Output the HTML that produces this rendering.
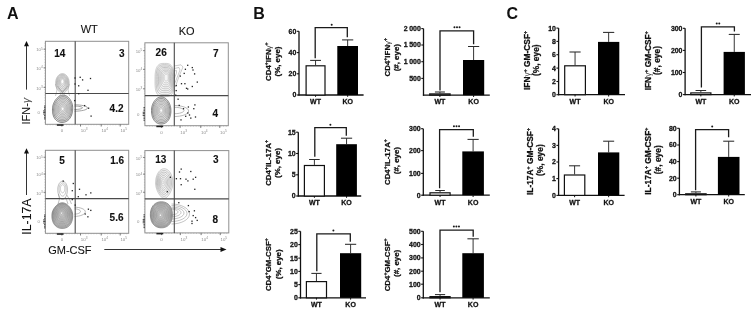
<!DOCTYPE html>
<html><head><meta charset="utf-8"><style>
html,body{margin:0;padding:0;background:#fff;overflow:hidden;width:754px;height:313px;}
svg{display:block;font-family:"Liberation Sans", sans-serif;will-change:transform;}
</style></head><body>
<svg width="754" height="313" viewBox="0 0 754 313">
<defs><filter id="soft" x="-20%" y="-20%" width="140%" height="140%"><feGaussianBlur stdDeviation="0.35"/></filter></defs>
<rect width="754" height="313" fill="#fff"/>
<text x="6.90" y="18.70" font-size="16" font-weight="bold" text-anchor="start" fill="#111" >A</text>
<text x="253.20" y="18.60" font-size="16" font-weight="bold" text-anchor="start" fill="#111" >B</text>
<text x="506.40" y="18.50" font-size="16" font-weight="bold" text-anchor="start" fill="#111" >C</text>
<line x1="299.00" y1="31.30" x2="299.00" y2="95.60" stroke="#111" stroke-width="1.3"/>
<line x1="296.80" y1="95.00" x2="299.00" y2="95.00" stroke="#111" stroke-width="1.1"/>
<text transform="translate(296.20,97.40) scale(0.92,1)" font-size="7.6" font-weight="bold" text-anchor="end" fill="#111" stroke="#111" stroke-width="0.28" letter-spacing="-0.1">0</text>
<line x1="296.80" y1="73.80" x2="299.00" y2="73.80" stroke="#111" stroke-width="1.1"/>
<text transform="translate(296.20,76.20) scale(0.92,1)" font-size="7.6" font-weight="bold" text-anchor="end" fill="#111" stroke="#111" stroke-width="0.28" letter-spacing="-0.1">20</text>
<line x1="296.80" y1="52.60" x2="299.00" y2="52.60" stroke="#111" stroke-width="1.1"/>
<text transform="translate(296.20,55.00) scale(0.92,1)" font-size="7.6" font-weight="bold" text-anchor="end" fill="#111" stroke="#111" stroke-width="0.28" letter-spacing="-0.1">40</text>
<line x1="296.80" y1="31.30" x2="299.00" y2="31.30" stroke="#111" stroke-width="1.1"/>
<text transform="translate(296.20,33.70) scale(0.92,1)" font-size="7.6" font-weight="bold" text-anchor="end" fill="#111" stroke="#111" stroke-width="0.28" letter-spacing="-0.1">60</text>
<line x1="298.40" y1="95.00" x2="363.60" y2="95.00" stroke="#111" stroke-width="1.3"/>
<line x1="315.55" y1="60.40" x2="315.55" y2="65.20" stroke="#2a2a2a" stroke-width="0.95"/>
<line x1="310.15" y1="60.40" x2="320.95" y2="60.40" stroke="#2a2a2a" stroke-width="1.05"/>
<rect x="306.10" y="65.80" width="18.90" height="29.20" fill="#fff" stroke="#111" stroke-width="1.2"/>
<line x1="315.55" y1="95.00" x2="315.55" y2="96.80" stroke="#111" stroke-width="1.0"/>
<line x1="347.65" y1="39.90" x2="347.65" y2="46.00" stroke="#2a2a2a" stroke-width="0.95"/>
<line x1="342.05" y1="39.90" x2="353.25" y2="39.90" stroke="#2a2a2a" stroke-width="1.05"/>
<rect x="337.30" y="46.00" width="20.70" height="49.00" fill="#000"/>
<line x1="347.65" y1="95.00" x2="347.65" y2="96.80" stroke="#111" stroke-width="1.0"/>
<polyline points="315.2,58.3 315.2,27.6 347.3,27.6 347.3,37.2" fill="none" stroke="#1a1a1a" stroke-width="1.3"/>
<circle cx="331.70" cy="24.70" r="1.0" fill="#1a1a1a"/>
<text x="315.55" y="104.00" font-size="7" font-weight="bold" text-anchor="middle" fill="#111" stroke="#111" stroke-width="0.28" >WT</text>
<text x="347.65" y="104.00" font-size="7" font-weight="bold" text-anchor="middle" fill="#111" stroke="#111" stroke-width="0.28" >KO</text>
<text transform="translate(270.80,61.70) scale(0.97,1) rotate(-90)" font-size="7.9" font-weight="bold" text-anchor="middle" fill="#111" stroke="#111" stroke-width="0.28">CD4<tspan baseline-shift="super" font-size="5.2">+</tspan>IFN<tspan font-weight="normal" fill="#444" stroke="none">&#947;</tspan><tspan baseline-shift="super" font-size="5.2">+</tspan></text>
<text transform="translate(279.70,61.50) scale(0.97,1) rotate(-90)" font-size="7.9" font-weight="bold" text-anchor="middle" fill="#111" stroke="#111" stroke-width="0.28">(%, eye)</text>
<line x1="423.50" y1="28.60" x2="423.50" y2="95.80" stroke="#111" stroke-width="1.3"/>
<line x1="421.30" y1="78.40" x2="423.50" y2="78.40" stroke="#111" stroke-width="1.1"/>
<text transform="translate(420.70,80.80) scale(0.92,1)" font-size="7.6" font-weight="bold" text-anchor="end" fill="#111" stroke="#111" stroke-width="0.28" letter-spacing="-0.1">500</text>
<line x1="421.30" y1="61.70" x2="423.50" y2="61.70" stroke="#111" stroke-width="1.1"/>
<text transform="translate(420.70,64.10) scale(0.92,1)" font-size="7.6" font-weight="bold" text-anchor="end" fill="#111" stroke="#111" stroke-width="0.28" letter-spacing="-0.1">1 000</text>
<line x1="421.30" y1="45.00" x2="423.50" y2="45.00" stroke="#111" stroke-width="1.1"/>
<text transform="translate(420.70,47.40) scale(0.92,1)" font-size="7.6" font-weight="bold" text-anchor="end" fill="#111" stroke="#111" stroke-width="0.28" letter-spacing="-0.1">1 500</text>
<line x1="421.30" y1="28.60" x2="423.50" y2="28.60" stroke="#111" stroke-width="1.1"/>
<text transform="translate(420.70,31.00) scale(0.92,1)" font-size="7.6" font-weight="bold" text-anchor="end" fill="#111" stroke="#111" stroke-width="0.28" letter-spacing="-0.1">2 000</text>
<line x1="422.90" y1="95.20" x2="489.80" y2="95.20" stroke="#111" stroke-width="1.3"/>
<line x1="439.90" y1="92.00" x2="439.90" y2="93.30" stroke="#2a2a2a" stroke-width="0.95"/>
<line x1="434.90" y1="92.00" x2="444.90" y2="92.00" stroke="#2a2a2a" stroke-width="1.05"/>
<rect x="429.70" y="93.90" width="20.40" height="1.30" fill="#fff" stroke="#111" stroke-width="1.2"/>
<line x1="439.90" y1="95.20" x2="439.90" y2="97.00" stroke="#111" stroke-width="1.0"/>
<line x1="473.60" y1="46.50" x2="473.60" y2="60.00" stroke="#2a2a2a" stroke-width="0.95"/>
<line x1="468.00" y1="46.50" x2="479.20" y2="46.50" stroke="#2a2a2a" stroke-width="1.05"/>
<rect x="463.00" y="60.00" width="21.20" height="35.20" fill="#000"/>
<line x1="473.60" y1="95.20" x2="473.60" y2="97.00" stroke="#111" stroke-width="1.0"/>
<polyline points="440,90.5 440,30.8 473.6,30.8 473.6,44.3" fill="none" stroke="#1a1a1a" stroke-width="1.3"/>
<circle cx="454.45" cy="27.20" r="1.0" fill="#1a1a1a"/>
<circle cx="457.00" cy="27.20" r="1.0" fill="#1a1a1a"/>
<circle cx="459.55" cy="27.20" r="1.0" fill="#1a1a1a"/>
<text x="439.90" y="104.00" font-size="7" font-weight="bold" text-anchor="middle" fill="#111" stroke="#111" stroke-width="0.28" >WT</text>
<text x="473.60" y="104.00" font-size="7" font-weight="bold" text-anchor="middle" fill="#111" stroke="#111" stroke-width="0.28" >KO</text>
<text transform="translate(389.70,57.20) scale(0.97,1) rotate(-90)" font-size="7.9" font-weight="bold" text-anchor="middle" fill="#111" stroke="#111" stroke-width="0.28">CD4<tspan baseline-shift="super" font-size="5.2">+</tspan>IFN<tspan font-weight="normal" fill="#444" stroke="none">&#947;</tspan><tspan baseline-shift="super" font-size="5.2">+</tspan></text>
<text transform="translate(398.90,57.70) scale(0.97,1) rotate(-90)" font-size="7.9" font-weight="bold" text-anchor="middle" fill="#111" stroke="#111" stroke-width="0.28">(#, eye)</text>
<line x1="298.30" y1="132.20" x2="298.30" y2="196.60" stroke="#111" stroke-width="1.3"/>
<line x1="296.10" y1="196.00" x2="298.30" y2="196.00" stroke="#111" stroke-width="1.1"/>
<text transform="translate(295.50,198.40) scale(0.92,1)" font-size="7.6" font-weight="bold" text-anchor="end" fill="#111" stroke="#111" stroke-width="0.28" letter-spacing="-0.1">0</text>
<line x1="296.10" y1="174.80" x2="298.30" y2="174.80" stroke="#111" stroke-width="1.1"/>
<text transform="translate(295.50,177.20) scale(0.92,1)" font-size="7.6" font-weight="bold" text-anchor="end" fill="#111" stroke="#111" stroke-width="0.28" letter-spacing="-0.1">5</text>
<line x1="296.10" y1="153.50" x2="298.30" y2="153.50" stroke="#111" stroke-width="1.1"/>
<text transform="translate(295.50,155.90) scale(0.92,1)" font-size="7.6" font-weight="bold" text-anchor="end" fill="#111" stroke="#111" stroke-width="0.28" letter-spacing="-0.1">10</text>
<line x1="296.10" y1="132.20" x2="298.30" y2="132.20" stroke="#111" stroke-width="1.1"/>
<text transform="translate(295.50,134.60) scale(0.92,1)" font-size="7.6" font-weight="bold" text-anchor="end" fill="#111" stroke="#111" stroke-width="0.28" letter-spacing="-0.1">15</text>
<line x1="297.70" y1="196.00" x2="361.20" y2="196.00" stroke="#111" stroke-width="1.3"/>
<line x1="314.40" y1="159.50" x2="314.40" y2="164.90" stroke="#2a2a2a" stroke-width="0.95"/>
<line x1="309.10" y1="159.50" x2="319.70" y2="159.50" stroke="#2a2a2a" stroke-width="1.05"/>
<rect x="304.40" y="165.50" width="20.00" height="30.50" fill="#fff" stroke="#111" stroke-width="1.2"/>
<line x1="314.40" y1="196.00" x2="314.40" y2="197.80" stroke="#111" stroke-width="1.0"/>
<line x1="346.55" y1="138.20" x2="346.55" y2="144.20" stroke="#2a2a2a" stroke-width="0.95"/>
<line x1="340.95" y1="138.20" x2="352.15" y2="138.20" stroke="#2a2a2a" stroke-width="1.05"/>
<rect x="336.20" y="144.20" width="20.70" height="51.80" fill="#000"/>
<line x1="346.55" y1="196.00" x2="346.55" y2="197.80" stroke="#111" stroke-width="1.0"/>
<polyline points="314.8,156.7 314.8,127.6 346.3,127.6 346.3,135.7" fill="none" stroke="#1a1a1a" stroke-width="1.3"/>
<circle cx="330.40" cy="124.80" r="1.0" fill="#1a1a1a"/>
<text x="314.40" y="205.00" font-size="7" font-weight="bold" text-anchor="middle" fill="#111" stroke="#111" stroke-width="0.28" >WT</text>
<text x="346.55" y="205.00" font-size="7" font-weight="bold" text-anchor="middle" fill="#111" stroke="#111" stroke-width="0.28" >KO</text>
<text transform="translate(270.80,162.90) scale(0.97,1) rotate(-90)" font-size="7.9" font-weight="bold" text-anchor="middle" fill="#111" stroke="#111" stroke-width="0.28">CD4<tspan baseline-shift="super" font-size="5.2">+</tspan>IL-17A<tspan baseline-shift="super" font-size="5.2">+</tspan></text>
<text transform="translate(280.10,163.00) scale(0.97,1) rotate(-90)" font-size="7.9" font-weight="bold" text-anchor="middle" fill="#111" stroke="#111" stroke-width="0.28">(%, eye)</text>
<line x1="423.30" y1="128.70" x2="423.30" y2="195.80" stroke="#111" stroke-width="1.3"/>
<line x1="421.10" y1="195.20" x2="423.30" y2="195.20" stroke="#111" stroke-width="1.1"/>
<text transform="translate(420.50,197.60) scale(0.92,1)" font-size="7.6" font-weight="bold" text-anchor="end" fill="#111" stroke="#111" stroke-width="0.28" letter-spacing="-0.1">0</text>
<line x1="421.10" y1="173.40" x2="423.30" y2="173.40" stroke="#111" stroke-width="1.1"/>
<text transform="translate(420.50,175.80) scale(0.92,1)" font-size="7.6" font-weight="bold" text-anchor="end" fill="#111" stroke="#111" stroke-width="0.28" letter-spacing="-0.1">100</text>
<line x1="421.10" y1="150.60" x2="423.30" y2="150.60" stroke="#111" stroke-width="1.1"/>
<text transform="translate(420.50,153.00) scale(0.92,1)" font-size="7.6" font-weight="bold" text-anchor="end" fill="#111" stroke="#111" stroke-width="0.28" letter-spacing="-0.1">200</text>
<line x1="421.10" y1="128.70" x2="423.30" y2="128.70" stroke="#111" stroke-width="1.1"/>
<text transform="translate(420.50,131.10) scale(0.92,1)" font-size="7.6" font-weight="bold" text-anchor="end" fill="#111" stroke="#111" stroke-width="0.28" letter-spacing="-0.1">300</text>
<line x1="422.70" y1="195.20" x2="489.80" y2="195.20" stroke="#111" stroke-width="1.3"/>
<line x1="440.05" y1="190.50" x2="440.05" y2="192.20" stroke="#2a2a2a" stroke-width="0.95"/>
<line x1="435.25" y1="190.50" x2="444.85" y2="190.50" stroke="#2a2a2a" stroke-width="1.05"/>
<rect x="430.00" y="192.80" width="20.10" height="2.40" fill="#fff" stroke="#111" stroke-width="1.2"/>
<line x1="440.05" y1="195.20" x2="440.05" y2="197.00" stroke="#111" stroke-width="1.0"/>
<line x1="473.10" y1="139.40" x2="473.10" y2="151.40" stroke="#2a2a2a" stroke-width="0.95"/>
<line x1="467.50" y1="139.40" x2="478.70" y2="139.40" stroke="#2a2a2a" stroke-width="1.05"/>
<rect x="462.30" y="151.40" width="21.60" height="43.80" fill="#000"/>
<line x1="473.10" y1="195.20" x2="473.10" y2="197.00" stroke="#111" stroke-width="1.0"/>
<polyline points="439.6,188.3 439.6,129.6 473.3,129.6 473.3,136.8" fill="none" stroke="#1a1a1a" stroke-width="1.3"/>
<circle cx="453.95" cy="126.30" r="1.0" fill="#1a1a1a"/>
<circle cx="456.50" cy="126.30" r="1.0" fill="#1a1a1a"/>
<circle cx="459.05" cy="126.30" r="1.0" fill="#1a1a1a"/>
<text x="440.05" y="205.00" font-size="7" font-weight="bold" text-anchor="middle" fill="#111" stroke="#111" stroke-width="0.28" >WT</text>
<text x="473.10" y="205.00" font-size="7" font-weight="bold" text-anchor="middle" fill="#111" stroke="#111" stroke-width="0.28" >KO</text>
<text transform="translate(389.70,162.10) scale(0.97,1) rotate(-90)" font-size="7.9" font-weight="bold" text-anchor="middle" fill="#111" stroke="#111" stroke-width="0.28">CD4<tspan baseline-shift="super" font-size="5.2">+</tspan>IL-17A<tspan baseline-shift="super" font-size="5.2">+</tspan></text>
<text transform="translate(399.00,160.60) scale(0.97,1) rotate(-90)" font-size="7.9" font-weight="bold" text-anchor="middle" fill="#111" stroke="#111" stroke-width="0.28">(#, eye)</text>
<line x1="300.50" y1="231.30" x2="300.50" y2="298.40" stroke="#111" stroke-width="1.3"/>
<line x1="298.30" y1="297.80" x2="300.50" y2="297.80" stroke="#111" stroke-width="1.1"/>
<text transform="translate(297.70,300.20) scale(0.92,1)" font-size="7.6" font-weight="bold" text-anchor="end" fill="#111" stroke="#111" stroke-width="0.28" letter-spacing="-0.1">0</text>
<line x1="298.30" y1="284.60" x2="300.50" y2="284.60" stroke="#111" stroke-width="1.1"/>
<text transform="translate(297.70,287.00) scale(0.92,1)" font-size="7.6" font-weight="bold" text-anchor="end" fill="#111" stroke="#111" stroke-width="0.28" letter-spacing="-0.1">5</text>
<line x1="298.30" y1="271.40" x2="300.50" y2="271.40" stroke="#111" stroke-width="1.1"/>
<text transform="translate(297.70,273.80) scale(0.92,1)" font-size="7.6" font-weight="bold" text-anchor="end" fill="#111" stroke="#111" stroke-width="0.28" letter-spacing="-0.1">10</text>
<line x1="298.30" y1="258.10" x2="300.50" y2="258.10" stroke="#111" stroke-width="1.1"/>
<text transform="translate(297.70,260.50) scale(0.92,1)" font-size="7.6" font-weight="bold" text-anchor="end" fill="#111" stroke="#111" stroke-width="0.28" letter-spacing="-0.1">15</text>
<line x1="298.30" y1="244.60" x2="300.50" y2="244.60" stroke="#111" stroke-width="1.1"/>
<text transform="translate(297.70,247.00) scale(0.92,1)" font-size="7.6" font-weight="bold" text-anchor="end" fill="#111" stroke="#111" stroke-width="0.28" letter-spacing="-0.1">20</text>
<line x1="298.30" y1="231.30" x2="300.50" y2="231.30" stroke="#111" stroke-width="1.1"/>
<text transform="translate(297.70,233.70) scale(0.92,1)" font-size="7.6" font-weight="bold" text-anchor="end" fill="#111" stroke="#111" stroke-width="0.28" letter-spacing="-0.1">25</text>
<line x1="299.90" y1="297.80" x2="366.00" y2="297.80" stroke="#111" stroke-width="1.3"/>
<line x1="316.45" y1="273.40" x2="316.45" y2="281.00" stroke="#2a2a2a" stroke-width="0.95"/>
<line x1="311.35" y1="273.40" x2="321.55" y2="273.40" stroke="#2a2a2a" stroke-width="1.05"/>
<rect x="306.40" y="281.60" width="20.10" height="16.20" fill="#fff" stroke="#111" stroke-width="1.2"/>
<line x1="316.45" y1="297.80" x2="316.45" y2="299.60" stroke="#111" stroke-width="1.0"/>
<line x1="350.60" y1="244.30" x2="350.60" y2="253.20" stroke="#2a2a2a" stroke-width="0.95"/>
<line x1="345.00" y1="244.30" x2="356.20" y2="244.30" stroke="#2a2a2a" stroke-width="1.05"/>
<rect x="340.00" y="253.20" width="21.20" height="44.60" fill="#000"/>
<line x1="350.60" y1="297.80" x2="350.60" y2="299.60" stroke="#111" stroke-width="1.0"/>
<polyline points="316.8,271.2 316.8,233.8 350.3,233.8 350.3,241.8" fill="none" stroke="#1a1a1a" stroke-width="1.3"/>
<circle cx="333.40" cy="230.40" r="1.0" fill="#1a1a1a"/>
<text x="316.45" y="307.00" font-size="7" font-weight="bold" text-anchor="middle" fill="#111" stroke="#111" stroke-width="0.28" >WT</text>
<text x="350.60" y="307.00" font-size="7" font-weight="bold" text-anchor="middle" fill="#111" stroke="#111" stroke-width="0.28" >KO</text>
<text transform="translate(271.00,264.60) scale(0.97,1) rotate(-90)" font-size="7.9" font-weight="bold" text-anchor="middle" fill="#111" stroke="#111" stroke-width="0.28">CD4<tspan baseline-shift="super" font-size="5.2">+</tspan>GM-CSF<tspan baseline-shift="super" font-size="5.2">+</tspan></text>
<text transform="translate(280.60,264.30) scale(0.97,1) rotate(-90)" font-size="7.9" font-weight="bold" text-anchor="middle" fill="#111" stroke="#111" stroke-width="0.28">(%, eye)</text>
<line x1="423.30" y1="231.30" x2="423.30" y2="298.40" stroke="#111" stroke-width="1.3"/>
<line x1="421.10" y1="297.80" x2="423.30" y2="297.80" stroke="#111" stroke-width="1.1"/>
<text transform="translate(420.50,300.20) scale(0.92,1)" font-size="7.6" font-weight="bold" text-anchor="end" fill="#111" stroke="#111" stroke-width="0.28" letter-spacing="-0.1">0</text>
<line x1="421.10" y1="284.20" x2="423.30" y2="284.20" stroke="#111" stroke-width="1.1"/>
<text transform="translate(420.50,286.60) scale(0.92,1)" font-size="7.6" font-weight="bold" text-anchor="end" fill="#111" stroke="#111" stroke-width="0.28" letter-spacing="-0.1">100</text>
<line x1="421.10" y1="271.20" x2="423.30" y2="271.20" stroke="#111" stroke-width="1.1"/>
<text transform="translate(420.50,273.60) scale(0.92,1)" font-size="7.6" font-weight="bold" text-anchor="end" fill="#111" stroke="#111" stroke-width="0.28" letter-spacing="-0.1">200</text>
<line x1="421.10" y1="257.90" x2="423.30" y2="257.90" stroke="#111" stroke-width="1.1"/>
<text transform="translate(420.50,260.30) scale(0.92,1)" font-size="7.6" font-weight="bold" text-anchor="end" fill="#111" stroke="#111" stroke-width="0.28" letter-spacing="-0.1">300</text>
<line x1="421.10" y1="244.50" x2="423.30" y2="244.50" stroke="#111" stroke-width="1.1"/>
<text transform="translate(420.50,246.90) scale(0.92,1)" font-size="7.6" font-weight="bold" text-anchor="end" fill="#111" stroke="#111" stroke-width="0.28" letter-spacing="-0.1">400</text>
<line x1="421.10" y1="231.30" x2="423.30" y2="231.30" stroke="#111" stroke-width="1.1"/>
<text transform="translate(420.50,233.70) scale(0.92,1)" font-size="7.6" font-weight="bold" text-anchor="end" fill="#111" stroke="#111" stroke-width="0.28" letter-spacing="-0.1">500</text>
<line x1="422.70" y1="297.80" x2="489.80" y2="297.80" stroke="#111" stroke-width="1.3"/>
<line x1="440.05" y1="294.60" x2="440.05" y2="296.00" stroke="#2a2a2a" stroke-width="0.95"/>
<line x1="434.95" y1="294.60" x2="445.15" y2="294.60" stroke="#2a2a2a" stroke-width="1.05"/>
<rect x="430.00" y="296.60" width="20.10" height="1.20" fill="#fff" stroke="#111" stroke-width="1.2"/>
<line x1="440.05" y1="297.80" x2="440.05" y2="299.60" stroke="#111" stroke-width="1.0"/>
<line x1="473.10" y1="238.80" x2="473.10" y2="253.20" stroke="#2a2a2a" stroke-width="0.95"/>
<line x1="467.40" y1="238.80" x2="478.80" y2="238.80" stroke="#2a2a2a" stroke-width="1.05"/>
<rect x="462.30" y="253.20" width="21.60" height="44.60" fill="#000"/>
<line x1="473.10" y1="297.80" x2="473.10" y2="299.60" stroke="#111" stroke-width="1.0"/>
<polyline points="440,292.2 440,230.2 473.2,230.2 473.2,236.8" fill="none" stroke="#1a1a1a" stroke-width="1.3"/>
<circle cx="453.85" cy="226.60" r="1.0" fill="#1a1a1a"/>
<circle cx="456.40" cy="226.60" r="1.0" fill="#1a1a1a"/>
<circle cx="458.95" cy="226.60" r="1.0" fill="#1a1a1a"/>
<text x="440.05" y="307.00" font-size="7" font-weight="bold" text-anchor="middle" fill="#111" stroke="#111" stroke-width="0.28" >WT</text>
<text x="473.10" y="307.00" font-size="7" font-weight="bold" text-anchor="middle" fill="#111" stroke="#111" stroke-width="0.28" >KO</text>
<text transform="translate(389.70,264.90) scale(0.97,1) rotate(-90)" font-size="7.9" font-weight="bold" text-anchor="middle" fill="#111" stroke="#111" stroke-width="0.28">CD4<tspan baseline-shift="super" font-size="5.2">+</tspan>GM-CSF<tspan baseline-shift="super" font-size="5.2">+</tspan></text>
<text transform="translate(399.00,263.40) scale(0.97,1) rotate(-90)" font-size="7.9" font-weight="bold" text-anchor="middle" fill="#111" stroke="#111" stroke-width="0.28">(#, eye)</text>
<line x1="558.60" y1="28.10" x2="558.60" y2="95.30" stroke="#111" stroke-width="1.3"/>
<line x1="556.40" y1="94.70" x2="558.60" y2="94.70" stroke="#111" stroke-width="1.1"/>
<text transform="translate(555.80,97.10) scale(0.92,1)" font-size="7.6" font-weight="bold" text-anchor="end" fill="#111" stroke="#111" stroke-width="0.28" letter-spacing="-0.1">0</text>
<line x1="556.40" y1="81.50" x2="558.60" y2="81.50" stroke="#111" stroke-width="1.1"/>
<text transform="translate(555.80,83.90) scale(0.92,1)" font-size="7.6" font-weight="bold" text-anchor="end" fill="#111" stroke="#111" stroke-width="0.28" letter-spacing="-0.1">2</text>
<line x1="556.40" y1="68.10" x2="558.60" y2="68.10" stroke="#111" stroke-width="1.1"/>
<text transform="translate(555.80,70.50) scale(0.92,1)" font-size="7.6" font-weight="bold" text-anchor="end" fill="#111" stroke="#111" stroke-width="0.28" letter-spacing="-0.1">4</text>
<line x1="556.40" y1="54.70" x2="558.60" y2="54.70" stroke="#111" stroke-width="1.1"/>
<text transform="translate(555.80,57.10) scale(0.92,1)" font-size="7.6" font-weight="bold" text-anchor="end" fill="#111" stroke="#111" stroke-width="0.28" letter-spacing="-0.1">6</text>
<line x1="556.40" y1="41.40" x2="558.60" y2="41.40" stroke="#111" stroke-width="1.1"/>
<text transform="translate(555.80,43.80) scale(0.92,1)" font-size="7.6" font-weight="bold" text-anchor="end" fill="#111" stroke="#111" stroke-width="0.28" letter-spacing="-0.1">8</text>
<line x1="556.40" y1="28.10" x2="558.60" y2="28.10" stroke="#111" stroke-width="1.1"/>
<text transform="translate(555.80,30.50) scale(0.92,1)" font-size="7.6" font-weight="bold" text-anchor="end" fill="#111" stroke="#111" stroke-width="0.28" letter-spacing="-0.1">10</text>
<line x1="558.00" y1="94.70" x2="625.00" y2="94.70" stroke="#111" stroke-width="1.3"/>
<line x1="575.05" y1="52.00" x2="575.05" y2="65.20" stroke="#2a2a2a" stroke-width="0.95"/>
<line x1="569.45" y1="52.00" x2="580.65" y2="52.00" stroke="#2a2a2a" stroke-width="1.05"/>
<rect x="564.70" y="65.80" width="20.70" height="28.90" fill="#fff" stroke="#111" stroke-width="1.2"/>
<line x1="575.05" y1="94.70" x2="575.05" y2="96.50" stroke="#111" stroke-width="1.0"/>
<line x1="608.65" y1="32.40" x2="608.65" y2="41.90" stroke="#2a2a2a" stroke-width="0.95"/>
<line x1="603.05" y1="32.40" x2="614.25" y2="32.40" stroke="#2a2a2a" stroke-width="1.05"/>
<rect x="598.00" y="41.90" width="21.30" height="52.80" fill="#000"/>
<line x1="608.65" y1="94.70" x2="608.65" y2="96.50" stroke="#111" stroke-width="1.0"/>
<text x="575.05" y="104.00" font-size="7" font-weight="bold" text-anchor="middle" fill="#111" stroke="#111" stroke-width="0.28" >WT</text>
<text x="608.65" y="104.00" font-size="7" font-weight="bold" text-anchor="middle" fill="#111" stroke="#111" stroke-width="0.28" >KO</text>
<text transform="translate(529.60,60.50) scale(1.0,1) rotate(-90)" font-size="8.4" font-weight="bold" text-anchor="middle" fill="#111" stroke="#111" stroke-width="0.28">IFN<tspan font-weight="normal" fill="#444" stroke="none">&#947;</tspan><tspan baseline-shift="super" font-size="5.2">+</tspan> GM-CSF<tspan baseline-shift="super" font-size="5.2">+</tspan></text>
<text transform="translate(538.80,60.20) scale(1.0,1) rotate(-90)" font-size="8.4" font-weight="bold" text-anchor="middle" fill="#111" stroke="#111" stroke-width="0.28">(%, eye)</text>
<line x1="685.10" y1="28.30" x2="685.10" y2="95.20" stroke="#111" stroke-width="1.3"/>
<line x1="682.90" y1="94.60" x2="685.10" y2="94.60" stroke="#111" stroke-width="1.1"/>
<text transform="translate(682.30,97.00) scale(0.92,1)" font-size="7.6" font-weight="bold" text-anchor="end" fill="#111" stroke="#111" stroke-width="0.28" letter-spacing="-0.1">0</text>
<line x1="682.90" y1="72.50" x2="685.10" y2="72.50" stroke="#111" stroke-width="1.1"/>
<text transform="translate(682.30,74.90) scale(0.92,1)" font-size="7.6" font-weight="bold" text-anchor="end" fill="#111" stroke="#111" stroke-width="0.28" letter-spacing="-0.1">100</text>
<line x1="682.90" y1="50.40" x2="685.10" y2="50.40" stroke="#111" stroke-width="1.1"/>
<text transform="translate(682.30,52.80) scale(0.92,1)" font-size="7.6" font-weight="bold" text-anchor="end" fill="#111" stroke="#111" stroke-width="0.28" letter-spacing="-0.1">200</text>
<line x1="682.90" y1="28.30" x2="685.10" y2="28.30" stroke="#111" stroke-width="1.1"/>
<text transform="translate(682.30,30.70) scale(0.92,1)" font-size="7.6" font-weight="bold" text-anchor="end" fill="#111" stroke="#111" stroke-width="0.28" letter-spacing="-0.1">300</text>
<line x1="684.50" y1="94.60" x2="751.00" y2="94.60" stroke="#111" stroke-width="1.3"/>
<line x1="700.85" y1="90.50" x2="700.85" y2="92.30" stroke="#2a2a2a" stroke-width="0.95"/>
<line x1="695.55" y1="90.50" x2="706.15" y2="90.50" stroke="#2a2a2a" stroke-width="1.05"/>
<rect x="690.80" y="92.90" width="20.10" height="1.70" fill="#fff" stroke="#111" stroke-width="1.2"/>
<line x1="700.85" y1="94.60" x2="700.85" y2="96.40" stroke="#111" stroke-width="1.0"/>
<line x1="734.25" y1="34.40" x2="734.25" y2="51.90" stroke="#2a2a2a" stroke-width="0.95"/>
<line x1="728.75" y1="34.40" x2="739.75" y2="34.40" stroke="#2a2a2a" stroke-width="1.05"/>
<rect x="723.60" y="51.90" width="21.30" height="42.70" fill="#000"/>
<line x1="734.25" y1="94.60" x2="734.25" y2="96.40" stroke="#111" stroke-width="1.0"/>
<polyline points="701.4,87.6 701.4,26.8 734.4,26.8 734.4,31.4" fill="none" stroke="#1a1a1a" stroke-width="1.3"/>
<circle cx="716.73" cy="23.60" r="1.0" fill="#1a1a1a"/>
<circle cx="719.27" cy="23.60" r="1.0" fill="#1a1a1a"/>
<text x="700.85" y="104.00" font-size="7" font-weight="bold" text-anchor="middle" fill="#111" stroke="#111" stroke-width="0.28" >WT</text>
<text x="734.25" y="104.00" font-size="7" font-weight="bold" text-anchor="middle" fill="#111" stroke="#111" stroke-width="0.28" >KO</text>
<text transform="translate(650.80,60.80) scale(1.0,1) rotate(-90)" font-size="8.4" font-weight="bold" text-anchor="middle" fill="#111" stroke="#111" stroke-width="0.28">IFN<tspan font-weight="normal" fill="#444" stroke="none">&#947;</tspan><tspan baseline-shift="super" font-size="5.2">+</tspan> GM-CSF<tspan baseline-shift="super" font-size="5.2">+</tspan></text>
<text transform="translate(660.30,60.50) scale(1.0,1) rotate(-90)" font-size="8.4" font-weight="bold" text-anchor="middle" fill="#111" stroke="#111" stroke-width="0.28">(#, eye)</text>
<line x1="558.60" y1="128.80" x2="558.60" y2="196.00" stroke="#111" stroke-width="1.3"/>
<line x1="556.40" y1="195.40" x2="558.60" y2="195.40" stroke="#111" stroke-width="1.1"/>
<text transform="translate(555.80,197.80) scale(0.92,1)" font-size="7.6" font-weight="bold" text-anchor="end" fill="#111" stroke="#111" stroke-width="0.28" letter-spacing="-0.1">0</text>
<line x1="556.40" y1="178.60" x2="558.60" y2="178.60" stroke="#111" stroke-width="1.1"/>
<text transform="translate(555.80,181.00) scale(0.92,1)" font-size="7.6" font-weight="bold" text-anchor="end" fill="#111" stroke="#111" stroke-width="0.28" letter-spacing="-0.1">1</text>
<line x1="556.40" y1="162.00" x2="558.60" y2="162.00" stroke="#111" stroke-width="1.1"/>
<text transform="translate(555.80,164.40) scale(0.92,1)" font-size="7.6" font-weight="bold" text-anchor="end" fill="#111" stroke="#111" stroke-width="0.28" letter-spacing="-0.1">2</text>
<line x1="556.40" y1="145.40" x2="558.60" y2="145.40" stroke="#111" stroke-width="1.1"/>
<text transform="translate(555.80,147.80) scale(0.92,1)" font-size="7.6" font-weight="bold" text-anchor="end" fill="#111" stroke="#111" stroke-width="0.28" letter-spacing="-0.1">3</text>
<line x1="556.40" y1="128.80" x2="558.60" y2="128.80" stroke="#111" stroke-width="1.1"/>
<text transform="translate(555.80,131.20) scale(0.92,1)" font-size="7.6" font-weight="bold" text-anchor="end" fill="#111" stroke="#111" stroke-width="0.28" letter-spacing="-0.1">4</text>
<line x1="558.00" y1="195.40" x2="624.60" y2="195.40" stroke="#111" stroke-width="1.3"/>
<line x1="574.60" y1="165.80" x2="574.60" y2="174.40" stroke="#2a2a2a" stroke-width="0.95"/>
<line x1="569.10" y1="165.80" x2="580.10" y2="165.80" stroke="#2a2a2a" stroke-width="1.05"/>
<rect x="564.40" y="175.00" width="20.40" height="20.40" fill="#fff" stroke="#111" stroke-width="1.2"/>
<line x1="574.60" y1="195.40" x2="574.60" y2="197.20" stroke="#111" stroke-width="1.0"/>
<line x1="608.65" y1="141.20" x2="608.65" y2="152.40" stroke="#2a2a2a" stroke-width="0.95"/>
<line x1="603.15" y1="141.20" x2="614.15" y2="141.20" stroke="#2a2a2a" stroke-width="1.05"/>
<rect x="598.00" y="152.40" width="21.30" height="43.00" fill="#000"/>
<line x1="608.65" y1="195.40" x2="608.65" y2="197.20" stroke="#111" stroke-width="1.0"/>
<text x="574.60" y="204.50" font-size="7" font-weight="bold" text-anchor="middle" fill="#111" stroke="#111" stroke-width="0.28" >WT</text>
<text x="608.65" y="204.50" font-size="7" font-weight="bold" text-anchor="middle" fill="#111" stroke="#111" stroke-width="0.28" >KO</text>
<text transform="translate(533.40,161.50) scale(1.0,1) rotate(-90)" font-size="8.4" font-weight="bold" text-anchor="middle" fill="#111" stroke="#111" stroke-width="0.28">IL-17A<tspan baseline-shift="super" font-size="5.2">+</tspan> GM-CSF<tspan baseline-shift="super" font-size="5.2">+</tspan></text>
<text transform="translate(543.40,160.10) scale(1.0,1) rotate(-90)" font-size="8.4" font-weight="bold" text-anchor="middle" fill="#111" stroke="#111" stroke-width="0.28">(%, eye)</text>
<line x1="679.40" y1="128.30" x2="679.40" y2="195.30" stroke="#111" stroke-width="1.3"/>
<line x1="677.20" y1="194.70" x2="679.40" y2="194.70" stroke="#111" stroke-width="1.1"/>
<text transform="translate(676.60,197.10) scale(0.92,1)" font-size="7.6" font-weight="bold" text-anchor="end" fill="#111" stroke="#111" stroke-width="0.28" letter-spacing="-0.1">0</text>
<line x1="677.20" y1="178.20" x2="679.40" y2="178.20" stroke="#111" stroke-width="1.1"/>
<text transform="translate(676.60,180.60) scale(0.92,1)" font-size="7.6" font-weight="bold" text-anchor="end" fill="#111" stroke="#111" stroke-width="0.28" letter-spacing="-0.1">20</text>
<line x1="677.20" y1="161.60" x2="679.40" y2="161.60" stroke="#111" stroke-width="1.1"/>
<text transform="translate(676.60,164.00) scale(0.92,1)" font-size="7.6" font-weight="bold" text-anchor="end" fill="#111" stroke="#111" stroke-width="0.28" letter-spacing="-0.1">40</text>
<line x1="677.20" y1="145.00" x2="679.40" y2="145.00" stroke="#111" stroke-width="1.1"/>
<text transform="translate(676.60,147.40) scale(0.92,1)" font-size="7.6" font-weight="bold" text-anchor="end" fill="#111" stroke="#111" stroke-width="0.28" letter-spacing="-0.1">60</text>
<line x1="677.20" y1="128.30" x2="679.40" y2="128.30" stroke="#111" stroke-width="1.1"/>
<text transform="translate(676.60,130.70) scale(0.92,1)" font-size="7.6" font-weight="bold" text-anchor="end" fill="#111" stroke="#111" stroke-width="0.28" letter-spacing="-0.1">80</text>
<line x1="678.80" y1="194.70" x2="744.80" y2="194.70" stroke="#111" stroke-width="1.3"/>
<line x1="695.90" y1="191.90" x2="695.90" y2="193.20" stroke="#2a2a2a" stroke-width="0.95"/>
<line x1="690.90" y1="191.90" x2="700.90" y2="191.90" stroke="#2a2a2a" stroke-width="1.05"/>
<rect x="685.70" y="193.80" width="20.40" height="0.90" fill="#fff" stroke="#111" stroke-width="1.2"/>
<line x1="695.90" y1="194.70" x2="695.90" y2="196.50" stroke="#111" stroke-width="1.0"/>
<line x1="728.70" y1="141.20" x2="728.70" y2="156.90" stroke="#2a2a2a" stroke-width="0.95"/>
<line x1="723.20" y1="141.20" x2="734.20" y2="141.20" stroke="#2a2a2a" stroke-width="1.05"/>
<rect x="717.90" y="156.90" width="21.60" height="37.80" fill="#000"/>
<line x1="728.70" y1="194.70" x2="728.70" y2="196.50" stroke="#111" stroke-width="1.0"/>
<polyline points="695.6,190.3 695.6,129.6 728.6,129.6 728.6,137.2" fill="none" stroke="#1a1a1a" stroke-width="1.3"/>
<circle cx="712.20" cy="126.60" r="1.0" fill="#1a1a1a"/>
<text x="695.90" y="204.00" font-size="7" font-weight="bold" text-anchor="middle" fill="#111" stroke="#111" stroke-width="0.28" >WT</text>
<text x="728.70" y="204.00" font-size="7" font-weight="bold" text-anchor="middle" fill="#111" stroke="#111" stroke-width="0.28" >KO</text>
<text transform="translate(651.40,161.20) scale(1.0,1) rotate(-90)" font-size="8.4" font-weight="bold" text-anchor="middle" fill="#111" stroke="#111" stroke-width="0.28">IL-17A<tspan baseline-shift="super" font-size="5.2">+</tspan> GM-CSF<tspan baseline-shift="super" font-size="5.2">+</tspan></text>
<text transform="translate(660.80,159.75) scale(1.0,1) rotate(-90)" font-size="8.4" font-weight="bold" text-anchor="middle" fill="#111" stroke="#111" stroke-width="0.28">(#, eye)</text>
<text x="89.20" y="33.30" font-size="11" font-weight="normal" text-anchor="middle" fill="#111" stroke="#111" stroke-width="0.08">WT</text>
<text x="186.60" y="34.60" font-size="11" font-weight="normal" text-anchor="middle" fill="#111" stroke="#111" stroke-width="0.08">KO</text>
<rect x="45.4" y="41.3" width="83.29999999999998" height="83.0" fill="none" stroke="#8f8f8f" stroke-width="1.0"/>
<text x="42.80" y="51.48" font-size="4.3" text-anchor="end" fill="#8c8c8c">10<tspan dy="-1.7" font-size="3.2">5</tspan></text>
<line x1="43.60" y1="49.18" x2="45.40" y2="49.18" stroke="#555" stroke-width="0.8"/>
<text x="42.80" y="70.16" font-size="4.3" text-anchor="end" fill="#8c8c8c">10<tspan dy="-1.7" font-size="3.2">4</tspan></text>
<line x1="43.60" y1="67.86" x2="45.40" y2="67.86" stroke="#555" stroke-width="0.8"/>
<text x="42.80" y="89.67" font-size="4.3" text-anchor="end" fill="#8c8c8c">10<tspan dy="-1.7" font-size="3.2">3</tspan></text>
<line x1="43.60" y1="87.37" x2="45.40" y2="87.37" stroke="#555" stroke-width="0.8"/>
<text x="39.80" y="114.15" font-size="4.3" text-anchor="end" fill="#8c8c8c">0</text>
<line x1="43.60" y1="111.85" x2="45.40" y2="111.85" stroke="#555" stroke-width="0.8"/>
<line x1="44.40" y1="43.30" x2="45.40" y2="43.30" stroke="#999" stroke-width="0.45"/>
<line x1="44.40" y1="46.02" x2="45.40" y2="46.02" stroke="#999" stroke-width="0.45"/>
<line x1="44.40" y1="48.75" x2="45.40" y2="48.75" stroke="#999" stroke-width="0.45"/>
<line x1="44.40" y1="51.47" x2="45.40" y2="51.47" stroke="#999" stroke-width="0.45"/>
<line x1="44.40" y1="54.20" x2="45.40" y2="54.20" stroke="#999" stroke-width="0.45"/>
<line x1="44.40" y1="56.92" x2="45.40" y2="56.92" stroke="#999" stroke-width="0.45"/>
<line x1="44.40" y1="59.64" x2="45.40" y2="59.64" stroke="#999" stroke-width="0.45"/>
<line x1="44.40" y1="62.37" x2="45.40" y2="62.37" stroke="#999" stroke-width="0.45"/>
<line x1="44.40" y1="65.09" x2="45.40" y2="65.09" stroke="#999" stroke-width="0.45"/>
<line x1="44.40" y1="67.82" x2="45.40" y2="67.82" stroke="#999" stroke-width="0.45"/>
<line x1="44.40" y1="70.54" x2="45.40" y2="70.54" stroke="#999" stroke-width="0.45"/>
<line x1="44.40" y1="73.27" x2="45.40" y2="73.27" stroke="#999" stroke-width="0.45"/>
<line x1="44.40" y1="75.99" x2="45.40" y2="75.99" stroke="#999" stroke-width="0.45"/>
<line x1="44.40" y1="78.71" x2="45.40" y2="78.71" stroke="#999" stroke-width="0.45"/>
<line x1="44.40" y1="81.44" x2="45.40" y2="81.44" stroke="#999" stroke-width="0.45"/>
<line x1="44.40" y1="84.16" x2="45.40" y2="84.16" stroke="#999" stroke-width="0.45"/>
<line x1="44.40" y1="86.89" x2="45.40" y2="86.89" stroke="#999" stroke-width="0.45"/>
<line x1="44.40" y1="89.61" x2="45.40" y2="89.61" stroke="#999" stroke-width="0.45"/>
<line x1="44.40" y1="92.33" x2="45.40" y2="92.33" stroke="#999" stroke-width="0.45"/>
<line x1="44.40" y1="95.06" x2="45.40" y2="95.06" stroke="#999" stroke-width="0.45"/>
<line x1="44.40" y1="97.78" x2="45.40" y2="97.78" stroke="#999" stroke-width="0.45"/>
<line x1="44.40" y1="100.51" x2="45.40" y2="100.51" stroke="#999" stroke-width="0.45"/>
<line x1="44.40" y1="103.23" x2="45.40" y2="103.23" stroke="#999" stroke-width="0.45"/>
<line x1="44.40" y1="105.96" x2="45.40" y2="105.96" stroke="#999" stroke-width="0.45"/>
<line x1="44.40" y1="108.68" x2="45.40" y2="108.68" stroke="#999" stroke-width="0.45"/>
<line x1="44.40" y1="111.40" x2="45.40" y2="111.40" stroke="#999" stroke-width="0.45"/>
<line x1="44.40" y1="114.13" x2="45.40" y2="114.13" stroke="#999" stroke-width="0.45"/>
<line x1="44.40" y1="116.85" x2="45.40" y2="116.85" stroke="#999" stroke-width="0.45"/>
<line x1="44.40" y1="119.58" x2="45.40" y2="119.58" stroke="#999" stroke-width="0.45"/>
<line x1="44.40" y1="122.30" x2="45.40" y2="122.30" stroke="#999" stroke-width="0.45"/>
<text x="61.89" y="132.10" font-size="4.4" text-anchor="middle" fill="#8c8c8c">0</text>
<line x1="61.89" y1="124.30" x2="61.89" y2="126.50" stroke="#555" stroke-width="0.8"/>
<text x="80.75" y="132.10" font-size="4.4" text-anchor="start" fill="#8c8c8c">10<tspan dy="-1.7" font-size="3.2">3</tspan></text>
<line x1="80.55" y1="124.30" x2="80.55" y2="126.50" stroke="#555" stroke-width="0.8"/>
<text x="101.41" y="132.10" font-size="4.4" text-anchor="start" fill="#8c8c8c">10<tspan dy="-1.7" font-size="3.2">4</tspan></text>
<line x1="101.21" y1="124.30" x2="101.21" y2="126.50" stroke="#555" stroke-width="0.8"/>
<text x="120.40" y="132.10" font-size="4.4" text-anchor="start" fill="#8c8c8c">10<tspan dy="-1.7" font-size="3.2">5</tspan></text>
<line x1="120.20" y1="124.30" x2="120.20" y2="126.50" stroke="#555" stroke-width="0.8"/>
<line x1="47.40" y1="124.30" x2="47.40" y2="125.30" stroke="#999" stroke-width="0.45"/>
<line x1="50.13" y1="124.30" x2="50.13" y2="125.30" stroke="#999" stroke-width="0.45"/>
<line x1="52.87" y1="124.30" x2="52.87" y2="125.30" stroke="#999" stroke-width="0.45"/>
<line x1="55.60" y1="124.30" x2="55.60" y2="125.30" stroke="#999" stroke-width="0.45"/>
<line x1="58.34" y1="124.30" x2="58.34" y2="125.30" stroke="#999" stroke-width="0.45"/>
<line x1="61.07" y1="124.30" x2="61.07" y2="125.30" stroke="#999" stroke-width="0.45"/>
<line x1="63.81" y1="124.30" x2="63.81" y2="125.30" stroke="#999" stroke-width="0.45"/>
<line x1="66.54" y1="124.30" x2="66.54" y2="125.30" stroke="#999" stroke-width="0.45"/>
<line x1="69.28" y1="124.30" x2="69.28" y2="125.30" stroke="#999" stroke-width="0.45"/>
<line x1="72.01" y1="124.30" x2="72.01" y2="125.30" stroke="#999" stroke-width="0.45"/>
<line x1="74.74" y1="124.30" x2="74.74" y2="125.30" stroke="#999" stroke-width="0.45"/>
<line x1="77.48" y1="124.30" x2="77.48" y2="125.30" stroke="#999" stroke-width="0.45"/>
<line x1="80.21" y1="124.30" x2="80.21" y2="125.30" stroke="#999" stroke-width="0.45"/>
<line x1="82.95" y1="124.30" x2="82.95" y2="125.30" stroke="#999" stroke-width="0.45"/>
<line x1="85.68" y1="124.30" x2="85.68" y2="125.30" stroke="#999" stroke-width="0.45"/>
<line x1="88.42" y1="124.30" x2="88.42" y2="125.30" stroke="#999" stroke-width="0.45"/>
<line x1="91.15" y1="124.30" x2="91.15" y2="125.30" stroke="#999" stroke-width="0.45"/>
<line x1="93.89" y1="124.30" x2="93.89" y2="125.30" stroke="#999" stroke-width="0.45"/>
<line x1="96.62" y1="124.30" x2="96.62" y2="125.30" stroke="#999" stroke-width="0.45"/>
<line x1="99.36" y1="124.30" x2="99.36" y2="125.30" stroke="#999" stroke-width="0.45"/>
<line x1="102.09" y1="124.30" x2="102.09" y2="125.30" stroke="#999" stroke-width="0.45"/>
<line x1="104.82" y1="124.30" x2="104.82" y2="125.30" stroke="#999" stroke-width="0.45"/>
<line x1="107.56" y1="124.30" x2="107.56" y2="125.30" stroke="#999" stroke-width="0.45"/>
<line x1="110.29" y1="124.30" x2="110.29" y2="125.30" stroke="#999" stroke-width="0.45"/>
<line x1="113.03" y1="124.30" x2="113.03" y2="125.30" stroke="#999" stroke-width="0.45"/>
<line x1="115.76" y1="124.30" x2="115.76" y2="125.30" stroke="#999" stroke-width="0.45"/>
<line x1="118.50" y1="124.30" x2="118.50" y2="125.30" stroke="#999" stroke-width="0.45"/>
<line x1="121.23" y1="124.30" x2="121.23" y2="125.30" stroke="#999" stroke-width="0.45"/>
<line x1="123.97" y1="124.30" x2="123.97" y2="125.30" stroke="#999" stroke-width="0.45"/>
<line x1="126.70" y1="124.30" x2="126.70" y2="125.30" stroke="#999" stroke-width="0.45"/>
<line x1="44.00" y1="106.04" x2="45.40" y2="106.04" stroke="#333" stroke-width="0.9"/>
<line x1="44.00" y1="107.64" x2="45.40" y2="107.64" stroke="#333" stroke-width="0.9"/>
<line x1="44.00" y1="109.24" x2="45.40" y2="109.24" stroke="#333" stroke-width="0.9"/>
<line x1="43.20" y1="110.84" x2="45.40" y2="110.84" stroke="#333" stroke-width="0.9"/>
<line x1="43.20" y1="112.44" x2="45.40" y2="112.44" stroke="#333" stroke-width="0.9"/>
<line x1="43.20" y1="114.04" x2="45.40" y2="114.04" stroke="#333" stroke-width="0.9"/>
<line x1="44.00" y1="115.64" x2="45.40" y2="115.64" stroke="#333" stroke-width="0.9"/>
<line x1="44.00" y1="117.24" x2="45.40" y2="117.24" stroke="#333" stroke-width="0.9"/>
<line x1="44.00" y1="118.84" x2="45.40" y2="118.84" stroke="#333" stroke-width="0.9"/>
<rect x="56.81" y="124.30" width="6.75" height="1.5" fill="#222"/>
<g filter="url(#soft)">
<path d="M69.20,83.20 L69.15,84.14 L69.02,85.07 L68.79,85.98 L68.49,86.88 L68.12,87.74 L67.70,88.58 L67.24,89.37 L66.75,90.11 L66.25,90.80 L65.74,91.44 L65.25,92.01 L64.78,92.51 L64.33,92.94 L63.90,93.30 L63.50,93.59 L63.12,93.79 L62.76,93.91 L62.40,93.95 L62.04,93.91 L61.68,93.79 L61.30,93.59 L60.90,93.30 L60.47,92.94 L60.02,92.51 L59.55,92.01 L59.06,91.44 L58.55,90.80 L58.05,90.11 L57.56,89.37 L57.10,88.58 L56.68,87.74 L56.31,86.88 L56.01,85.98 L55.78,85.07 L55.65,84.14 L55.60,83.20 L55.63,82.36 L55.70,81.53 L55.83,80.72 L56.01,79.92 L56.24,79.14 L56.51,78.40 L56.83,77.69 L57.19,77.03 L57.59,76.41 L58.03,75.85 L58.50,75.34 L59.00,74.89 L59.53,74.50 L60.07,74.18 L60.64,73.93 L61.22,73.75 L61.81,73.64 L62.40,73.60 L62.99,73.64 L63.58,73.75 L64.16,73.93 L64.73,74.18 L65.27,74.50 L65.80,74.89 L66.30,75.34 L66.77,75.85 L67.21,76.41 L67.61,77.03 L67.97,77.69 L68.29,78.40 L68.56,79.14 L68.79,79.92 L68.97,80.72 L69.10,81.53 L69.17,82.36Z" fill="#f2f2f2"/>
<path d="M69.20,83.20 L69.15,84.14 L69.02,85.07 L68.79,85.98 L68.49,86.88 L68.12,87.74 L67.70,88.58 L67.24,89.37 L66.75,90.11 L66.25,90.80 L65.74,91.44 L65.25,92.01 L64.78,92.51 L64.33,92.94 L63.90,93.30 L63.50,93.59 L63.12,93.79 L62.76,93.91 L62.40,93.95 L62.04,93.91 L61.68,93.79 L61.30,93.59 L60.90,93.30 L60.47,92.94 L60.02,92.51 L59.55,92.01 L59.06,91.44 L58.55,90.80 L58.05,90.11 L57.56,89.37 L57.10,88.58 L56.68,87.74 L56.31,86.88 L56.01,85.98 L55.78,85.07 L55.65,84.14 L55.60,83.20 L55.63,82.36 L55.70,81.53 L55.83,80.72 L56.01,79.92 L56.24,79.14 L56.51,78.40 L56.83,77.69 L57.19,77.03 L57.59,76.41 L58.03,75.85 L58.50,75.34 L59.00,74.89 L59.53,74.50 L60.07,74.18 L60.64,73.93 L61.22,73.75 L61.81,73.64 L62.40,73.60 L62.99,73.64 L63.58,73.75 L64.16,73.93 L64.73,74.18 L65.27,74.50 L65.80,74.89 L66.30,75.34 L66.77,75.85 L67.21,76.41 L67.61,77.03 L67.97,77.69 L68.29,78.40 L68.56,79.14 L68.79,79.92 L68.97,80.72 L69.10,81.53 L69.17,82.36Z" fill="none" stroke="#9a9a9a" stroke-width="0.55"/>
<path d="M68.29,82.96 L68.25,83.77 L68.13,84.58 L67.94,85.37 L67.68,86.15 L67.36,86.90 L66.99,87.62 L66.59,88.30 L66.17,88.95 L65.73,89.55 L65.30,90.10 L64.87,90.59 L64.46,91.03 L64.07,91.41 L63.70,91.72 L63.36,91.96 L63.03,92.14 L62.71,92.24 L62.40,92.28 L62.09,92.24 L61.77,92.14 L61.44,91.96 L61.10,91.72 L60.73,91.41 L60.34,91.03 L59.93,90.59 L59.50,90.10 L59.07,89.55 L58.63,88.95 L58.21,88.30 L57.81,87.62 L57.44,86.90 L57.12,86.15 L56.86,85.37 L56.67,84.58 L56.55,83.77 L56.51,82.96 L56.53,82.23 L56.60,81.52 L56.71,80.81 L56.86,80.11 L57.06,79.44 L57.30,78.80 L57.57,78.19 L57.89,77.61 L58.23,77.08 L58.61,76.59 L59.02,76.14 L59.45,75.75 L59.91,75.42 L60.38,75.14 L60.87,74.92 L61.38,74.77 L61.89,74.67 L62.40,74.64 L62.91,74.67 L63.42,74.77 L63.93,74.92 L64.42,75.14 L64.89,75.42 L65.35,75.75 L65.78,76.14 L66.19,76.59 L66.57,77.08 L66.91,77.61 L67.23,78.19 L67.50,78.80 L67.74,79.44 L67.94,80.11 L68.09,80.81 L68.20,81.52 L68.27,82.23Z" fill="none" stroke="#888" stroke-width="0.55"/>
<path d="M67.39,82.72 L67.35,83.41 L67.25,84.09 L67.09,84.76 L66.87,85.42 L66.60,86.05 L66.29,86.66 L65.95,87.24 L65.59,87.79 L65.22,88.30 L64.85,88.76 L64.49,89.18 L64.15,89.55 L63.82,89.87 L63.50,90.13 L63.21,90.34 L62.93,90.49 L62.66,90.57 L62.40,90.60 L62.14,90.57 L61.87,90.49 L61.59,90.34 L61.30,90.13 L60.98,89.87 L60.65,89.55 L60.31,89.18 L59.95,88.76 L59.58,88.30 L59.21,87.79 L58.85,87.24 L58.51,86.66 L58.20,86.05 L57.93,85.42 L57.71,84.76 L57.55,84.09 L57.45,83.41 L57.41,82.72 L57.43,82.11 L57.49,81.50 L57.58,80.90 L57.71,80.31 L57.88,79.74 L58.08,79.20 L58.32,78.68 L58.58,78.19 L58.87,77.74 L59.19,77.33 L59.54,76.95 L59.91,76.62 L60.29,76.34 L60.69,76.10 L61.11,75.92 L61.53,75.79 L61.97,75.71 L62.40,75.68 L62.83,75.71 L63.27,75.79 L63.69,75.92 L64.11,76.10 L64.51,76.34 L64.89,76.62 L65.26,76.95 L65.61,77.33 L65.93,77.74 L66.22,78.19 L66.48,78.68 L66.72,79.20 L66.92,79.74 L67.09,80.31 L67.22,80.90 L67.31,81.50 L67.37,82.11Z" fill="none" stroke="#8e8e8e" stroke-width="0.55"/>
<path d="M66.48,82.48 L66.45,83.04 L66.37,83.60 L66.24,84.15 L66.05,84.69 L65.83,85.21 L65.58,85.71 L65.30,86.18 L65.01,86.63 L64.71,87.04 L64.41,87.42 L64.11,87.76 L63.83,88.07 L63.56,88.33 L63.30,88.54 L63.06,88.71 L62.83,88.83 L62.61,88.91 L62.40,88.93 L62.19,88.91 L61.97,88.83 L61.74,88.71 L61.50,88.54 L61.24,88.33 L60.97,88.07 L60.69,87.76 L60.39,87.42 L60.09,87.04 L59.79,86.63 L59.50,86.18 L59.22,85.71 L58.97,85.21 L58.75,84.69 L58.56,84.15 L58.43,83.60 L58.35,83.04 L58.32,82.48 L58.34,81.98 L58.38,81.48 L58.46,80.99 L58.57,80.51 L58.70,80.05 L58.87,79.60 L59.06,79.18 L59.27,78.78 L59.52,78.41 L59.78,78.07 L60.06,77.76 L60.36,77.49 L60.68,77.26 L61.00,77.07 L61.34,76.92 L61.69,76.81 L62.04,76.74 L62.40,76.72 L62.76,76.74 L63.11,76.81 L63.46,76.92 L63.80,77.07 L64.12,77.26 L64.44,77.49 L64.74,77.76 L65.02,78.07 L65.28,78.41 L65.53,78.78 L65.74,79.18 L65.93,79.60 L66.10,80.05 L66.23,80.51 L66.34,80.99 L66.42,81.48 L66.46,81.98Z" fill="none" stroke="#999" stroke-width="0.55"/>
<path d="M65.57,82.24 L65.55,82.68 L65.49,83.11 L65.38,83.54 L65.24,83.96 L65.07,84.36 L64.87,84.75 L64.66,85.12 L64.43,85.47 L64.20,85.79 L63.96,86.08 L63.73,86.35 L63.51,86.59 L63.30,86.79 L63.10,86.96 L62.91,87.09 L62.74,87.18 L62.57,87.24 L62.40,87.26 L62.23,87.24 L62.06,87.18 L61.89,87.09 L61.70,86.96 L61.50,86.79 L61.29,86.59 L61.07,86.35 L60.84,86.08 L60.60,85.79 L60.37,85.47 L60.14,85.12 L59.93,84.75 L59.73,84.36 L59.56,83.96 L59.42,83.54 L59.31,83.11 L59.25,82.68 L59.23,82.24 L59.24,81.85 L59.27,81.46 L59.33,81.08 L59.42,80.71 L59.52,80.35 L59.65,80.00 L59.80,79.67 L59.97,79.36 L60.16,79.07 L60.36,78.81 L60.58,78.57 L60.81,78.36 L61.06,78.18 L61.31,78.03 L61.58,77.91 L61.85,77.83 L62.12,77.78 L62.40,77.76 L62.68,77.78 L62.95,77.83 L63.22,77.91 L63.49,78.03 L63.74,78.18 L63.99,78.36 L64.22,78.57 L64.44,78.81 L64.64,79.07 L64.83,79.36 L65.00,79.67 L65.15,80.00 L65.28,80.35 L65.38,80.71 L65.47,81.08 L65.53,81.46 L65.56,81.85Z" fill="none" stroke="#909090" stroke-width="0.55"/>
<path d="M64.67,82.00 L64.65,82.31 L64.61,82.62 L64.53,82.93 L64.43,83.23 L64.31,83.51 L64.17,83.79 L64.01,84.06 L63.85,84.30 L63.68,84.53 L63.51,84.75 L63.35,84.94 L63.19,85.10 L63.04,85.25 L62.90,85.37 L62.77,85.46 L62.64,85.53 L62.52,85.57 L62.40,85.58 L62.28,85.57 L62.16,85.53 L62.03,85.46 L61.90,85.37 L61.76,85.25 L61.61,85.10 L61.45,84.94 L61.29,84.75 L61.12,84.53 L60.95,84.30 L60.79,84.06 L60.63,83.79 L60.49,83.51 L60.37,83.23 L60.27,82.93 L60.19,82.62 L60.15,82.31 L60.13,82.00 L60.14,81.72 L60.17,81.44 L60.21,81.17 L60.27,80.91 L60.35,80.65 L60.44,80.40 L60.54,80.16 L60.66,79.94 L60.80,79.74 L60.94,79.55 L61.10,79.38 L61.27,79.23 L61.44,79.10 L61.62,78.99 L61.81,78.91 L62.01,78.85 L62.20,78.81 L62.40,78.80 L62.60,78.81 L62.79,78.85 L62.99,78.91 L63.18,78.99 L63.36,79.10 L63.53,79.23 L63.70,79.38 L63.86,79.55 L64.00,79.74 L64.14,79.94 L64.26,80.16 L64.36,80.40 L64.45,80.65 L64.53,80.91 L64.59,81.17 L64.63,81.44 L64.66,81.72Z" fill="none" stroke="#a0a0a0" stroke-width="0.55"/>
<path d="M63.76,81.76 L63.75,81.95 L63.72,82.13 L63.68,82.32 L63.62,82.50 L63.54,82.67 L63.46,82.84 L63.37,82.99 L63.27,83.14 L63.17,83.28 L63.07,83.41 L62.97,83.52 L62.88,83.62 L62.79,83.71 L62.70,83.78 L62.62,83.84 L62.54,83.88 L62.47,83.90 L62.40,83.91 L62.33,83.90 L62.26,83.88 L62.18,83.84 L62.10,83.78 L62.01,83.71 L61.92,83.62 L61.83,83.52 L61.73,83.41 L61.63,83.28 L61.53,83.14 L61.43,82.99 L61.34,82.84 L61.26,82.67 L61.18,82.50 L61.12,82.32 L61.08,82.13 L61.05,81.95 L61.04,81.76 L61.05,81.59 L61.06,81.43 L61.09,81.26 L61.12,81.10 L61.17,80.95 L61.22,80.80 L61.29,80.66 L61.36,80.53 L61.44,80.40 L61.53,80.29 L61.62,80.19 L61.72,80.10 L61.83,80.02 L61.93,79.96 L62.05,79.91 L62.16,79.87 L62.28,79.85 L62.40,79.84 L62.52,79.85 L62.64,79.87 L62.75,79.91 L62.87,79.96 L62.97,80.02 L63.08,80.10 L63.18,80.19 L63.27,80.29 L63.36,80.40 L63.44,80.53 L63.51,80.66 L63.58,80.80 L63.63,80.95 L63.68,81.10 L63.71,81.26 L63.74,81.43 L63.75,81.59Z" fill="none" stroke="#aaa" stroke-width="0.55"/>
<ellipse cx="62.40" cy="81.40" rx="1.0" ry="2.0" fill="#fff" opacity="0.9"/>
</g>
<g filter="url(#soft)">
<path d="M72.70,108.80 L72.61,110.28 L72.45,111.57 L72.23,112.78 L71.94,113.93 L71.59,115.02 L71.17,116.04 L70.70,117.00 L70.16,117.90 L69.57,118.72 L68.93,119.47 L68.24,120.14 L67.50,120.73 L66.72,121.24 L65.89,121.65 L65.03,121.98 L64.12,122.21 L63.16,122.35 L62.06,122.40 L60.96,122.35 L60.01,122.21 L59.12,121.98 L58.28,121.65 L57.49,121.24 L56.74,120.73 L56.05,120.14 L55.41,119.47 L54.83,118.72 L54.31,117.90 L53.85,117.00 L53.45,116.04 L53.12,115.02 L52.85,113.93 L52.65,112.78 L52.53,111.57 L52.48,110.28 L52.50,108.80 L52.62,107.32 L52.82,106.03 L53.12,104.82 L53.50,103.67 L53.96,102.58 L54.48,101.56 L55.06,100.60 L55.68,99.70 L56.33,98.88 L57.02,98.13 L57.72,97.46 L58.44,96.87 L59.18,96.36 L59.92,95.95 L60.67,95.62 L61.44,95.39 L62.24,95.25 L63.14,95.20 L64.04,95.25 L64.83,95.39 L65.58,95.62 L66.31,95.95 L67.02,96.36 L67.71,96.87 L68.38,97.46 L69.04,98.13 L69.66,98.88 L70.25,99.70 L70.80,100.60 L71.30,101.56 L71.74,102.58 L72.11,103.67 L72.39,104.82 L72.60,106.03 L72.70,107.32Z" fill="#e2e2e2"/>
<path d="M72.70,108.80 L72.61,110.28 L72.45,111.57 L72.23,112.78 L71.94,113.93 L71.59,115.02 L71.17,116.04 L70.70,117.00 L70.16,117.90 L69.57,118.72 L68.93,119.47 L68.24,120.14 L67.50,120.73 L66.72,121.24 L65.89,121.65 L65.03,121.98 L64.12,122.21 L63.16,122.35 L62.06,122.40 L60.96,122.35 L60.01,122.21 L59.12,121.98 L58.28,121.65 L57.49,121.24 L56.74,120.73 L56.05,120.14 L55.41,119.47 L54.83,118.72 L54.31,117.90 L53.85,117.00 L53.45,116.04 L53.12,115.02 L52.85,113.93 L52.65,112.78 L52.53,111.57 L52.48,110.28 L52.50,108.80 L52.62,107.32 L52.82,106.03 L53.12,104.82 L53.50,103.67 L53.96,102.58 L54.48,101.56 L55.06,100.60 L55.68,99.70 L56.33,98.88 L57.02,98.13 L57.72,97.46 L58.44,96.87 L59.18,96.36 L59.92,95.95 L60.67,95.62 L61.44,95.39 L62.24,95.25 L63.14,95.20 L64.04,95.25 L64.83,95.39 L65.58,95.62 L66.31,95.95 L67.02,96.36 L67.71,96.87 L68.38,97.46 L69.04,98.13 L69.66,98.88 L70.25,99.70 L70.80,100.60 L71.30,101.56 L71.74,102.58 L72.11,103.67 L72.39,104.82 L72.60,106.03 L72.70,107.32Z" fill="none" stroke="#4a4a4a" stroke-width="0.65"/>
<path d="M71.59,108.80 L71.51,110.12 L71.37,111.26 L71.17,112.34 L70.91,113.36 L70.60,114.33 L70.23,115.25 L69.81,116.10 L69.33,116.90 L68.81,117.63 L68.23,118.30 L67.62,118.90 L66.96,119.42 L66.27,119.87 L65.53,120.24 L64.76,120.53 L63.95,120.74 L63.10,120.86 L62.12,120.90 L61.14,120.86 L60.29,120.74 L59.50,120.53 L58.75,120.24 L58.05,119.87 L57.39,119.42 L56.77,118.90 L56.21,118.30 L55.69,117.63 L55.22,116.90 L54.81,116.10 L54.46,115.25 L54.16,114.33 L53.92,113.36 L53.75,112.34 L53.64,111.26 L53.59,110.12 L53.61,108.80 L53.71,107.48 L53.90,106.34 L54.17,105.26 L54.51,104.24 L54.91,103.27 L55.37,102.35 L55.89,101.50 L56.44,100.70 L57.02,99.97 L57.63,99.30 L58.26,98.70 L58.90,98.18 L59.55,97.73 L60.21,97.36 L60.88,97.07 L61.57,96.86 L62.28,96.74 L63.08,96.70 L63.89,96.74 L64.59,96.86 L65.26,97.07 L65.90,97.36 L66.53,97.73 L67.15,98.18 L67.75,98.70 L68.33,99.30 L68.88,99.97 L69.41,100.70 L69.90,101.50 L70.34,102.35 L70.73,103.27 L71.06,104.24 L71.32,105.26 L71.50,106.34 L71.59,107.48Z" fill="none" stroke="#606060" stroke-width="0.65"/>
<path d="M70.48,108.80 L70.40,109.95 L70.28,110.96 L70.11,111.90 L69.88,112.80 L69.61,113.65 L69.29,114.45 L68.92,115.20 L68.50,115.90 L68.04,116.54 L67.54,117.13 L67.00,117.65 L66.42,118.11 L65.81,118.50 L65.17,118.82 L64.49,119.08 L63.79,119.26 L63.03,119.37 L62.18,119.41 L61.32,119.37 L60.58,119.26 L59.88,119.08 L59.23,118.82 L58.61,118.50 L58.03,118.11 L57.49,117.65 L57.00,117.13 L56.54,116.54 L56.13,115.90 L55.77,115.20 L55.46,114.45 L55.20,113.65 L55.00,112.80 L54.84,111.90 L54.74,110.96 L54.70,109.95 L54.72,108.80 L54.81,107.65 L54.98,106.64 L55.21,105.70 L55.51,104.80 L55.86,103.95 L56.27,103.15 L56.72,102.40 L57.20,101.70 L57.71,101.06 L58.25,100.47 L58.80,99.95 L59.36,99.49 L59.93,99.10 L60.51,98.78 L61.10,98.52 L61.70,98.34 L62.32,98.23 L63.02,98.19 L63.73,98.23 L64.34,98.34 L64.93,98.52 L65.49,98.78 L66.05,99.10 L66.59,99.49 L67.11,99.95 L67.62,100.47 L68.11,101.06 L68.57,101.70 L69.00,102.40 L69.39,103.15 L69.73,103.95 L70.01,104.80 L70.24,105.70 L70.40,106.64 L70.48,107.65Z" fill="none" stroke="#808080" stroke-width="0.65"/>
<path d="M69.37,108.80 L69.30,109.79 L69.20,110.66 L69.05,111.47 L68.86,112.24 L68.62,112.96 L68.34,113.65 L68.02,114.30 L67.67,114.90 L67.27,115.45 L66.84,115.95 L66.38,116.40 L65.88,116.80 L65.36,117.13 L64.81,117.41 L64.23,117.63 L63.62,117.79 L62.97,117.88 L62.24,117.91 L61.50,117.88 L60.86,117.79 L60.27,117.63 L59.70,117.41 L59.17,117.13 L58.68,116.80 L58.21,116.40 L57.79,115.95 L57.40,115.45 L57.05,114.90 L56.74,114.30 L56.47,113.65 L56.25,112.96 L56.07,112.24 L55.94,111.47 L55.85,110.66 L55.82,109.79 L55.83,108.80 L55.91,107.81 L56.05,106.94 L56.25,106.13 L56.51,105.36 L56.81,104.64 L57.16,103.95 L57.55,103.30 L57.96,102.70 L58.40,102.15 L58.86,101.65 L59.33,101.20 L59.82,100.80 L60.31,100.47 L60.80,100.19 L61.31,99.97 L61.82,99.81 L62.36,99.72 L62.96,99.69 L63.57,99.72 L64.10,99.81 L64.60,99.97 L65.09,100.19 L65.56,100.47 L66.02,100.80 L66.48,101.20 L66.91,101.65 L67.33,102.15 L67.73,102.70 L68.09,103.30 L68.43,103.95 L68.72,104.64 L68.97,105.36 L69.16,106.13 L69.30,106.94 L69.37,107.81Z" fill="none" stroke="#8e8e8e" stroke-width="0.65"/>
<path d="M68.26,108.80 L68.20,109.63 L68.12,110.35 L67.99,111.03 L67.83,111.67 L67.63,112.28 L67.40,112.86 L67.13,113.39 L66.84,113.90 L66.51,114.36 L66.15,114.78 L65.76,115.15 L65.34,115.48 L64.91,115.76 L64.44,116.00 L63.96,116.18 L63.45,116.31 L62.91,116.39 L62.30,116.42 L61.68,116.39 L61.15,116.31 L60.65,116.18 L60.18,116.00 L59.74,115.76 L59.32,115.48 L58.93,115.15 L58.58,114.78 L58.25,114.36 L57.96,113.90 L57.70,113.39 L57.48,112.86 L57.29,112.28 L57.14,111.67 L57.03,111.03 L56.96,110.35 L56.93,109.63 L56.94,108.80 L57.01,107.97 L57.13,107.25 L57.29,106.57 L57.51,105.93 L57.76,105.32 L58.05,104.74 L58.37,104.21 L58.72,103.70 L59.09,103.24 L59.47,102.82 L59.87,102.45 L60.27,102.12 L60.68,101.84 L61.10,101.60 L61.52,101.42 L61.95,101.29 L62.40,101.21 L62.90,101.18 L63.41,101.21 L63.85,101.29 L64.27,101.42 L64.68,101.60 L65.07,101.84 L65.46,102.12 L65.84,102.45 L66.20,102.82 L66.55,103.24 L66.89,103.70 L67.19,104.21 L67.47,104.74 L67.72,105.32 L67.92,105.93 L68.09,106.57 L68.20,107.25 L68.26,107.97Z" fill="none" stroke="#999" stroke-width="0.65"/>
<path d="M67.14,108.80 L67.10,109.47 L67.03,110.05 L66.93,110.59 L66.80,111.11 L66.64,111.60 L66.46,112.06 L66.24,112.49 L66.00,112.90 L65.74,113.27 L65.45,113.60 L65.14,113.90 L64.81,114.17 L64.45,114.40 L64.08,114.58 L63.69,114.73 L63.28,114.84 L62.85,114.90 L62.36,114.92 L61.86,114.90 L61.43,114.84 L61.03,114.73 L60.65,114.58 L60.30,114.40 L59.96,114.17 L59.65,113.90 L59.37,113.60 L59.10,113.27 L58.87,112.90 L58.66,112.49 L58.48,112.06 L58.33,111.60 L58.21,111.11 L58.12,110.59 L58.07,110.05 L58.04,109.47 L58.05,108.80 L58.11,108.13 L58.20,107.55 L58.34,107.01 L58.51,106.49 L58.71,106.00 L58.95,105.54 L59.20,105.11 L59.48,104.70 L59.78,104.33 L60.09,104.00 L60.41,103.70 L60.73,103.43 L61.06,103.20 L61.39,103.02 L61.73,102.87 L62.08,102.76 L62.44,102.70 L62.84,102.68 L63.25,102.70 L63.60,102.76 L63.94,102.87 L64.27,103.02 L64.59,103.20 L64.90,103.43 L65.20,103.70 L65.50,104.00 L65.78,104.33 L66.04,104.70 L66.29,105.11 L66.51,105.54 L66.71,106.00 L66.88,106.49 L67.01,107.01 L67.10,107.55 L67.15,108.13Z" fill="none" stroke="#909090" stroke-width="0.65"/>
<path d="M66.03,108.80 L66.00,109.30 L65.95,109.74 L65.87,110.15 L65.78,110.54 L65.66,110.91 L65.51,111.26 L65.35,111.59 L65.17,111.89 L64.97,112.17 L64.75,112.43 L64.52,112.66 L64.27,112.86 L64.00,113.03 L63.72,113.17 L63.43,113.28 L63.12,113.36 L62.79,113.41 L62.42,113.42 L62.04,113.41 L61.72,113.36 L61.42,113.28 L61.13,113.17 L60.86,113.03 L60.61,112.86 L60.37,112.66 L60.16,112.43 L59.96,112.17 L59.78,111.89 L59.62,111.59 L59.49,111.26 L59.38,110.91 L59.29,110.54 L59.22,110.15 L59.18,109.74 L59.16,109.30 L59.17,108.80 L59.21,108.30 L59.28,107.86 L59.38,107.45 L59.51,107.06 L59.66,106.69 L59.84,106.34 L60.03,106.01 L60.25,105.71 L60.47,105.43 L60.70,105.17 L60.94,104.94 L61.19,104.74 L61.44,104.57 L61.69,104.43 L61.94,104.32 L62.21,104.24 L62.48,104.19 L62.78,104.18 L63.09,104.19 L63.36,104.24 L63.61,104.32 L63.86,104.43 L64.10,104.57 L64.34,104.74 L64.57,104.94 L64.79,105.17 L65.00,105.43 L65.20,105.71 L65.39,106.01 L65.56,106.34 L65.71,106.69 L65.83,107.06 L65.93,107.45 L66.00,107.86 L66.03,108.30Z" fill="none" stroke="#a0a0a0" stroke-width="0.65"/>
<path d="M64.92,108.80 L64.90,109.14 L64.87,109.44 L64.81,109.72 L64.75,109.98 L64.67,110.23 L64.57,110.47 L64.46,110.69 L64.34,110.89 L64.20,111.08 L64.06,111.25 L63.90,111.41 L63.73,111.54 L63.55,111.66 L63.36,111.76 L63.16,111.83 L62.95,111.88 L62.73,111.92 L62.47,111.93 L62.22,111.92 L62.00,111.88 L61.80,111.83 L61.61,111.76 L61.42,111.66 L61.25,111.54 L61.09,111.41 L60.95,111.25 L60.81,111.08 L60.69,110.89 L60.59,110.69 L60.50,110.47 L60.42,110.23 L60.36,109.98 L60.31,109.72 L60.28,109.44 L60.27,109.14 L60.28,108.80 L60.30,108.46 L60.35,108.16 L60.42,107.88 L60.51,107.62 L60.61,107.37 L60.73,107.13 L60.86,106.91 L61.01,106.71 L61.16,106.52 L61.32,106.35 L61.48,106.19 L61.64,106.06 L61.81,105.94 L61.98,105.84 L62.16,105.77 L62.33,105.72 L62.52,105.68 L62.73,105.67 L62.93,105.68 L63.11,105.72 L63.29,105.77 L63.45,105.84 L63.62,105.94 L63.78,106.06 L63.93,106.19 L64.08,106.35 L64.22,106.52 L64.36,106.71 L64.49,106.91 L64.60,107.13 L64.70,107.37 L64.79,107.62 L64.85,107.88 L64.90,108.16 L64.92,108.46Z" fill="none" stroke="#aaa" stroke-width="0.65"/>
<path d="M63.81,108.80 L63.80,108.98 L63.78,109.13 L63.76,109.28 L63.72,109.42 L63.68,109.55 L63.63,109.67 L63.57,109.78 L63.51,109.89 L63.44,109.99 L63.36,110.08 L63.28,110.16 L63.19,110.23 L63.09,110.29 L63.00,110.34 L62.89,110.38 L62.78,110.41 L62.67,110.43 L62.53,110.43 L62.40,110.43 L62.29,110.41 L62.18,110.38 L62.08,110.34 L61.99,110.29 L61.90,110.23 L61.81,110.16 L61.74,110.08 L61.67,109.99 L61.61,109.89 L61.55,109.78 L61.50,109.67 L61.46,109.55 L61.43,109.42 L61.41,109.28 L61.39,109.13 L61.39,108.98 L61.39,108.80 L61.40,108.62 L61.43,108.47 L61.46,108.32 L61.51,108.18 L61.56,108.05 L61.63,107.93 L61.69,107.82 L61.77,107.71 L61.85,107.61 L61.93,107.52 L62.01,107.44 L62.10,107.37 L62.19,107.31 L62.28,107.26 L62.37,107.22 L62.46,107.19 L62.56,107.17 L62.67,107.17 L62.77,107.17 L62.87,107.19 L62.96,107.22 L63.05,107.26 L63.13,107.31 L63.21,107.37 L63.29,107.44 L63.37,107.52 L63.45,107.61 L63.52,107.71 L63.58,107.82 L63.64,107.93 L63.70,108.05 L63.74,108.18 L63.78,108.32 L63.80,108.47 L63.81,108.62Z" fill="none" stroke="#b5b5b5" stroke-width="0.65"/>
<ellipse cx="62.60" cy="108.80" rx="1.0" ry="1.3" fill="#fff" opacity="0.9"/>
</g>
<path d="M74.5,104.8 C81.0,104.8 87.5,106.08 87.5,108 C87.5,109.92 81.0,111.2 74.5,111.2" fill="none" stroke="#666" stroke-width="0.6"/>
<path d="M74.5,106.1 C78.5,106.1 82.5,106.78 82.5,107.8 C82.5,108.82 78.5,109.5 74.5,109.5" fill="none" stroke="#666" stroke-width="0.6"/>
<path d="M57.5,86 61,91 66,96.5" fill="none" stroke="#999" stroke-width="0.5"/>
<path d="M67.5,86 64,91 58.5,96.5" fill="none" stroke="#999" stroke-width="0.5"/>
<path d="M59,88 62.4,92 65.8,88" fill="none" stroke="#999" stroke-width="0.5"/>
<path d="M55.5,84 57,90 55.5,96" fill="none" stroke="#999" stroke-width="0.5"/>
<path d="M69.3,84 68,90 69.6,96" fill="none" stroke="#999" stroke-width="0.5"/>
<line x1="75.20" y1="41.30" x2="75.20" y2="124.30" stroke="#4a4a4a" stroke-width="1.1"/>
<line x1="45.40" y1="93.50" x2="128.70" y2="93.50" stroke="#4a4a4a" stroke-width="1.1"/>
<text x="54.30" y="56.50" font-size="10" font-weight="bold" text-anchor="start" fill="#111" stroke="#111" stroke-width="0.12" >14</text>
<text x="119.00" y="57.00" font-size="10" font-weight="bold" text-anchor="start" fill="#111" stroke="#111" stroke-width="0.12" >3</text>
<text x="109.60" y="111.50" font-size="10" font-weight="bold" text-anchor="start" fill="#111" stroke="#111" stroke-width="0.12" >4.2</text>
<rect x="79.55" y="76.65" width="1.3" height="1.3" fill="#222"/>
<rect x="81.95" y="79.25" width="1.3" height="1.3" fill="#222"/>
<rect x="89.85" y="77.85" width="1.3" height="1.3" fill="#222"/>
<rect x="78.05" y="85.15" width="1.3" height="1.3" fill="#222"/>
<rect x="87.35" y="89.65" width="1.3" height="1.3" fill="#222"/>
<rect x="74.35" y="77.35" width="1.3" height="1.3" fill="#222"/>
<rect x="74.35" y="83.35" width="1.3" height="1.3" fill="#222"/>
<rect x="78.05" y="93.05" width="1.3" height="1.3" fill="#222"/>
<rect x="74.05" y="99.95" width="1.3" height="1.3" fill="#222"/>
<rect x="83.95" y="104.95" width="1.3" height="1.3" fill="#222"/>
<rect x="87.95" y="107.55" width="1.3" height="1.3" fill="#222"/>
<rect x="90.45" y="115.45" width="1.3" height="1.3" fill="#222"/>
<rect x="144.9" y="42.8" width="83.4" height="82.9" fill="none" stroke="#8f8f8f" stroke-width="1.0"/>
<text x="142.30" y="52.98" font-size="4.3" text-anchor="end" fill="#8c8c8c">10<tspan dy="-1.7" font-size="3.2">5</tspan></text>
<line x1="143.10" y1="50.68" x2="144.90" y2="50.68" stroke="#555" stroke-width="0.8"/>
<text x="142.30" y="71.63" font-size="4.3" text-anchor="end" fill="#8c8c8c">10<tspan dy="-1.7" font-size="3.2">4</tspan></text>
<line x1="143.10" y1="69.33" x2="144.90" y2="69.33" stroke="#555" stroke-width="0.8"/>
<text x="142.30" y="91.11" font-size="4.3" text-anchor="end" fill="#8c8c8c">10<tspan dy="-1.7" font-size="3.2">3</tspan></text>
<line x1="143.10" y1="88.81" x2="144.90" y2="88.81" stroke="#555" stroke-width="0.8"/>
<text x="139.30" y="115.56" font-size="4.3" text-anchor="end" fill="#8c8c8c">0</text>
<line x1="143.10" y1="113.27" x2="144.90" y2="113.27" stroke="#555" stroke-width="0.8"/>
<line x1="143.90" y1="44.80" x2="144.90" y2="44.80" stroke="#999" stroke-width="0.45"/>
<line x1="143.90" y1="47.52" x2="144.90" y2="47.52" stroke="#999" stroke-width="0.45"/>
<line x1="143.90" y1="50.24" x2="144.90" y2="50.24" stroke="#999" stroke-width="0.45"/>
<line x1="143.90" y1="52.96" x2="144.90" y2="52.96" stroke="#999" stroke-width="0.45"/>
<line x1="143.90" y1="55.68" x2="144.90" y2="55.68" stroke="#999" stroke-width="0.45"/>
<line x1="143.90" y1="58.40" x2="144.90" y2="58.40" stroke="#999" stroke-width="0.45"/>
<line x1="143.90" y1="61.12" x2="144.90" y2="61.12" stroke="#999" stroke-width="0.45"/>
<line x1="143.90" y1="63.84" x2="144.90" y2="63.84" stroke="#999" stroke-width="0.45"/>
<line x1="143.90" y1="66.57" x2="144.90" y2="66.57" stroke="#999" stroke-width="0.45"/>
<line x1="143.90" y1="69.29" x2="144.90" y2="69.29" stroke="#999" stroke-width="0.45"/>
<line x1="143.90" y1="72.01" x2="144.90" y2="72.01" stroke="#999" stroke-width="0.45"/>
<line x1="143.90" y1="74.73" x2="144.90" y2="74.73" stroke="#999" stroke-width="0.45"/>
<line x1="143.90" y1="77.45" x2="144.90" y2="77.45" stroke="#999" stroke-width="0.45"/>
<line x1="143.90" y1="80.17" x2="144.90" y2="80.17" stroke="#999" stroke-width="0.45"/>
<line x1="143.90" y1="82.89" x2="144.90" y2="82.89" stroke="#999" stroke-width="0.45"/>
<line x1="143.90" y1="85.61" x2="144.90" y2="85.61" stroke="#999" stroke-width="0.45"/>
<line x1="143.90" y1="88.33" x2="144.90" y2="88.33" stroke="#999" stroke-width="0.45"/>
<line x1="143.90" y1="91.05" x2="144.90" y2="91.05" stroke="#999" stroke-width="0.45"/>
<line x1="143.90" y1="93.77" x2="144.90" y2="93.77" stroke="#999" stroke-width="0.45"/>
<line x1="143.90" y1="96.49" x2="144.90" y2="96.49" stroke="#999" stroke-width="0.45"/>
<line x1="143.90" y1="99.21" x2="144.90" y2="99.21" stroke="#999" stroke-width="0.45"/>
<line x1="143.90" y1="101.93" x2="144.90" y2="101.93" stroke="#999" stroke-width="0.45"/>
<line x1="143.90" y1="104.66" x2="144.90" y2="104.66" stroke="#999" stroke-width="0.45"/>
<line x1="143.90" y1="107.38" x2="144.90" y2="107.38" stroke="#999" stroke-width="0.45"/>
<line x1="143.90" y1="110.10" x2="144.90" y2="110.10" stroke="#999" stroke-width="0.45"/>
<line x1="143.90" y1="112.82" x2="144.90" y2="112.82" stroke="#999" stroke-width="0.45"/>
<line x1="143.90" y1="115.54" x2="144.90" y2="115.54" stroke="#999" stroke-width="0.45"/>
<line x1="143.90" y1="118.26" x2="144.90" y2="118.26" stroke="#999" stroke-width="0.45"/>
<line x1="143.90" y1="120.98" x2="144.90" y2="120.98" stroke="#999" stroke-width="0.45"/>
<line x1="143.90" y1="123.70" x2="144.90" y2="123.70" stroke="#999" stroke-width="0.45"/>
<text x="161.41" y="133.50" font-size="4.4" text-anchor="middle" fill="#8c8c8c">0</text>
<line x1="161.41" y1="125.70" x2="161.41" y2="127.90" stroke="#555" stroke-width="0.8"/>
<text x="180.29" y="133.50" font-size="4.4" text-anchor="start" fill="#8c8c8c">10<tspan dy="-1.7" font-size="3.2">3</tspan></text>
<line x1="180.09" y1="125.70" x2="180.09" y2="127.90" stroke="#555" stroke-width="0.8"/>
<text x="200.98" y="133.50" font-size="4.4" text-anchor="start" fill="#8c8c8c">10<tspan dy="-1.7" font-size="3.2">4</tspan></text>
<line x1="200.78" y1="125.70" x2="200.78" y2="127.90" stroke="#555" stroke-width="0.8"/>
<text x="219.99" y="133.50" font-size="4.4" text-anchor="start" fill="#8c8c8c">10<tspan dy="-1.7" font-size="3.2">5</tspan></text>
<line x1="219.79" y1="125.70" x2="219.79" y2="127.90" stroke="#555" stroke-width="0.8"/>
<line x1="146.90" y1="125.70" x2="146.90" y2="126.70" stroke="#999" stroke-width="0.45"/>
<line x1="149.64" y1="125.70" x2="149.64" y2="126.70" stroke="#999" stroke-width="0.45"/>
<line x1="152.38" y1="125.70" x2="152.38" y2="126.70" stroke="#999" stroke-width="0.45"/>
<line x1="155.11" y1="125.70" x2="155.11" y2="126.70" stroke="#999" stroke-width="0.45"/>
<line x1="157.85" y1="125.70" x2="157.85" y2="126.70" stroke="#999" stroke-width="0.45"/>
<line x1="160.59" y1="125.70" x2="160.59" y2="126.70" stroke="#999" stroke-width="0.45"/>
<line x1="163.33" y1="125.70" x2="163.33" y2="126.70" stroke="#999" stroke-width="0.45"/>
<line x1="166.07" y1="125.70" x2="166.07" y2="126.70" stroke="#999" stroke-width="0.45"/>
<line x1="168.80" y1="125.70" x2="168.80" y2="126.70" stroke="#999" stroke-width="0.45"/>
<line x1="171.54" y1="125.70" x2="171.54" y2="126.70" stroke="#999" stroke-width="0.45"/>
<line x1="174.28" y1="125.70" x2="174.28" y2="126.70" stroke="#999" stroke-width="0.45"/>
<line x1="177.02" y1="125.70" x2="177.02" y2="126.70" stroke="#999" stroke-width="0.45"/>
<line x1="179.76" y1="125.70" x2="179.76" y2="126.70" stroke="#999" stroke-width="0.45"/>
<line x1="182.49" y1="125.70" x2="182.49" y2="126.70" stroke="#999" stroke-width="0.45"/>
<line x1="185.23" y1="125.70" x2="185.23" y2="126.70" stroke="#999" stroke-width="0.45"/>
<line x1="187.97" y1="125.70" x2="187.97" y2="126.70" stroke="#999" stroke-width="0.45"/>
<line x1="190.71" y1="125.70" x2="190.71" y2="126.70" stroke="#999" stroke-width="0.45"/>
<line x1="193.44" y1="125.70" x2="193.44" y2="126.70" stroke="#999" stroke-width="0.45"/>
<line x1="196.18" y1="125.70" x2="196.18" y2="126.70" stroke="#999" stroke-width="0.45"/>
<line x1="198.92" y1="125.70" x2="198.92" y2="126.70" stroke="#999" stroke-width="0.45"/>
<line x1="201.66" y1="125.70" x2="201.66" y2="126.70" stroke="#999" stroke-width="0.45"/>
<line x1="204.40" y1="125.70" x2="204.40" y2="126.70" stroke="#999" stroke-width="0.45"/>
<line x1="207.13" y1="125.70" x2="207.13" y2="126.70" stroke="#999" stroke-width="0.45"/>
<line x1="209.87" y1="125.70" x2="209.87" y2="126.70" stroke="#999" stroke-width="0.45"/>
<line x1="212.61" y1="125.70" x2="212.61" y2="126.70" stroke="#999" stroke-width="0.45"/>
<line x1="215.35" y1="125.70" x2="215.35" y2="126.70" stroke="#999" stroke-width="0.45"/>
<line x1="218.09" y1="125.70" x2="218.09" y2="126.70" stroke="#999" stroke-width="0.45"/>
<line x1="220.82" y1="125.70" x2="220.82" y2="126.70" stroke="#999" stroke-width="0.45"/>
<line x1="223.56" y1="125.70" x2="223.56" y2="126.70" stroke="#999" stroke-width="0.45"/>
<line x1="226.30" y1="125.70" x2="226.30" y2="126.70" stroke="#999" stroke-width="0.45"/>
<line x1="143.50" y1="107.46" x2="144.90" y2="107.46" stroke="#333" stroke-width="0.9"/>
<line x1="143.50" y1="109.06" x2="144.90" y2="109.06" stroke="#333" stroke-width="0.9"/>
<line x1="143.50" y1="110.66" x2="144.90" y2="110.66" stroke="#333" stroke-width="0.9"/>
<line x1="142.70" y1="112.26" x2="144.90" y2="112.26" stroke="#333" stroke-width="0.9"/>
<line x1="142.70" y1="113.86" x2="144.90" y2="113.86" stroke="#333" stroke-width="0.9"/>
<line x1="142.70" y1="115.46" x2="144.90" y2="115.46" stroke="#333" stroke-width="0.9"/>
<line x1="143.50" y1="117.06" x2="144.90" y2="117.06" stroke="#333" stroke-width="0.9"/>
<line x1="143.50" y1="118.66" x2="144.90" y2="118.66" stroke="#333" stroke-width="0.9"/>
<line x1="143.50" y1="120.26" x2="144.90" y2="120.26" stroke="#333" stroke-width="0.9"/>
<rect x="156.33" y="125.70" width="6.76" height="1.5" fill="#222"/>
<g filter="url(#soft)">
<path d="M174.20,80.00 L174.18,83.61 L174.11,85.56 L173.99,87.13 L173.83,88.49 L173.63,89.69 L173.37,90.76 L173.07,91.73 L172.73,92.59 L172.33,93.37 L171.88,94.05 L171.38,94.65 L170.82,95.17 L170.20,95.61 L169.51,95.97 L168.72,96.24 L167.81,96.44 L166.69,96.56 L164.60,96.60 L162.51,96.56 L161.39,96.44 L160.48,96.24 L159.69,95.97 L159.00,95.61 L158.38,95.17 L157.82,94.65 L157.32,94.05 L156.87,93.37 L156.47,92.59 L156.13,91.73 L155.83,90.76 L155.57,89.69 L155.37,88.49 L155.21,87.13 L155.09,85.56 L155.02,83.61 L155.00,80.00 L155.05,76.39 L155.14,74.44 L155.29,72.87 L155.49,71.51 L155.73,70.31 L156.01,69.24 L156.34,68.27 L156.71,67.41 L157.12,66.63 L157.58,65.95 L158.08,65.35 L158.64,64.83 L159.24,64.39 L159.92,64.03 L160.67,63.76 L161.54,63.56 L162.61,63.44 L164.60,63.40 L166.59,63.44 L167.66,63.56 L168.53,63.76 L169.28,64.03 L169.96,64.39 L170.56,64.83 L171.12,65.35 L171.62,65.95 L172.08,66.63 L172.49,67.41 L172.86,68.27 L173.19,69.24 L173.47,70.31 L173.71,71.51 L173.91,72.87 L174.06,74.44 L174.15,76.39Z" fill="#f4f4f4"/>
<path d="M174.20,80.00 L174.18,83.61 L174.11,85.56 L173.99,87.13 L173.83,88.49 L173.63,89.69 L173.37,90.76 L173.07,91.73 L172.73,92.59 L172.33,93.37 L171.88,94.05 L171.38,94.65 L170.82,95.17 L170.20,95.61 L169.51,95.97 L168.72,96.24 L167.81,96.44 L166.69,96.56 L164.60,96.60 L162.51,96.56 L161.39,96.44 L160.48,96.24 L159.69,95.97 L159.00,95.61 L158.38,95.17 L157.82,94.65 L157.32,94.05 L156.87,93.37 L156.47,92.59 L156.13,91.73 L155.83,90.76 L155.57,89.69 L155.37,88.49 L155.21,87.13 L155.09,85.56 L155.02,83.61 L155.00,80.00 L155.05,76.39 L155.14,74.44 L155.29,72.87 L155.49,71.51 L155.73,70.31 L156.01,69.24 L156.34,68.27 L156.71,67.41 L157.12,66.63 L157.58,65.95 L158.08,65.35 L158.64,64.83 L159.24,64.39 L159.92,64.03 L160.67,63.76 L161.54,63.56 L162.61,63.44 L164.60,63.40 L166.59,63.44 L167.66,63.56 L168.53,63.76 L169.28,64.03 L169.96,64.39 L170.56,64.83 L171.12,65.35 L171.62,65.95 L172.08,66.63 L172.49,67.41 L172.86,68.27 L173.19,69.24 L173.47,70.31 L173.71,71.51 L173.91,72.87 L174.06,74.44 L174.15,76.39Z" fill="none" stroke="#aaa" stroke-width="0.55"/>
<path d="M173.44,79.70 L173.42,82.95 L173.36,84.70 L173.25,86.12 L173.11,87.34 L172.92,88.42 L172.70,89.39 L172.43,90.26 L172.11,91.03 L171.76,91.73 L171.35,92.35 L170.90,92.89 L170.40,93.36 L169.84,93.75 L169.22,94.07 L168.51,94.32 L167.69,94.50 L166.68,94.60 L164.80,94.64 L162.92,94.60 L161.91,94.50 L161.09,94.32 L160.38,94.07 L159.76,93.75 L159.20,93.36 L158.70,92.89 L158.25,92.35 L157.84,91.73 L157.49,91.03 L157.17,90.26 L156.90,89.39 L156.68,88.42 L156.49,87.34 L156.35,86.12 L156.24,84.70 L156.18,82.95 L156.16,79.70 L156.20,76.45 L156.29,74.70 L156.42,73.28 L156.60,72.06 L156.81,70.98 L157.07,70.01 L157.36,69.14 L157.70,68.37 L158.07,67.67 L158.48,67.05 L158.93,66.51 L159.43,66.04 L159.98,65.65 L160.59,65.33 L161.27,65.08 L162.05,64.90 L163.01,64.80 L164.80,64.76 L166.59,64.80 L167.55,64.90 L168.33,65.08 L169.01,65.33 L169.62,65.65 L170.17,66.04 L170.67,66.51 L171.12,67.05 L171.53,67.67 L171.90,68.37 L172.24,69.14 L172.53,70.01 L172.79,70.98 L173.00,72.06 L173.18,73.28 L173.31,74.70 L173.40,76.45Z" fill="none" stroke="#999" stroke-width="0.55"/>
<path d="M172.68,79.40 L172.66,82.29 L172.61,83.85 L172.52,85.11 L172.39,86.19 L172.22,87.15 L172.02,88.01 L171.78,88.78 L171.50,89.47 L171.18,90.09 L170.83,90.64 L170.43,91.12 L169.98,91.54 L169.48,91.89 L168.93,92.17 L168.30,92.40 L167.57,92.55 L166.67,92.65 L165.00,92.68 L163.33,92.65 L162.43,92.55 L161.70,92.40 L161.07,92.17 L160.52,91.89 L160.02,91.54 L159.57,91.12 L159.17,90.64 L158.82,90.09 L158.50,89.47 L158.22,88.78 L157.98,88.01 L157.78,87.15 L157.61,86.19 L157.48,85.11 L157.39,83.85 L157.34,82.29 L157.32,79.40 L157.36,76.51 L157.44,74.95 L157.55,73.69 L157.71,72.61 L157.90,71.65 L158.13,70.79 L158.39,70.02 L158.69,69.33 L159.02,68.71 L159.38,68.16 L159.79,67.68 L160.23,67.26 L160.72,66.91 L161.25,66.63 L161.86,66.40 L162.55,66.25 L163.41,66.15 L165.00,66.12 L166.59,66.15 L167.45,66.25 L168.14,66.40 L168.75,66.63 L169.28,66.91 L169.77,67.26 L170.21,67.68 L170.62,68.16 L170.98,68.71 L171.31,69.33 L171.61,70.02 L171.87,70.79 L172.10,71.65 L172.29,72.61 L172.45,73.69 L172.56,74.95 L172.64,76.51Z" fill="none" stroke="#a0a0a0" stroke-width="0.55"/>
<path d="M171.92,79.10 L171.90,81.63 L171.86,82.99 L171.78,84.09 L171.66,85.04 L171.52,85.88 L171.34,86.63 L171.13,87.31 L170.89,87.92 L170.61,88.46 L170.30,88.94 L169.95,89.36 L169.56,89.72 L169.12,90.03 L168.64,90.28 L168.09,90.47 L167.45,90.61 L166.66,90.69 L165.20,90.72 L163.74,90.69 L162.95,90.61 L162.31,90.47 L161.76,90.28 L161.28,90.03 L160.84,89.72 L160.45,89.36 L160.10,88.94 L159.79,88.46 L159.51,87.92 L159.27,87.31 L159.06,86.63 L158.88,85.88 L158.74,85.04 L158.62,84.09 L158.54,82.99 L158.50,81.63 L158.48,79.10 L158.51,76.57 L158.58,75.21 L158.68,74.11 L158.82,73.16 L158.99,72.32 L159.19,71.57 L159.42,70.89 L159.67,70.28 L159.96,69.74 L160.28,69.26 L160.64,68.84 L161.02,68.48 L161.45,68.17 L161.92,67.92 L162.45,67.73 L163.06,67.59 L163.81,67.51 L165.20,67.48 L166.59,67.51 L167.34,67.59 L167.95,67.73 L168.48,67.92 L168.95,68.17 L169.38,68.48 L169.76,68.84 L170.12,69.26 L170.44,69.74 L170.73,70.28 L170.98,70.89 L171.21,71.57 L171.41,72.32 L171.58,73.16 L171.72,74.11 L171.82,75.21 L171.89,76.57Z" fill="none" stroke="#999" stroke-width="0.55"/>
<path d="M171.16,78.80 L171.15,80.97 L171.11,82.13 L171.04,83.08 L170.94,83.89 L170.82,84.61 L170.66,85.26 L170.48,85.84 L170.28,86.36 L170.04,86.82 L169.77,87.23 L169.47,87.59 L169.13,87.90 L168.76,88.17 L168.35,88.38 L167.87,88.55 L167.33,88.67 L166.65,88.74 L165.40,88.76 L164.15,88.74 L163.47,88.67 L162.93,88.55 L162.45,88.38 L162.04,88.17 L161.67,87.90 L161.33,87.59 L161.03,87.23 L160.76,86.82 L160.52,86.36 L160.32,85.84 L160.14,85.26 L159.98,84.61 L159.86,83.89 L159.76,83.08 L159.69,82.13 L159.65,80.97 L159.64,78.80 L159.67,76.63 L159.73,75.47 L159.82,74.52 L159.93,73.71 L160.08,72.99 L160.25,72.34 L160.44,71.76 L160.66,71.24 L160.91,70.78 L161.19,70.37 L161.49,70.01 L161.82,69.70 L162.19,69.43 L162.59,69.22 L163.04,69.05 L163.57,68.93 L164.21,68.86 L165.40,68.84 L166.59,68.86 L167.23,68.93 L167.76,69.05 L168.21,69.22 L168.61,69.43 L168.98,69.70 L169.31,70.01 L169.61,70.37 L169.89,70.78 L170.14,71.24 L170.36,71.76 L170.55,72.34 L170.72,72.99 L170.87,73.71 L170.98,74.52 L171.07,75.47 L171.13,76.63Z" fill="none" stroke="#a5a5a5" stroke-width="0.55"/>
<path d="M170.40,78.50 L170.39,80.31 L170.35,81.28 L170.30,82.07 L170.22,82.74 L170.11,83.35 L169.99,83.88 L169.84,84.36 L169.66,84.80 L169.47,85.18 L169.24,85.53 L168.99,85.83 L168.71,86.09 L168.40,86.31 L168.05,86.48 L167.66,86.62 L167.21,86.72 L166.64,86.78 L165.60,86.80 L164.56,86.78 L163.99,86.72 L163.54,86.62 L163.15,86.48 L162.80,86.31 L162.49,86.09 L162.21,85.83 L161.96,85.53 L161.73,85.18 L161.54,84.80 L161.36,84.36 L161.21,83.88 L161.09,83.35 L160.98,82.74 L160.90,82.07 L160.85,81.28 L160.81,80.31 L160.80,78.50 L160.82,76.69 L160.87,75.72 L160.95,74.93 L161.04,74.26 L161.16,73.65 L161.30,73.12 L161.47,72.64 L161.65,72.20 L161.86,71.82 L162.09,71.47 L162.34,71.17 L162.62,70.91 L162.92,70.69 L163.26,70.52 L163.64,70.38 L164.07,70.28 L164.61,70.22 L165.60,70.20 L166.59,70.22 L167.13,70.28 L167.56,70.38 L167.94,70.52 L168.28,70.69 L168.58,70.91 L168.86,71.17 L169.11,71.47 L169.34,71.82 L169.55,72.20 L169.73,72.64 L169.90,73.12 L170.04,73.65 L170.16,74.26 L170.25,74.93 L170.33,75.72 L170.38,76.69Z" fill="none" stroke="#9a9a9a" stroke-width="0.55"/>
<path d="M169.64,78.20 L169.63,79.64 L169.60,80.42 L169.56,81.05 L169.49,81.60 L169.41,82.08 L169.31,82.51 L169.19,82.89 L169.05,83.24 L168.89,83.55 L168.71,83.82 L168.51,84.06 L168.29,84.27 L168.04,84.44 L167.76,84.59 L167.45,84.70 L167.09,84.78 L166.64,84.82 L165.80,84.84 L164.96,84.82 L164.51,84.78 L164.15,84.70 L163.84,84.59 L163.56,84.44 L163.31,84.27 L163.09,84.06 L162.89,83.82 L162.71,83.55 L162.55,83.24 L162.41,82.89 L162.29,82.51 L162.19,82.08 L162.11,81.60 L162.04,81.05 L162.00,80.42 L161.97,79.64 L161.96,78.20 L161.98,76.76 L162.02,75.98 L162.08,75.35 L162.15,74.80 L162.25,74.32 L162.36,73.89 L162.49,73.51 L162.64,73.16 L162.81,72.85 L162.99,72.58 L163.19,72.34 L163.41,72.13 L163.66,71.96 L163.93,71.81 L164.23,71.70 L164.58,71.62 L165.01,71.58 L165.80,71.56 L166.59,71.58 L167.02,71.62 L167.37,71.70 L167.67,71.81 L167.94,71.96 L168.19,72.13 L168.41,72.34 L168.61,72.58 L168.79,72.85 L168.96,73.16 L169.11,73.51 L169.24,73.89 L169.35,74.32 L169.45,74.80 L169.52,75.35 L169.58,75.98 L169.62,76.76Z" fill="none" stroke="#aaa" stroke-width="0.55"/>
<path d="M168.88,77.90 L168.87,78.98 L168.85,79.57 L168.82,80.04 L168.77,80.45 L168.71,80.81 L168.63,81.13 L168.54,81.42 L168.44,81.68 L168.32,81.91 L168.18,82.12 L168.03,82.30 L167.87,82.45 L167.68,82.58 L167.47,82.69 L167.24,82.77 L166.96,82.83 L166.63,82.87 L166.00,82.88 L165.37,82.87 L165.04,82.83 L164.76,82.77 L164.53,82.69 L164.32,82.58 L164.13,82.45 L163.97,82.30 L163.82,82.12 L163.68,81.91 L163.56,81.68 L163.46,81.42 L163.37,81.13 L163.29,80.81 L163.23,80.45 L163.18,80.04 L163.15,79.57 L163.13,78.98 L163.12,77.90 L163.13,76.82 L163.16,76.23 L163.21,75.76 L163.27,75.35 L163.34,74.99 L163.42,74.67 L163.52,74.38 L163.63,74.12 L163.76,73.89 L163.89,73.68 L164.04,73.50 L164.21,73.35 L164.39,73.22 L164.60,73.11 L164.82,73.03 L165.08,72.97 L165.40,72.93 L166.00,72.92 L166.60,72.93 L166.92,72.97 L167.18,73.03 L167.40,73.11 L167.61,73.22 L167.79,73.35 L167.96,73.50 L168.11,73.68 L168.24,73.89 L168.37,74.12 L168.48,74.38 L168.58,74.67 L168.66,74.99 L168.73,75.35 L168.79,75.76 L168.84,76.23 L168.87,76.82Z" fill="none" stroke="#b0b0b0" stroke-width="0.55"/>
<path d="M168.12,77.60 L168.12,78.32 L168.10,78.71 L168.08,79.03 L168.05,79.30 L168.01,79.54 L167.95,79.75 L167.89,79.95 L167.83,80.12 L167.75,80.27 L167.66,80.41 L167.56,80.53 L167.44,80.63 L167.32,80.72 L167.18,80.79 L167.02,80.85 L166.84,80.89 L166.62,80.91 L166.20,80.92 L165.78,80.91 L165.56,80.89 L165.38,80.85 L165.22,80.79 L165.08,80.72 L164.96,80.63 L164.84,80.53 L164.74,80.41 L164.65,80.27 L164.57,80.12 L164.51,79.95 L164.45,79.75 L164.39,79.54 L164.35,79.30 L164.32,79.03 L164.30,78.71 L164.28,78.32 L164.28,77.60 L164.29,76.88 L164.31,76.49 L164.34,76.17 L164.38,75.90 L164.43,75.66 L164.48,75.45 L164.55,75.25 L164.62,75.08 L164.70,74.93 L164.80,74.79 L164.90,74.67 L165.01,74.57 L165.13,74.48 L165.26,74.41 L165.41,74.35 L165.59,74.31 L165.80,74.29 L166.20,74.28 L166.60,74.29 L166.81,74.31 L166.99,74.35 L167.14,74.41 L167.27,74.48 L167.39,74.57 L167.50,74.67 L167.60,74.79 L167.70,74.93 L167.78,75.08 L167.85,75.25 L167.92,75.45 L167.97,75.66 L168.02,75.90 L168.06,76.17 L168.09,76.49 L168.11,76.88Z" fill="none" stroke="#bbb" stroke-width="0.55"/>
</g>
<path d="M174,66 181,64.8 183,67 180,74 177,82 175.5,87" fill="none" stroke="#999" stroke-width="0.5"/>
<path d="M174,68.5 179,67.5 180,70 176.5,79 174.5,84" fill="none" stroke="#999" stroke-width="0.5"/>
<path d="M174,71 176.5,70.5 176.5,73 174.5,78" fill="none" stroke="#999" stroke-width="0.5"/>
<g filter="url(#soft)">
<path d="M170.90,110.50 L170.87,111.97 L170.77,113.25 L170.60,114.45 L170.37,115.59 L170.07,116.67 L169.71,117.69 L169.29,118.64 L168.81,119.53 L168.28,120.35 L167.69,121.10 L167.05,121.76 L166.37,122.35 L165.63,122.85 L164.86,123.26 L164.04,123.58 L163.17,123.81 L162.26,123.95 L161.20,124.00 L160.14,123.95 L159.23,123.81 L158.36,123.58 L157.54,123.26 L156.77,122.85 L156.03,122.35 L155.35,121.76 L154.71,121.10 L154.12,120.35 L153.59,119.53 L153.11,118.64 L152.69,117.69 L152.33,116.67 L152.03,115.59 L151.80,114.45 L151.63,113.25 L151.53,111.97 L151.50,110.50 L151.55,109.03 L151.69,107.75 L151.92,106.55 L152.23,105.41 L152.61,104.33 L153.05,103.31 L153.55,102.36 L154.10,101.47 L154.69,100.65 L155.31,99.90 L155.96,99.24 L156.63,98.65 L157.32,98.15 L158.03,97.74 L158.76,97.42 L159.51,97.19 L160.30,97.05 L161.20,97.00 L162.10,97.05 L162.89,97.19 L163.64,97.42 L164.37,97.74 L165.08,98.15 L165.77,98.65 L166.44,99.24 L167.09,99.90 L167.71,100.65 L168.30,101.47 L168.85,102.36 L169.35,103.31 L169.79,104.33 L170.17,105.41 L170.48,106.55 L170.71,107.75 L170.85,109.03Z" fill="#e2e2e2"/>
<path d="M170.90,110.50 L170.87,111.97 L170.77,113.25 L170.60,114.45 L170.37,115.59 L170.07,116.67 L169.71,117.69 L169.29,118.64 L168.81,119.53 L168.28,120.35 L167.69,121.10 L167.05,121.76 L166.37,122.35 L165.63,122.85 L164.86,123.26 L164.04,123.58 L163.17,123.81 L162.26,123.95 L161.20,124.00 L160.14,123.95 L159.23,123.81 L158.36,123.58 L157.54,123.26 L156.77,122.85 L156.03,122.35 L155.35,121.76 L154.71,121.10 L154.12,120.35 L153.59,119.53 L153.11,118.64 L152.69,117.69 L152.33,116.67 L152.03,115.59 L151.80,114.45 L151.63,113.25 L151.53,111.97 L151.50,110.50 L151.55,109.03 L151.69,107.75 L151.92,106.55 L152.23,105.41 L152.61,104.33 L153.05,103.31 L153.55,102.36 L154.10,101.47 L154.69,100.65 L155.31,99.90 L155.96,99.24 L156.63,98.65 L157.32,98.15 L158.03,97.74 L158.76,97.42 L159.51,97.19 L160.30,97.05 L161.20,97.00 L162.10,97.05 L162.89,97.19 L163.64,97.42 L164.37,97.74 L165.08,98.15 L165.77,98.65 L166.44,99.24 L167.09,99.90 L167.71,100.65 L168.30,101.47 L168.85,102.36 L169.35,103.31 L169.79,104.33 L170.17,105.41 L170.48,106.55 L170.71,107.75 L170.85,109.03Z" fill="none" stroke="#4a4a4a" stroke-width="0.65"/>
<path d="M169.83,110.50 L169.80,111.81 L169.71,112.95 L169.57,114.02 L169.36,115.03 L169.09,115.99 L168.77,116.90 L168.40,117.75 L167.98,118.54 L167.50,119.27 L166.98,119.93 L166.41,120.52 L165.80,121.04 L165.15,121.49 L164.46,121.85 L163.73,122.14 L162.96,122.35 L162.14,122.47 L161.20,122.52 L160.26,122.47 L159.44,122.35 L158.67,122.14 L157.94,121.85 L157.25,121.49 L156.60,121.04 L155.99,120.52 L155.42,119.93 L154.90,119.27 L154.42,118.54 L154.00,117.75 L153.63,116.90 L153.31,115.99 L153.04,115.03 L152.83,114.02 L152.69,112.95 L152.60,111.81 L152.57,110.50 L152.61,109.19 L152.74,108.05 L152.94,106.98 L153.22,105.97 L153.55,105.01 L153.95,104.10 L154.39,103.25 L154.88,102.46 L155.40,101.73 L155.96,101.07 L156.54,100.48 L157.13,99.96 L157.75,99.51 L158.38,99.15 L159.03,98.86 L159.70,98.65 L160.40,98.53 L161.20,98.48 L162.00,98.53 L162.70,98.65 L163.37,98.86 L164.02,99.15 L164.65,99.51 L165.27,99.96 L165.86,100.48 L166.44,101.07 L167.00,101.73 L167.52,102.46 L168.01,103.25 L168.45,104.10 L168.85,105.01 L169.18,105.97 L169.46,106.98 L169.66,108.05 L169.79,109.19Z" fill="none" stroke="#606060" stroke-width="0.65"/>
<path d="M168.77,110.50 L168.74,111.65 L168.66,112.64 L168.53,113.58 L168.35,114.47 L168.12,115.31 L167.84,116.11 L167.51,116.85 L167.14,117.55 L166.72,118.18 L166.26,118.76 L165.76,119.28 L165.23,119.74 L164.66,120.13 L164.05,120.45 L163.41,120.70 L162.74,120.88 L162.02,120.99 L161.20,121.03 L160.38,120.99 L159.66,120.88 L158.99,120.70 L158.35,120.45 L157.74,120.13 L157.17,119.74 L156.64,119.28 L156.14,118.76 L155.68,118.18 L155.26,117.55 L154.89,116.85 L154.56,116.11 L154.28,115.31 L154.05,114.47 L153.87,113.58 L153.74,112.64 L153.66,111.65 L153.63,110.50 L153.67,109.35 L153.78,108.36 L153.96,107.42 L154.20,106.53 L154.50,105.69 L154.84,104.89 L155.23,104.15 L155.66,103.45 L156.12,102.82 L156.61,102.24 L157.11,101.72 L157.64,101.26 L158.18,100.87 L158.73,100.55 L159.30,100.30 L159.88,100.12 L160.50,100.01 L161.20,99.97 L161.90,100.01 L162.52,100.12 L163.10,100.30 L163.67,100.55 L164.22,100.87 L164.76,101.26 L165.29,101.72 L165.79,102.24 L166.28,102.82 L166.74,103.45 L167.17,104.15 L167.56,104.89 L167.90,105.69 L168.20,106.53 L168.44,107.42 L168.62,108.36 L168.73,109.35Z" fill="none" stroke="#808080" stroke-width="0.65"/>
<path d="M167.70,110.50 L167.68,111.48 L167.61,112.34 L167.50,113.15 L167.34,113.91 L167.14,114.63 L166.90,115.32 L166.62,115.96 L166.30,116.55 L165.94,117.10 L165.55,117.60 L165.12,118.04 L164.66,118.44 L164.17,118.77 L163.65,119.05 L163.10,119.26 L162.52,119.42 L161.91,119.51 L161.20,119.55 L160.49,119.51 L159.88,119.42 L159.30,119.26 L158.75,119.05 L158.23,118.77 L157.74,118.44 L157.28,118.04 L156.85,117.60 L156.46,117.10 L156.10,116.55 L155.78,115.96 L155.50,115.32 L155.26,114.63 L155.06,113.91 L154.90,113.15 L154.79,112.34 L154.72,111.48 L154.70,110.50 L154.73,109.52 L154.83,108.66 L154.98,107.85 L155.19,107.09 L155.44,106.37 L155.74,105.68 L156.07,105.04 L156.44,104.45 L156.84,103.90 L157.25,103.40 L157.69,102.96 L158.14,102.56 L158.60,102.23 L159.08,101.95 L159.57,101.74 L160.07,101.58 L160.60,101.49 L161.20,101.45 L161.80,101.49 L162.33,101.58 L162.83,101.74 L163.32,101.95 L163.80,102.23 L164.26,102.56 L164.71,102.96 L165.15,103.40 L165.56,103.90 L165.96,104.45 L166.33,105.04 L166.66,105.68 L166.96,106.37 L167.21,107.09 L167.42,107.85 L167.57,108.66 L167.67,109.52Z" fill="none" stroke="#8e8e8e" stroke-width="0.65"/>
<path d="M166.63,110.50 L166.61,111.32 L166.56,112.04 L166.46,112.71 L166.33,113.35 L166.17,113.96 L165.97,114.53 L165.73,115.06 L165.46,115.56 L165.16,116.02 L164.83,116.43 L164.48,116.81 L164.09,117.13 L163.68,117.41 L163.25,117.64 L162.79,117.83 L162.31,117.96 L161.79,118.03 L161.20,118.06 L160.61,118.03 L160.09,117.96 L159.61,117.83 L159.15,117.64 L158.72,117.41 L158.31,117.13 L157.92,116.81 L157.57,116.43 L157.24,116.02 L156.94,115.56 L156.67,115.06 L156.43,114.53 L156.23,113.96 L156.07,113.35 L155.94,112.71 L155.84,112.04 L155.79,111.32 L155.77,110.50 L155.80,109.68 L155.88,108.96 L156.00,108.29 L156.18,107.65 L156.39,107.04 L156.64,106.47 L156.92,105.94 L157.22,105.44 L157.55,104.98 L157.90,104.57 L158.26,104.19 L158.64,103.87 L159.03,103.59 L159.43,103.36 L159.83,103.17 L160.26,103.04 L160.70,102.97 L161.20,102.94 L161.70,102.97 L162.14,103.04 L162.57,103.17 L162.97,103.36 L163.37,103.59 L163.76,103.87 L164.14,104.19 L164.50,104.57 L164.85,104.98 L165.18,105.44 L165.48,105.94 L165.76,106.47 L166.01,107.04 L166.22,107.65 L166.40,108.29 L166.52,108.96 L166.60,109.68Z" fill="none" stroke="#999" stroke-width="0.65"/>
<path d="M165.56,110.50 L165.55,111.16 L165.50,111.74 L165.43,112.28 L165.33,112.79 L165.19,113.28 L165.03,113.74 L164.84,114.17 L164.63,114.57 L164.39,114.93 L164.12,115.27 L163.83,115.57 L163.52,115.83 L163.19,116.06 L162.85,116.24 L162.48,116.39 L162.09,116.49 L161.67,116.55 L161.20,116.58 L160.73,116.55 L160.31,116.49 L159.92,116.39 L159.55,116.24 L159.21,116.06 L158.88,115.83 L158.57,115.57 L158.28,115.27 L158.01,114.93 L157.77,114.57 L157.56,114.17 L157.37,113.74 L157.21,113.28 L157.07,112.79 L156.97,112.28 L156.90,111.74 L156.85,111.16 L156.83,110.50 L156.86,109.84 L156.92,109.26 L157.02,108.72 L157.16,108.21 L157.33,107.72 L157.53,107.26 L157.76,106.83 L158.00,106.43 L158.27,106.07 L158.55,105.73 L158.84,105.43 L159.14,105.17 L159.46,104.94 L159.77,104.76 L160.10,104.61 L160.44,104.51 L160.80,104.45 L161.20,104.42 L161.60,104.45 L161.96,104.51 L162.30,104.61 L162.63,104.76 L162.94,104.94 L163.26,105.17 L163.56,105.43 L163.85,105.73 L164.13,106.07 L164.40,106.43 L164.64,106.83 L164.87,107.26 L165.07,107.72 L165.24,108.21 L165.38,108.72 L165.48,109.26 L165.54,109.84Z" fill="none" stroke="#909090" stroke-width="0.65"/>
<path d="M164.50,110.50 L164.49,111.00 L164.45,111.43 L164.40,111.84 L164.32,112.23 L164.22,112.60 L164.09,112.94 L163.95,113.27 L163.79,113.57 L163.61,113.85 L163.41,114.10 L163.19,114.33 L162.96,114.53 L162.71,114.70 L162.44,114.84 L162.17,114.95 L161.87,115.03 L161.56,115.07 L161.20,115.09 L160.84,115.07 L160.53,115.03 L160.23,114.95 L159.96,114.84 L159.69,114.70 L159.44,114.53 L159.21,114.33 L158.99,114.10 L158.79,113.85 L158.61,113.57 L158.45,113.27 L158.31,112.94 L158.18,112.60 L158.08,112.23 L158.00,111.84 L157.95,111.43 L157.91,111.00 L157.90,110.50 L157.92,110.00 L157.97,109.57 L158.05,109.16 L158.15,108.77 L158.28,108.40 L158.43,108.06 L158.60,107.73 L158.79,107.43 L158.99,107.15 L159.20,106.90 L159.42,106.67 L159.65,106.47 L159.88,106.30 L160.12,106.16 L160.37,106.05 L160.63,105.97 L160.89,105.93 L161.20,105.91 L161.51,105.93 L161.77,105.97 L162.03,106.05 L162.28,106.16 L162.52,106.30 L162.75,106.47 L162.98,106.67 L163.20,106.90 L163.41,107.15 L163.61,107.43 L163.80,107.73 L163.97,108.06 L164.12,108.40 L164.25,108.77 L164.35,109.16 L164.43,109.57 L164.48,110.00Z" fill="none" stroke="#a0a0a0" stroke-width="0.65"/>
<path d="M163.43,110.50 L163.42,110.84 L163.40,111.13 L163.36,111.41 L163.31,111.67 L163.24,111.92 L163.16,112.15 L163.06,112.37 L162.95,112.58 L162.83,112.77 L162.69,112.94 L162.55,113.09 L162.39,113.22 L162.22,113.34 L162.04,113.43 L161.85,113.51 L161.65,113.56 L161.44,113.59 L161.20,113.61 L160.96,113.59 L160.75,113.56 L160.55,113.51 L160.36,113.43 L160.18,113.34 L160.01,113.22 L159.85,113.09 L159.71,112.94 L159.57,112.77 L159.45,112.58 L159.34,112.37 L159.24,112.15 L159.16,111.92 L159.09,111.67 L159.04,111.41 L159.00,111.13 L158.98,110.84 L158.97,110.50 L158.98,110.16 L159.01,109.87 L159.07,109.59 L159.14,109.33 L159.22,109.08 L159.33,108.85 L159.44,108.63 L159.57,108.42 L159.70,108.23 L159.85,108.06 L159.99,107.91 L160.15,107.78 L160.31,107.66 L160.47,107.57 L160.64,107.49 L160.81,107.44 L160.99,107.41 L161.20,107.39 L161.41,107.41 L161.59,107.44 L161.76,107.49 L161.93,107.57 L162.09,107.66 L162.25,107.78 L162.41,107.91 L162.55,108.06 L162.70,108.23 L162.83,108.42 L162.96,108.63 L163.07,108.85 L163.18,109.08 L163.26,109.33 L163.33,109.59 L163.39,109.87 L163.42,110.16Z" fill="none" stroke="#aaa" stroke-width="0.65"/>
<path d="M162.36,110.50 L162.36,110.68 L162.35,110.83 L162.33,110.97 L162.30,111.11 L162.26,111.24 L162.22,111.36 L162.17,111.48 L162.11,111.58 L162.05,111.68 L161.98,111.77 L161.90,111.85 L161.82,111.92 L161.73,111.98 L161.64,112.03 L161.54,112.07 L161.44,112.10 L161.33,112.11 L161.20,112.12 L161.07,112.11 L160.96,112.10 L160.86,112.07 L160.76,112.03 L160.67,111.98 L160.58,111.92 L160.50,111.85 L160.42,111.77 L160.35,111.68 L160.29,111.58 L160.23,111.48 L160.18,111.36 L160.14,111.24 L160.10,111.11 L160.07,110.97 L160.05,110.83 L160.04,110.68 L160.04,110.50 L160.04,110.32 L160.06,110.17 L160.09,110.03 L160.12,109.89 L160.17,109.76 L160.22,109.64 L160.28,109.52 L160.35,109.42 L160.42,109.32 L160.49,109.23 L160.57,109.15 L160.65,109.08 L160.73,109.02 L160.82,108.97 L160.91,108.93 L161.00,108.90 L161.09,108.89 L161.20,108.88 L161.31,108.89 L161.40,108.90 L161.49,108.93 L161.58,108.97 L161.67,109.02 L161.75,109.08 L161.83,109.15 L161.91,109.23 L161.98,109.32 L162.05,109.42 L162.12,109.52 L162.18,109.64 L162.23,109.76 L162.28,109.89 L162.31,110.03 L162.34,110.17 L162.36,110.32Z" fill="none" stroke="#b5b5b5" stroke-width="0.65"/>
<ellipse cx="161.20" cy="110.50" rx="1.0" ry="1.3" fill="#fff" opacity="0.9"/>
</g>
<path d="M174.5,105.5 C181.55,105.5 188.6,107.7 188.6,111 C188.6,114.3 181.55,116.5 174.5,116.5" fill="none" stroke="#777" stroke-width="0.5"/>
<path d="M174.5,107.3 C179.25,107.3 184,108.58 184,110.5 C184,112.42 179.25,113.7 174.5,113.7" fill="none" stroke="#777" stroke-width="0.5"/>
<line x1="174.30" y1="42.80" x2="174.30" y2="125.70" stroke="#4a4a4a" stroke-width="1.1"/>
<line x1="144.90" y1="95.60" x2="228.30" y2="95.60" stroke="#4a4a4a" stroke-width="1.1"/>
<text x="155.60" y="56.00" font-size="10" font-weight="bold" text-anchor="start" fill="#111" stroke="#111" stroke-width="0.12" >26</text>
<text x="213.00" y="56.50" font-size="10" font-weight="bold" text-anchor="start" fill="#111" stroke="#111" stroke-width="0.12" >7</text>
<text x="212.60" y="116.60" font-size="10" font-weight="bold" text-anchor="start" fill="#111" stroke="#111" stroke-width="0.12" >4</text>
<rect x="187.05" y="64.65" width="1.3" height="1.3" fill="#222"/>
<rect x="191.65" y="66.95" width="1.3" height="1.3" fill="#222"/>
<rect x="192.35" y="69.35" width="1.3" height="1.3" fill="#222"/>
<rect x="184.75" y="68.65" width="1.3" height="1.3" fill="#222"/>
<rect x="183.55" y="72.75" width="1.3" height="1.3" fill="#222"/>
<rect x="193.95" y="73.25" width="1.3" height="1.3" fill="#222"/>
<rect x="179.65" y="75.45" width="1.3" height="1.3" fill="#222"/>
<rect x="196.65" y="81.45" width="1.3" height="1.3" fill="#222"/>
<rect x="180.85" y="83.05" width="1.3" height="1.3" fill="#222"/>
<rect x="184.25" y="83.05" width="1.3" height="1.3" fill="#222"/>
<rect x="191.65" y="85.85" width="1.3" height="1.3" fill="#222"/>
<rect x="185.85" y="87.65" width="1.3" height="1.3" fill="#222"/>
<rect x="187.05" y="88.35" width="1.3" height="1.3" fill="#222"/>
<rect x="175.55" y="84.95" width="1.3" height="1.3" fill="#222"/>
<rect x="175.55" y="89.95" width="1.3" height="1.3" fill="#222"/>
<rect x="175.05" y="94.55" width="1.3" height="1.3" fill="#222"/>
<rect x="177.45" y="98.55" width="1.3" height="1.3" fill="#222"/>
<rect x="178.55" y="104.75" width="1.3" height="1.3" fill="#222"/>
<rect x="182.85" y="108.05" width="1.3" height="1.3" fill="#222"/>
<rect x="187.75" y="106.35" width="1.3" height="1.3" fill="#222"/>
<rect x="194.25" y="104.25" width="1.3" height="1.3" fill="#222"/>
<rect x="193.15" y="108.05" width="1.3" height="1.3" fill="#222"/>
<rect x="187.15" y="112.35" width="1.3" height="1.3" fill="#222"/>
<rect x="188.85" y="114.35" width="1.3" height="1.3" fill="#222"/>
<rect x="185.05" y="115.65" width="1.3" height="1.3" fill="#222"/>
<rect x="190.15" y="117.45" width="1.3" height="1.3" fill="#222"/>
<rect x="194.85" y="116.35" width="1.3" height="1.3" fill="#222"/>
<rect x="180.35" y="119.25" width="1.3" height="1.3" fill="#222"/>
<rect x="45.4" y="150.3" width="83.29999999999998" height="83.0" fill="none" stroke="#8f8f8f" stroke-width="1.0"/>
<text x="42.80" y="159.49" font-size="4.3" text-anchor="end" fill="#8c8c8c">10<tspan dy="-1.7" font-size="3.2">5</tspan></text>
<line x1="43.60" y1="157.19" x2="45.40" y2="157.19" stroke="#555" stroke-width="0.8"/>
<text x="42.80" y="176.34" font-size="4.3" text-anchor="end" fill="#8c8c8c">10<tspan dy="-1.7" font-size="3.2">4</tspan></text>
<line x1="43.60" y1="174.04" x2="45.40" y2="174.04" stroke="#555" stroke-width="0.8"/>
<text x="42.80" y="194.60" font-size="4.3" text-anchor="end" fill="#8c8c8c">10<tspan dy="-1.7" font-size="3.2">3</tspan></text>
<line x1="43.60" y1="192.30" x2="45.40" y2="192.30" stroke="#555" stroke-width="0.8"/>
<text x="39.80" y="223.48" font-size="4.3" text-anchor="end" fill="#8c8c8c">0</text>
<line x1="43.60" y1="221.18" x2="45.40" y2="221.18" stroke="#555" stroke-width="0.8"/>
<line x1="44.40" y1="152.30" x2="45.40" y2="152.30" stroke="#999" stroke-width="0.45"/>
<line x1="44.40" y1="155.02" x2="45.40" y2="155.02" stroke="#999" stroke-width="0.45"/>
<line x1="44.40" y1="157.75" x2="45.40" y2="157.75" stroke="#999" stroke-width="0.45"/>
<line x1="44.40" y1="160.47" x2="45.40" y2="160.47" stroke="#999" stroke-width="0.45"/>
<line x1="44.40" y1="163.20" x2="45.40" y2="163.20" stroke="#999" stroke-width="0.45"/>
<line x1="44.40" y1="165.92" x2="45.40" y2="165.92" stroke="#999" stroke-width="0.45"/>
<line x1="44.40" y1="168.64" x2="45.40" y2="168.64" stroke="#999" stroke-width="0.45"/>
<line x1="44.40" y1="171.37" x2="45.40" y2="171.37" stroke="#999" stroke-width="0.45"/>
<line x1="44.40" y1="174.09" x2="45.40" y2="174.09" stroke="#999" stroke-width="0.45"/>
<line x1="44.40" y1="176.82" x2="45.40" y2="176.82" stroke="#999" stroke-width="0.45"/>
<line x1="44.40" y1="179.54" x2="45.40" y2="179.54" stroke="#999" stroke-width="0.45"/>
<line x1="44.40" y1="182.27" x2="45.40" y2="182.27" stroke="#999" stroke-width="0.45"/>
<line x1="44.40" y1="184.99" x2="45.40" y2="184.99" stroke="#999" stroke-width="0.45"/>
<line x1="44.40" y1="187.71" x2="45.40" y2="187.71" stroke="#999" stroke-width="0.45"/>
<line x1="44.40" y1="190.44" x2="45.40" y2="190.44" stroke="#999" stroke-width="0.45"/>
<line x1="44.40" y1="193.16" x2="45.40" y2="193.16" stroke="#999" stroke-width="0.45"/>
<line x1="44.40" y1="195.89" x2="45.40" y2="195.89" stroke="#999" stroke-width="0.45"/>
<line x1="44.40" y1="198.61" x2="45.40" y2="198.61" stroke="#999" stroke-width="0.45"/>
<line x1="44.40" y1="201.33" x2="45.40" y2="201.33" stroke="#999" stroke-width="0.45"/>
<line x1="44.40" y1="204.06" x2="45.40" y2="204.06" stroke="#999" stroke-width="0.45"/>
<line x1="44.40" y1="206.78" x2="45.40" y2="206.78" stroke="#999" stroke-width="0.45"/>
<line x1="44.40" y1="209.51" x2="45.40" y2="209.51" stroke="#999" stroke-width="0.45"/>
<line x1="44.40" y1="212.23" x2="45.40" y2="212.23" stroke="#999" stroke-width="0.45"/>
<line x1="44.40" y1="214.96" x2="45.40" y2="214.96" stroke="#999" stroke-width="0.45"/>
<line x1="44.40" y1="217.68" x2="45.40" y2="217.68" stroke="#999" stroke-width="0.45"/>
<line x1="44.40" y1="220.40" x2="45.40" y2="220.40" stroke="#999" stroke-width="0.45"/>
<line x1="44.40" y1="223.13" x2="45.40" y2="223.13" stroke="#999" stroke-width="0.45"/>
<line x1="44.40" y1="225.85" x2="45.40" y2="225.85" stroke="#999" stroke-width="0.45"/>
<line x1="44.40" y1="228.58" x2="45.40" y2="228.58" stroke="#999" stroke-width="0.45"/>
<line x1="44.40" y1="231.30" x2="45.40" y2="231.30" stroke="#999" stroke-width="0.45"/>
<text x="61.89" y="241.10" font-size="4.4" text-anchor="middle" fill="#8c8c8c">0</text>
<line x1="61.89" y1="233.30" x2="61.89" y2="235.50" stroke="#555" stroke-width="0.8"/>
<text x="80.75" y="241.10" font-size="4.4" text-anchor="start" fill="#8c8c8c">10<tspan dy="-1.7" font-size="3.2">3</tspan></text>
<line x1="80.55" y1="233.30" x2="80.55" y2="235.50" stroke="#555" stroke-width="0.8"/>
<text x="101.41" y="241.10" font-size="4.4" text-anchor="start" fill="#8c8c8c">10<tspan dy="-1.7" font-size="3.2">4</tspan></text>
<line x1="101.21" y1="233.30" x2="101.21" y2="235.50" stroke="#555" stroke-width="0.8"/>
<text x="120.40" y="241.10" font-size="4.4" text-anchor="start" fill="#8c8c8c">10<tspan dy="-1.7" font-size="3.2">5</tspan></text>
<line x1="120.20" y1="233.30" x2="120.20" y2="235.50" stroke="#555" stroke-width="0.8"/>
<line x1="47.40" y1="233.30" x2="47.40" y2="234.30" stroke="#999" stroke-width="0.45"/>
<line x1="50.13" y1="233.30" x2="50.13" y2="234.30" stroke="#999" stroke-width="0.45"/>
<line x1="52.87" y1="233.30" x2="52.87" y2="234.30" stroke="#999" stroke-width="0.45"/>
<line x1="55.60" y1="233.30" x2="55.60" y2="234.30" stroke="#999" stroke-width="0.45"/>
<line x1="58.34" y1="233.30" x2="58.34" y2="234.30" stroke="#999" stroke-width="0.45"/>
<line x1="61.07" y1="233.30" x2="61.07" y2="234.30" stroke="#999" stroke-width="0.45"/>
<line x1="63.81" y1="233.30" x2="63.81" y2="234.30" stroke="#999" stroke-width="0.45"/>
<line x1="66.54" y1="233.30" x2="66.54" y2="234.30" stroke="#999" stroke-width="0.45"/>
<line x1="69.28" y1="233.30" x2="69.28" y2="234.30" stroke="#999" stroke-width="0.45"/>
<line x1="72.01" y1="233.30" x2="72.01" y2="234.30" stroke="#999" stroke-width="0.45"/>
<line x1="74.74" y1="233.30" x2="74.74" y2="234.30" stroke="#999" stroke-width="0.45"/>
<line x1="77.48" y1="233.30" x2="77.48" y2="234.30" stroke="#999" stroke-width="0.45"/>
<line x1="80.21" y1="233.30" x2="80.21" y2="234.30" stroke="#999" stroke-width="0.45"/>
<line x1="82.95" y1="233.30" x2="82.95" y2="234.30" stroke="#999" stroke-width="0.45"/>
<line x1="85.68" y1="233.30" x2="85.68" y2="234.30" stroke="#999" stroke-width="0.45"/>
<line x1="88.42" y1="233.30" x2="88.42" y2="234.30" stroke="#999" stroke-width="0.45"/>
<line x1="91.15" y1="233.30" x2="91.15" y2="234.30" stroke="#999" stroke-width="0.45"/>
<line x1="93.89" y1="233.30" x2="93.89" y2="234.30" stroke="#999" stroke-width="0.45"/>
<line x1="96.62" y1="233.30" x2="96.62" y2="234.30" stroke="#999" stroke-width="0.45"/>
<line x1="99.36" y1="233.30" x2="99.36" y2="234.30" stroke="#999" stroke-width="0.45"/>
<line x1="102.09" y1="233.30" x2="102.09" y2="234.30" stroke="#999" stroke-width="0.45"/>
<line x1="104.82" y1="233.30" x2="104.82" y2="234.30" stroke="#999" stroke-width="0.45"/>
<line x1="107.56" y1="233.30" x2="107.56" y2="234.30" stroke="#999" stroke-width="0.45"/>
<line x1="110.29" y1="233.30" x2="110.29" y2="234.30" stroke="#999" stroke-width="0.45"/>
<line x1="113.03" y1="233.30" x2="113.03" y2="234.30" stroke="#999" stroke-width="0.45"/>
<line x1="115.76" y1="233.30" x2="115.76" y2="234.30" stroke="#999" stroke-width="0.45"/>
<line x1="118.50" y1="233.30" x2="118.50" y2="234.30" stroke="#999" stroke-width="0.45"/>
<line x1="121.23" y1="233.30" x2="121.23" y2="234.30" stroke="#999" stroke-width="0.45"/>
<line x1="123.97" y1="233.30" x2="123.97" y2="234.30" stroke="#999" stroke-width="0.45"/>
<line x1="126.70" y1="233.30" x2="126.70" y2="234.30" stroke="#999" stroke-width="0.45"/>
<line x1="44.00" y1="215.04" x2="45.40" y2="215.04" stroke="#333" stroke-width="0.9"/>
<line x1="44.00" y1="216.64" x2="45.40" y2="216.64" stroke="#333" stroke-width="0.9"/>
<line x1="44.00" y1="218.24" x2="45.40" y2="218.24" stroke="#333" stroke-width="0.9"/>
<line x1="43.20" y1="219.84" x2="45.40" y2="219.84" stroke="#333" stroke-width="0.9"/>
<line x1="43.20" y1="221.44" x2="45.40" y2="221.44" stroke="#333" stroke-width="0.9"/>
<line x1="43.20" y1="223.04" x2="45.40" y2="223.04" stroke="#333" stroke-width="0.9"/>
<line x1="44.00" y1="224.64" x2="45.40" y2="224.64" stroke="#333" stroke-width="0.9"/>
<line x1="44.00" y1="226.24" x2="45.40" y2="226.24" stroke="#333" stroke-width="0.9"/>
<line x1="44.00" y1="227.84" x2="45.40" y2="227.84" stroke="#333" stroke-width="0.9"/>
<rect x="56.81" y="233.30" width="6.75" height="1.5" fill="#222"/>
<g filter="url(#soft)">
<path d="M67.40,189.50 L67.38,190.37 L67.33,191.23 L67.24,192.08 L67.11,192.91 L66.95,193.71 L66.76,194.48 L66.53,195.21 L66.28,195.90 L65.99,196.54 L65.69,197.13 L65.35,197.66 L65.00,198.13 L64.63,198.53 L64.24,198.86 L63.84,199.12 L63.43,199.31 L63.02,199.42 L62.60,199.46 L62.18,199.42 L61.77,199.31 L61.36,199.12 L60.96,198.86 L60.57,198.53 L60.20,198.13 L59.85,197.66 L59.51,197.13 L59.21,196.54 L58.92,195.90 L58.67,195.21 L58.44,194.48 L58.25,193.71 L58.09,192.91 L57.96,192.08 L57.87,191.23 L57.82,190.37 L57.80,189.50 L57.82,188.78 L57.87,188.06 L57.96,187.35 L58.09,186.66 L58.25,185.99 L58.44,185.35 L58.67,184.74 L58.92,184.16 L59.21,183.63 L59.51,183.14 L59.85,182.70 L60.20,182.31 L60.57,181.98 L60.96,181.70 L61.36,181.48 L61.77,181.33 L62.18,181.23 L62.60,181.20 L63.02,181.23 L63.43,181.33 L63.84,181.48 L64.24,181.70 L64.63,181.98 L65.00,182.31 L65.35,182.70 L65.69,183.14 L65.99,183.63 L66.28,184.16 L66.53,184.74 L66.76,185.35 L66.95,185.99 L67.11,186.66 L67.24,187.35 L67.33,188.06 L67.38,188.78Z" fill="none" stroke="#8a8a8a" stroke-width="0.6"/>
<path d="M66.08,188.95 L66.07,189.58 L66.03,190.20 L65.96,190.82 L65.87,191.42 L65.75,192.00 L65.61,192.56 L65.45,193.09 L65.27,193.59 L65.06,194.06 L64.84,194.48 L64.60,194.87 L64.34,195.20 L64.07,195.49 L63.79,195.74 L63.50,195.92 L63.20,196.06 L62.90,196.14 L62.60,196.17 L62.30,196.14 L62.00,196.06 L61.70,195.92 L61.41,195.74 L61.13,195.49 L60.86,195.20 L60.60,194.87 L60.36,194.48 L60.14,194.06 L59.93,193.59 L59.75,193.09 L59.59,192.56 L59.45,192.00 L59.33,191.42 L59.24,190.82 L59.17,190.20 L59.13,189.58 L59.12,188.95 L59.13,188.43 L59.17,187.91 L59.24,187.39 L59.33,186.89 L59.45,186.41 L59.59,185.94 L59.75,185.50 L59.93,185.08 L60.14,184.69 L60.36,184.34 L60.60,184.02 L60.86,183.74 L61.13,183.50 L61.41,183.30 L61.70,183.14 L62.00,183.02 L62.30,182.96 L62.60,182.93 L62.90,182.96 L63.20,183.02 L63.50,183.14 L63.79,183.30 L64.07,183.50 L64.34,183.74 L64.60,184.02 L64.84,184.34 L65.06,184.69 L65.27,185.08 L65.45,185.50 L65.61,185.94 L65.75,186.41 L65.87,186.89 L65.96,187.39 L66.03,187.91 L66.07,188.43Z" fill="none" stroke="#999" stroke-width="0.6"/>
<path d="M64.76,188.40 L64.75,188.79 L64.73,189.18 L64.69,189.56 L64.63,189.93 L64.56,190.29 L64.47,190.64 L64.37,190.97 L64.25,191.28 L64.13,191.57 L63.99,191.83 L63.84,192.07 L63.68,192.28 L63.51,192.46 L63.34,192.61 L63.16,192.73 L62.98,192.81 L62.79,192.86 L62.60,192.88 L62.41,192.86 L62.22,192.81 L62.04,192.73 L61.86,192.61 L61.69,192.46 L61.52,192.28 L61.36,192.07 L61.21,191.83 L61.07,191.57 L60.95,191.28 L60.83,190.97 L60.73,190.64 L60.64,190.29 L60.57,189.93 L60.51,189.56 L60.47,189.18 L60.45,188.79 L60.44,188.40 L60.45,188.07 L60.47,187.75 L60.51,187.43 L60.57,187.12 L60.64,186.82 L60.73,186.53 L60.83,186.26 L60.95,186.00 L61.07,185.76 L61.21,185.54 L61.36,185.34 L61.52,185.17 L61.69,185.01 L61.86,184.89 L62.04,184.79 L62.22,184.72 L62.41,184.68 L62.60,184.66 L62.79,184.68 L62.98,184.72 L63.16,184.79 L63.34,184.89 L63.51,185.01 L63.68,185.17 L63.84,185.34 L63.99,185.54 L64.13,185.76 L64.25,186.00 L64.37,186.26 L64.47,186.53 L64.56,186.82 L64.63,187.12 L64.69,187.43 L64.73,187.75 L64.75,188.07Z" fill="none" stroke="#a5a5a5" stroke-width="0.6"/>
</g>
<path d="M66.8,195 69.5,199.5 71.5,204" fill="none" stroke="#8a8a8a" stroke-width="0.55"/>
<path d="M65,197 66.8,200.5 68,204" fill="none" stroke="#8a8a8a" stroke-width="0.55"/>
<path d="M58.5,194 59.5,199 58,204" fill="none" stroke="#8a8a8a" stroke-width="0.55"/>
<g filter="url(#soft)">
<path d="M72.70,215.60 L72.66,216.99 L72.56,218.21 L72.38,219.35 L72.13,220.43 L71.81,221.45 L71.43,222.42 L70.98,223.32 L70.46,224.16 L69.89,224.94 L69.26,225.65 L68.57,226.28 L67.84,226.83 L67.05,227.30 L66.22,227.70 L65.34,228.00 L64.42,228.22 L63.43,228.36 L62.30,228.40 L61.17,228.36 L60.18,228.22 L59.26,228.00 L58.38,227.70 L57.55,227.30 L56.76,226.83 L56.03,226.28 L55.34,225.65 L54.71,224.94 L54.14,224.16 L53.62,223.32 L53.17,222.42 L52.79,221.45 L52.47,220.43 L52.22,219.35 L52.04,218.21 L51.94,216.99 L51.90,215.60 L51.97,214.21 L52.15,212.99 L52.44,211.85 L52.82,210.77 L53.29,209.75 L53.82,208.78 L54.41,207.88 L55.05,207.04 L55.72,206.26 L56.41,205.55 L57.12,204.92 L57.83,204.37 L58.54,203.90 L59.25,203.50 L59.97,203.20 L60.70,202.98 L61.45,202.84 L62.30,202.80 L63.15,202.84 L63.90,202.98 L64.63,203.20 L65.35,203.50 L66.06,203.90 L66.77,204.37 L67.48,204.92 L68.19,205.55 L68.88,206.26 L69.55,207.04 L70.19,207.88 L70.78,208.78 L71.31,209.75 L71.78,210.77 L72.16,211.85 L72.45,212.99 L72.63,214.21Z" fill="#cccccc"/>
<path d="M72.70,215.60 L72.66,216.99 L72.56,218.21 L72.38,219.35 L72.13,220.43 L71.81,221.45 L71.43,222.42 L70.98,223.32 L70.46,224.16 L69.89,224.94 L69.26,225.65 L68.57,226.28 L67.84,226.83 L67.05,227.30 L66.22,227.70 L65.34,228.00 L64.42,228.22 L63.43,228.36 L62.30,228.40 L61.17,228.36 L60.18,228.22 L59.26,228.00 L58.38,227.70 L57.55,227.30 L56.76,226.83 L56.03,226.28 L55.34,225.65 L54.71,224.94 L54.14,224.16 L53.62,223.32 L53.17,222.42 L52.79,221.45 L52.47,220.43 L52.22,219.35 L52.04,218.21 L51.94,216.99 L51.90,215.60 L51.97,214.21 L52.15,212.99 L52.44,211.85 L52.82,210.77 L53.29,209.75 L53.82,208.78 L54.41,207.88 L55.05,207.04 L55.72,206.26 L56.41,205.55 L57.12,204.92 L57.83,204.37 L58.54,203.90 L59.25,203.50 L59.97,203.20 L60.70,202.98 L61.45,202.84 L62.30,202.80 L63.15,202.84 L63.90,202.98 L64.63,203.20 L65.35,203.50 L66.06,203.90 L66.77,204.37 L67.48,204.92 L68.19,205.55 L68.88,206.26 L69.55,207.04 L70.19,207.88 L70.78,208.78 L71.31,209.75 L71.78,210.77 L72.16,211.85 L72.45,212.99 L72.63,214.21Z" fill="none" stroke="#555" stroke-width="0.6"/>
<path d="M71.86,215.41 L71.83,216.70 L71.73,217.82 L71.56,218.88 L71.33,219.88 L71.04,220.82 L70.68,221.72 L70.26,222.56 L69.79,223.34 L69.26,224.05 L68.68,224.70 L68.04,225.29 L67.36,225.80 L66.64,226.24 L65.87,226.60 L65.06,226.89 L64.20,227.09 L63.29,227.21 L62.24,227.25 L61.19,227.21 L60.28,227.09 L59.42,226.89 L58.61,226.60 L57.84,226.24 L57.12,225.80 L56.44,225.29 L55.80,224.70 L55.22,224.05 L54.69,223.34 L54.22,222.56 L53.80,221.72 L53.44,220.82 L53.15,219.88 L52.92,218.88 L52.75,217.82 L52.65,216.70 L52.62,215.41 L52.68,214.12 L52.85,213.00 L53.12,211.95 L53.47,210.95 L53.90,210.00 L54.40,209.11 L54.95,208.27 L55.54,207.49 L56.15,206.77 L56.79,206.12 L57.45,205.54 L58.10,205.02 L58.76,204.59 L59.42,204.22 L60.09,203.94 L60.76,203.74 L61.45,203.61 L62.24,203.57 L63.03,203.61 L63.72,203.74 L64.39,203.94 L65.06,204.22 L65.72,204.59 L66.38,205.02 L67.03,205.54 L67.69,206.12 L68.33,206.77 L68.94,207.49 L69.53,208.27 L70.08,209.11 L70.58,210.00 L71.01,210.95 L71.36,211.95 L71.63,213.00 L71.80,214.12Z" fill="none" stroke="#707070" stroke-width="0.6"/>
<path d="M71.02,215.22 L70.99,216.41 L70.90,217.44 L70.75,218.41 L70.53,219.33 L70.26,220.20 L69.94,221.02 L69.55,221.79 L69.12,222.51 L68.63,223.16 L68.10,223.76 L67.51,224.30 L66.89,224.77 L66.22,225.17 L65.51,225.51 L64.77,225.77 L63.98,225.95 L63.14,226.07 L62.18,226.10 L61.22,226.07 L60.38,225.95 L59.59,225.77 L58.85,225.51 L58.14,225.17 L57.47,224.77 L56.85,224.30 L56.26,223.76 L55.73,223.16 L55.24,222.51 L54.81,221.79 L54.42,221.02 L54.10,220.20 L53.83,219.33 L53.61,218.41 L53.46,217.44 L53.37,216.41 L53.34,215.23 L53.40,214.04 L53.55,213.01 L53.80,212.04 L54.12,211.12 L54.52,210.25 L54.97,209.43 L55.48,208.66 L56.02,207.94 L56.59,207.29 L57.18,206.69 L57.77,206.15 L58.38,205.68 L58.98,205.28 L59.59,204.94 L60.20,204.68 L60.82,204.50 L61.46,204.38 L62.18,204.34 L62.90,204.38 L63.54,204.50 L64.16,204.68 L64.77,204.94 L65.38,205.28 L65.98,205.68 L66.59,206.15 L67.18,206.69 L67.77,207.29 L68.34,207.94 L68.88,208.66 L69.39,209.43 L69.84,210.25 L70.24,211.12 L70.56,212.04 L70.81,213.01 L70.96,214.04Z" fill="none" stroke="#777" stroke-width="0.6"/>
<path d="M70.18,215.04 L70.15,216.12 L70.07,217.06 L69.93,217.94 L69.74,218.78 L69.49,219.57 L69.19,220.32 L68.84,221.02 L68.45,221.68 L68.00,222.28 L67.51,222.82 L66.98,223.31 L66.41,223.74 L65.80,224.11 L65.16,224.41 L64.48,224.65 L63.76,224.82 L63.00,224.92 L62.12,224.96 L61.24,224.92 L60.48,224.82 L59.76,224.65 L59.08,224.41 L58.44,224.11 L57.83,223.74 L57.26,223.31 L56.73,222.82 L56.24,222.28 L55.79,221.68 L55.40,221.02 L55.05,220.32 L54.75,219.57 L54.50,218.78 L54.31,217.94 L54.17,217.06 L54.09,216.12 L54.06,215.04 L54.11,213.96 L54.25,213.02 L54.48,212.13 L54.77,211.30 L55.13,210.50 L55.55,209.75 L56.01,209.05 L56.50,208.40 L57.02,207.80 L57.56,207.25 L58.10,206.76 L58.65,206.33 L59.21,205.97 L59.76,205.66 L60.31,205.43 L60.88,205.25 L61.46,205.15 L62.12,205.12 L62.78,205.15 L63.36,205.25 L63.93,205.43 L64.48,205.66 L65.03,205.97 L65.59,206.33 L66.14,206.76 L66.68,207.25 L67.22,207.80 L67.74,208.40 L68.23,209.05 L68.69,209.75 L69.11,210.50 L69.47,211.30 L69.76,212.13 L69.99,213.02 L70.13,213.96Z" fill="none" stroke="#8a8a8a" stroke-width="0.6"/>
<path d="M69.34,214.85 L69.31,215.82 L69.24,216.67 L69.11,217.47 L68.94,218.23 L68.72,218.95 L68.45,219.62 L68.13,220.26 L67.77,220.85 L67.37,221.39 L66.93,221.88 L66.45,222.32 L65.94,222.71 L65.39,223.04 L64.80,223.32 L64.19,223.53 L63.54,223.69 L62.85,223.78 L62.06,223.81 L61.27,223.78 L60.58,223.69 L59.93,223.53 L59.32,223.32 L58.73,223.04 L58.18,222.71 L57.67,222.32 L57.19,221.88 L56.75,221.39 L56.35,220.85 L55.99,220.26 L55.67,219.62 L55.40,218.95 L55.18,218.23 L55.01,217.47 L54.88,216.67 L54.81,215.82 L54.78,214.85 L54.83,213.88 L54.96,213.03 L55.16,212.23 L55.42,211.47 L55.75,210.75 L56.13,210.08 L56.54,209.44 L56.99,208.85 L57.45,208.31 L57.94,207.82 L58.43,207.38 L58.93,206.99 L59.43,206.66 L59.93,206.38 L60.43,206.17 L60.94,206.01 L61.46,205.92 L62.06,205.89 L62.66,205.92 L63.18,206.01 L63.69,206.17 L64.19,206.38 L64.69,206.66 L65.19,206.99 L65.69,207.38 L66.18,207.82 L66.67,208.31 L67.13,208.85 L67.58,209.44 L67.99,210.08 L68.37,210.75 L68.70,211.47 L68.96,212.23 L69.16,213.03 L69.29,213.88Z" fill="none" stroke="#7a7a7a" stroke-width="0.6"/>
<path d="M68.50,214.66 L68.48,215.53 L68.41,216.29 L68.30,217.00 L68.14,217.68 L67.94,218.32 L67.70,218.92 L67.42,219.49 L67.10,220.02 L66.74,220.50 L66.35,220.94 L65.92,221.34 L65.46,221.68 L64.97,221.98 L64.45,222.22 L63.90,222.41 L63.32,222.55 L62.71,222.63 L62.00,222.66 L61.29,222.63 L60.68,222.55 L60.10,222.41 L59.55,222.22 L59.03,221.98 L58.54,221.68 L58.08,221.34 L57.65,220.94 L57.26,220.50 L56.90,220.02 L56.58,219.49 L56.30,218.92 L56.06,218.32 L55.86,217.68 L55.70,217.00 L55.59,216.29 L55.52,215.53 L55.50,214.66 L55.54,213.79 L55.66,213.03 L55.84,212.32 L56.08,211.65 L56.37,211.01 L56.70,210.40 L57.07,209.84 L57.47,209.31 L57.89,208.82 L58.32,208.38 L58.76,207.99 L59.20,207.64 L59.65,207.35 L60.10,207.10 L60.54,206.91 L61.00,206.77 L61.47,206.69 L62.00,206.66 L62.53,206.69 L63.00,206.77 L63.46,206.91 L63.90,207.10 L64.35,207.35 L64.80,207.64 L65.24,207.99 L65.68,208.38 L66.11,208.82 L66.53,209.31 L66.93,209.84 L67.30,210.40 L67.63,211.01 L67.92,211.65 L68.16,212.32 L68.34,213.03 L68.46,213.79Z" fill="none" stroke="#909090" stroke-width="0.6"/>
<path d="M67.66,214.47 L67.64,215.24 L67.58,215.91 L67.48,216.54 L67.35,217.13 L67.17,217.69 L66.96,218.22 L66.71,218.72 L66.43,219.19 L66.11,219.61 L65.77,220.00 L65.39,220.35 L64.99,220.65 L64.55,220.91 L64.10,221.13 L63.61,221.30 L63.10,221.42 L62.56,221.49 L61.94,221.51 L61.32,221.49 L60.78,221.42 L60.27,221.30 L59.78,221.13 L59.33,220.91 L58.89,220.65 L58.49,220.35 L58.11,220.00 L57.77,219.61 L57.45,219.19 L57.17,218.72 L56.92,218.22 L56.71,217.69 L56.53,217.13 L56.40,216.54 L56.30,215.91 L56.24,215.24 L56.22,214.48 L56.26,213.71 L56.36,213.04 L56.52,212.41 L56.73,211.82 L56.98,211.26 L57.28,210.73 L57.60,210.23 L57.95,209.76 L58.32,209.34 L58.70,208.95 L59.09,208.60 L59.48,208.30 L59.87,208.04 L60.26,207.82 L60.66,207.65 L61.06,207.53 L61.47,207.46 L61.94,207.44 L62.41,207.46 L62.82,207.53 L63.22,207.65 L63.62,207.82 L64.01,208.04 L64.40,208.30 L64.79,208.60 L65.18,208.95 L65.56,209.34 L65.93,209.76 L66.28,210.23 L66.60,210.73 L66.90,211.26 L67.15,211.82 L67.36,212.41 L67.52,213.04 L67.62,213.71Z" fill="none" stroke="#808080" stroke-width="0.6"/>
<path d="M66.82,214.29 L66.80,214.95 L66.75,215.53 L66.67,216.07 L66.55,216.58 L66.40,217.07 L66.21,217.53 L66.00,217.96 L65.76,218.36 L65.48,218.72 L65.19,219.06 L64.86,219.36 L64.51,219.62 L64.14,219.85 L63.74,220.03 L63.33,220.18 L62.89,220.28 L62.42,220.35 L61.88,220.37 L61.34,220.35 L60.87,220.28 L60.43,220.18 L60.02,220.03 L59.62,219.85 L59.25,219.62 L58.90,219.36 L58.57,219.06 L58.28,218.72 L58.00,218.36 L57.76,217.96 L57.55,217.53 L57.36,217.07 L57.21,216.58 L57.09,216.07 L57.01,215.53 L56.96,214.95 L56.94,214.29 L56.97,213.63 L57.06,213.05 L57.20,212.51 L57.38,211.99 L57.60,211.51 L57.85,211.05 L58.13,210.62 L58.44,210.22 L58.76,209.85 L59.08,209.52 L59.42,209.22 L59.76,208.95 L60.09,208.73 L60.43,208.54 L60.77,208.40 L61.12,208.29 L61.48,208.23 L61.88,208.21 L62.28,208.23 L62.64,208.29 L62.99,208.40 L63.33,208.54 L63.67,208.73 L64.00,208.95 L64.34,209.22 L64.68,209.52 L65.00,209.85 L65.32,210.22 L65.63,210.62 L65.91,211.05 L66.16,211.51 L66.38,211.99 L66.56,212.51 L66.70,213.05 L66.79,213.63Z" fill="none" stroke="#999" stroke-width="0.6"/>
<path d="M65.98,214.10 L65.97,214.66 L65.92,215.14 L65.85,215.60 L65.75,216.03 L65.62,216.44 L65.47,216.83 L65.29,217.19 L65.08,217.53 L64.86,217.84 L64.60,218.12 L64.33,218.37 L64.04,218.59 L63.72,218.78 L63.39,218.94 L63.04,219.06 L62.67,219.15 L62.27,219.20 L61.82,219.22 L61.37,219.20 L60.97,219.15 L60.60,219.06 L60.25,218.94 L59.92,218.78 L59.60,218.59 L59.31,218.37 L59.04,218.12 L58.78,217.84 L58.56,217.53 L58.35,217.19 L58.17,216.83 L58.02,216.44 L57.89,216.03 L57.79,215.60 L57.72,215.14 L57.67,214.66 L57.66,214.10 L57.69,213.54 L57.76,213.06 L57.88,212.60 L58.03,212.17 L58.21,211.76 L58.43,211.37 L58.67,211.01 L58.92,210.67 L59.19,210.36 L59.47,210.08 L59.75,209.83 L60.03,209.61 L60.32,209.42 L60.60,209.26 L60.89,209.14 L61.18,209.05 L61.48,209.00 L61.82,208.98 L62.16,209.00 L62.46,209.05 L62.75,209.14 L63.04,209.26 L63.32,209.42 L63.61,209.61 L63.89,209.83 L64.17,210.08 L64.45,210.36 L64.72,210.67 L64.97,211.01 L65.21,211.37 L65.43,211.76 L65.61,212.17 L65.76,212.60 L65.88,213.06 L65.95,213.54Z" fill="none" stroke="#888" stroke-width="0.6"/>
<path d="M65.14,213.91 L65.13,214.37 L65.09,214.76 L65.04,215.13 L64.95,215.48 L64.85,215.81 L64.73,216.13 L64.58,216.42 L64.41,216.70 L64.23,216.95 L64.02,217.18 L63.80,217.38 L63.56,217.56 L63.30,217.72 L63.03,217.84 L62.75,217.94 L62.45,218.02 L62.13,218.06 L61.76,218.07 L61.39,218.06 L61.07,218.02 L60.77,217.94 L60.49,217.84 L60.22,217.72 L59.96,217.56 L59.72,217.38 L59.50,217.18 L59.29,216.95 L59.11,216.70 L58.94,216.42 L58.79,216.13 L58.67,215.81 L58.57,215.48 L58.48,215.13 L58.43,214.76 L58.39,214.37 L58.38,213.91 L58.40,213.46 L58.46,213.07 L58.55,212.70 L58.68,212.34 L58.83,212.01 L59.00,211.70 L59.20,211.40 L59.40,211.13 L59.62,210.88 L59.85,210.65 L60.08,210.44 L60.31,210.26 L60.54,210.11 L60.77,209.98 L61.00,209.88 L61.24,209.81 L61.48,209.77 L61.76,209.75 L62.04,209.77 L62.28,209.81 L62.52,209.88 L62.75,209.98 L62.98,210.11 L63.21,210.26 L63.44,210.44 L63.67,210.65 L63.90,210.88 L64.12,211.13 L64.32,211.40 L64.52,211.70 L64.69,212.01 L64.84,212.34 L64.97,212.70 L65.06,213.07 L65.12,213.46Z" fill="none" stroke="#a0a0a0" stroke-width="0.6"/>
<path d="M64.30,213.72 L64.29,214.07 L64.26,214.38 L64.22,214.66 L64.16,214.93 L64.08,215.19 L63.98,215.43 L63.87,215.66 L63.74,215.87 L63.60,216.06 L63.44,216.24 L63.27,216.39 L63.08,216.53 L62.89,216.65 L62.68,216.75 L62.46,216.83 L62.23,216.88 L61.98,216.91 L61.70,216.92 L61.42,216.91 L61.17,216.88 L60.94,216.83 L60.72,216.75 L60.51,216.65 L60.32,216.53 L60.13,216.39 L59.96,216.24 L59.80,216.06 L59.66,215.87 L59.53,215.66 L59.42,215.43 L59.32,215.19 L59.24,214.93 L59.18,214.66 L59.14,214.38 L59.11,214.07 L59.10,213.72 L59.12,213.38 L59.16,213.07 L59.23,212.79 L59.33,212.52 L59.45,212.26 L59.58,212.02 L59.73,211.79 L59.89,211.58 L60.06,211.39 L60.23,211.21 L60.40,211.06 L60.58,210.92 L60.76,210.80 L60.94,210.70 L61.12,210.62 L61.30,210.57 L61.49,210.54 L61.70,210.53 L61.91,210.54 L62.10,210.57 L62.28,210.62 L62.46,210.70 L62.64,210.80 L62.82,210.92 L63.00,211.06 L63.17,211.21 L63.34,211.39 L63.51,211.58 L63.67,211.79 L63.82,212.02 L63.95,212.26 L64.07,212.52 L64.17,212.79 L64.24,213.07 L64.28,213.38Z" fill="none" stroke="#999" stroke-width="0.6"/>
<path d="M63.46,213.54 L63.45,213.78 L63.43,213.99 L63.40,214.19 L63.36,214.38 L63.30,214.56 L63.24,214.73 L63.16,214.89 L63.07,215.04 L62.97,215.17 L62.86,215.30 L62.74,215.41 L62.61,215.50 L62.47,215.59 L62.33,215.65 L62.17,215.71 L62.01,215.75 L61.84,215.77 L61.64,215.78 L61.44,215.77 L61.27,215.75 L61.11,215.71 L60.95,215.65 L60.81,215.59 L60.67,215.50 L60.54,215.41 L60.42,215.30 L60.31,215.17 L60.21,215.04 L60.12,214.89 L60.04,214.73 L59.98,214.56 L59.92,214.38 L59.88,214.19 L59.85,213.99 L59.83,213.78 L59.82,213.54 L59.83,213.29 L59.86,213.08 L59.91,212.88 L59.98,212.69 L60.06,212.51 L60.16,212.34 L60.26,212.19 L60.37,212.04 L60.49,211.90 L60.61,211.78 L60.73,211.67 L60.86,211.57 L60.98,211.49 L61.11,211.42 L61.23,211.37 L61.36,211.33 L61.49,211.31 L61.64,211.30 L61.79,211.31 L61.92,211.33 L62.05,211.37 L62.17,211.42 L62.30,211.49 L62.42,211.57 L62.55,211.67 L62.67,211.78 L62.79,211.90 L62.91,212.04 L63.02,212.19 L63.12,212.34 L63.22,212.51 L63.30,212.69 L63.37,212.88 L63.42,213.08 L63.45,213.29Z" fill="none" stroke="#b0b0b0" stroke-width="0.6"/>
<path d="M62.62,213.35 L62.62,213.49 L62.61,213.61 L62.59,213.72 L62.56,213.83 L62.53,213.94 L62.49,214.03 L62.45,214.12 L62.40,214.21 L62.34,214.28 L62.28,214.35 L62.21,214.42 L62.13,214.47 L62.06,214.52 L61.97,214.56 L61.88,214.59 L61.79,214.61 L61.69,214.63 L61.58,214.63 L61.47,214.63 L61.37,214.61 L61.28,214.59 L61.19,214.56 L61.10,214.52 L61.03,214.47 L60.95,214.42 L60.88,214.35 L60.82,214.28 L60.76,214.21 L60.71,214.12 L60.67,214.03 L60.63,213.94 L60.60,213.83 L60.57,213.72 L60.55,213.61 L60.54,213.49 L60.54,213.35 L60.55,213.21 L60.57,213.09 L60.59,212.98 L60.63,212.87 L60.68,212.76 L60.73,212.67 L60.79,212.58 L60.86,212.49 L60.92,212.42 L60.99,212.35 L61.06,212.28 L61.13,212.23 L61.20,212.18 L61.28,212.14 L61.35,212.11 L61.42,212.09 L61.49,212.07 L61.58,212.07 L61.67,212.07 L61.74,212.09 L61.81,212.11 L61.88,212.14 L61.96,212.18 L62.03,212.23 L62.10,212.28 L62.17,212.35 L62.24,212.42 L62.30,212.49 L62.37,212.58 L62.43,212.67 L62.48,212.76 L62.53,212.87 L62.57,212.98 L62.59,213.09 L62.61,213.21Z" fill="none" stroke="#aaa" stroke-width="0.6"/>
<ellipse cx="61.50" cy="213.10" rx="0.7" ry="0.7" fill="#fff" opacity="0.9"/>
</g>
<path d="M74.5,207.20000000000002 C79.9,207.20000000000002 85.3,209.04000000000002 85.3,211.8 C85.3,214.56 79.9,216.4 74.5,216.4" fill="none" stroke="#777" stroke-width="0.5"/>
<path d="M74.5,208.9 C77.5,208.9 80.5,209.94 80.5,211.5 C80.5,213.06 77.5,214.1 74.5,214.1" fill="none" stroke="#777" stroke-width="0.5"/>
<line x1="75.20" y1="150.30" x2="75.20" y2="233.30" stroke="#4a4a4a" stroke-width="1.1"/>
<line x1="45.40" y1="198.60" x2="128.70" y2="198.60" stroke="#4a4a4a" stroke-width="1.1"/>
<text x="59.20" y="163.60" font-size="10" font-weight="bold" text-anchor="start" fill="#111" stroke="#111" stroke-width="0.12" >5</text>
<text x="110.20" y="164.00" font-size="10" font-weight="bold" text-anchor="start" fill="#111" stroke="#111" stroke-width="0.12" >1.6</text>
<text x="109.60" y="220.70" font-size="10" font-weight="bold" text-anchor="start" fill="#111" stroke="#111" stroke-width="0.12" >5.6</text>
<rect x="62.55" y="180.45" width="1.3" height="1.3" fill="#222"/>
<rect x="72.65" y="182.85" width="1.3" height="1.3" fill="#222"/>
<rect x="78.85" y="188.65" width="1.3" height="1.3" fill="#222"/>
<rect x="71.65" y="190.05" width="1.3" height="1.3" fill="#222"/>
<rect x="90.15" y="192.25" width="1.3" height="1.3" fill="#222"/>
<rect x="85.35" y="194.15" width="1.3" height="1.3" fill="#222"/>
<rect x="77.65" y="196.05" width="1.3" height="1.3" fill="#222"/>
<rect x="71.65" y="198.95" width="1.3" height="1.3" fill="#222"/>
<rect x="74.55" y="204.45" width="1.3" height="1.3" fill="#222"/>
<rect x="87.75" y="208.55" width="1.3" height="1.3" fill="#222"/>
<rect x="90.15" y="209.75" width="1.3" height="1.3" fill="#222"/>
<rect x="84.55" y="213.35" width="1.3" height="1.3" fill="#222"/>
<rect x="87.25" y="216.15" width="1.3" height="1.3" fill="#222"/>
<rect x="144.9" y="150.6" width="83.9" height="82.30000000000001" fill="none" stroke="#8f8f8f" stroke-width="1.0"/>
<text x="142.30" y="159.73" font-size="4.3" text-anchor="end" fill="#8c8c8c">10<tspan dy="-1.7" font-size="3.2">5</tspan></text>
<line x1="143.10" y1="157.43" x2="144.90" y2="157.43" stroke="#555" stroke-width="0.8"/>
<text x="142.30" y="176.44" font-size="4.3" text-anchor="end" fill="#8c8c8c">10<tspan dy="-1.7" font-size="3.2">4</tspan></text>
<line x1="143.10" y1="174.14" x2="144.90" y2="174.14" stroke="#555" stroke-width="0.8"/>
<text x="142.30" y="194.54" font-size="4.3" text-anchor="end" fill="#8c8c8c">10<tspan dy="-1.7" font-size="3.2">3</tspan></text>
<line x1="143.10" y1="192.24" x2="144.90" y2="192.24" stroke="#555" stroke-width="0.8"/>
<text x="139.30" y="223.18" font-size="4.3" text-anchor="end" fill="#8c8c8c">0</text>
<line x1="143.10" y1="220.88" x2="144.90" y2="220.88" stroke="#555" stroke-width="0.8"/>
<line x1="143.90" y1="152.60" x2="144.90" y2="152.60" stroke="#999" stroke-width="0.45"/>
<line x1="143.90" y1="155.30" x2="144.90" y2="155.30" stroke="#999" stroke-width="0.45"/>
<line x1="143.90" y1="158.00" x2="144.90" y2="158.00" stroke="#999" stroke-width="0.45"/>
<line x1="143.90" y1="160.70" x2="144.90" y2="160.70" stroke="#999" stroke-width="0.45"/>
<line x1="143.90" y1="163.40" x2="144.90" y2="163.40" stroke="#999" stroke-width="0.45"/>
<line x1="143.90" y1="166.10" x2="144.90" y2="166.10" stroke="#999" stroke-width="0.45"/>
<line x1="143.90" y1="168.80" x2="144.90" y2="168.80" stroke="#999" stroke-width="0.45"/>
<line x1="143.90" y1="171.50" x2="144.90" y2="171.50" stroke="#999" stroke-width="0.45"/>
<line x1="143.90" y1="174.20" x2="144.90" y2="174.20" stroke="#999" stroke-width="0.45"/>
<line x1="143.90" y1="176.90" x2="144.90" y2="176.90" stroke="#999" stroke-width="0.45"/>
<line x1="143.90" y1="179.60" x2="144.90" y2="179.60" stroke="#999" stroke-width="0.45"/>
<line x1="143.90" y1="182.30" x2="144.90" y2="182.30" stroke="#999" stroke-width="0.45"/>
<line x1="143.90" y1="185.00" x2="144.90" y2="185.00" stroke="#999" stroke-width="0.45"/>
<line x1="143.90" y1="187.70" x2="144.90" y2="187.70" stroke="#999" stroke-width="0.45"/>
<line x1="143.90" y1="190.40" x2="144.90" y2="190.40" stroke="#999" stroke-width="0.45"/>
<line x1="143.90" y1="193.10" x2="144.90" y2="193.10" stroke="#999" stroke-width="0.45"/>
<line x1="143.90" y1="195.80" x2="144.90" y2="195.80" stroke="#999" stroke-width="0.45"/>
<line x1="143.90" y1="198.50" x2="144.90" y2="198.50" stroke="#999" stroke-width="0.45"/>
<line x1="143.90" y1="201.20" x2="144.90" y2="201.20" stroke="#999" stroke-width="0.45"/>
<line x1="143.90" y1="203.90" x2="144.90" y2="203.90" stroke="#999" stroke-width="0.45"/>
<line x1="143.90" y1="206.60" x2="144.90" y2="206.60" stroke="#999" stroke-width="0.45"/>
<line x1="143.90" y1="209.30" x2="144.90" y2="209.30" stroke="#999" stroke-width="0.45"/>
<line x1="143.90" y1="212.00" x2="144.90" y2="212.00" stroke="#999" stroke-width="0.45"/>
<line x1="143.90" y1="214.70" x2="144.90" y2="214.70" stroke="#999" stroke-width="0.45"/>
<line x1="143.90" y1="217.40" x2="144.90" y2="217.40" stroke="#999" stroke-width="0.45"/>
<line x1="143.90" y1="220.10" x2="144.90" y2="220.10" stroke="#999" stroke-width="0.45"/>
<line x1="143.90" y1="222.80" x2="144.90" y2="222.80" stroke="#999" stroke-width="0.45"/>
<line x1="143.90" y1="225.50" x2="144.90" y2="225.50" stroke="#999" stroke-width="0.45"/>
<line x1="143.90" y1="228.20" x2="144.90" y2="228.20" stroke="#999" stroke-width="0.45"/>
<line x1="143.90" y1="230.90" x2="144.90" y2="230.90" stroke="#999" stroke-width="0.45"/>
<text x="161.51" y="240.70" font-size="4.4" text-anchor="middle" fill="#8c8c8c">0</text>
<line x1="161.51" y1="232.90" x2="161.51" y2="235.10" stroke="#555" stroke-width="0.8"/>
<text x="180.51" y="240.70" font-size="4.4" text-anchor="start" fill="#8c8c8c">10<tspan dy="-1.7" font-size="3.2">3</tspan></text>
<line x1="180.31" y1="232.90" x2="180.31" y2="235.10" stroke="#555" stroke-width="0.8"/>
<text x="201.31" y="240.70" font-size="4.4" text-anchor="start" fill="#8c8c8c">10<tspan dy="-1.7" font-size="3.2">4</tspan></text>
<line x1="201.11" y1="232.90" x2="201.11" y2="235.10" stroke="#555" stroke-width="0.8"/>
<text x="220.44" y="240.70" font-size="4.4" text-anchor="start" fill="#8c8c8c">10<tspan dy="-1.7" font-size="3.2">5</tspan></text>
<line x1="220.24" y1="232.90" x2="220.24" y2="235.10" stroke="#555" stroke-width="0.8"/>
<line x1="146.90" y1="232.90" x2="146.90" y2="233.90" stroke="#999" stroke-width="0.45"/>
<line x1="149.66" y1="232.90" x2="149.66" y2="233.90" stroke="#999" stroke-width="0.45"/>
<line x1="152.41" y1="232.90" x2="152.41" y2="233.90" stroke="#999" stroke-width="0.45"/>
<line x1="155.17" y1="232.90" x2="155.17" y2="233.90" stroke="#999" stroke-width="0.45"/>
<line x1="157.92" y1="232.90" x2="157.92" y2="233.90" stroke="#999" stroke-width="0.45"/>
<line x1="160.68" y1="232.90" x2="160.68" y2="233.90" stroke="#999" stroke-width="0.45"/>
<line x1="163.43" y1="232.90" x2="163.43" y2="233.90" stroke="#999" stroke-width="0.45"/>
<line x1="166.19" y1="232.90" x2="166.19" y2="233.90" stroke="#999" stroke-width="0.45"/>
<line x1="168.94" y1="232.90" x2="168.94" y2="233.90" stroke="#999" stroke-width="0.45"/>
<line x1="171.70" y1="232.90" x2="171.70" y2="233.90" stroke="#999" stroke-width="0.45"/>
<line x1="174.45" y1="232.90" x2="174.45" y2="233.90" stroke="#999" stroke-width="0.45"/>
<line x1="177.21" y1="232.90" x2="177.21" y2="233.90" stroke="#999" stroke-width="0.45"/>
<line x1="179.96" y1="232.90" x2="179.96" y2="233.90" stroke="#999" stroke-width="0.45"/>
<line x1="182.72" y1="232.90" x2="182.72" y2="233.90" stroke="#999" stroke-width="0.45"/>
<line x1="185.47" y1="232.90" x2="185.47" y2="233.90" stroke="#999" stroke-width="0.45"/>
<line x1="188.23" y1="232.90" x2="188.23" y2="233.90" stroke="#999" stroke-width="0.45"/>
<line x1="190.98" y1="232.90" x2="190.98" y2="233.90" stroke="#999" stroke-width="0.45"/>
<line x1="193.74" y1="232.90" x2="193.74" y2="233.90" stroke="#999" stroke-width="0.45"/>
<line x1="196.49" y1="232.90" x2="196.49" y2="233.90" stroke="#999" stroke-width="0.45"/>
<line x1="199.25" y1="232.90" x2="199.25" y2="233.90" stroke="#999" stroke-width="0.45"/>
<line x1="202.00" y1="232.90" x2="202.00" y2="233.90" stroke="#999" stroke-width="0.45"/>
<line x1="204.76" y1="232.90" x2="204.76" y2="233.90" stroke="#999" stroke-width="0.45"/>
<line x1="207.51" y1="232.90" x2="207.51" y2="233.90" stroke="#999" stroke-width="0.45"/>
<line x1="210.27" y1="232.90" x2="210.27" y2="233.90" stroke="#999" stroke-width="0.45"/>
<line x1="213.02" y1="232.90" x2="213.02" y2="233.90" stroke="#999" stroke-width="0.45"/>
<line x1="215.78" y1="232.90" x2="215.78" y2="233.90" stroke="#999" stroke-width="0.45"/>
<line x1="218.53" y1="232.90" x2="218.53" y2="233.90" stroke="#999" stroke-width="0.45"/>
<line x1="221.29" y1="232.90" x2="221.29" y2="233.90" stroke="#999" stroke-width="0.45"/>
<line x1="224.04" y1="232.90" x2="224.04" y2="233.90" stroke="#999" stroke-width="0.45"/>
<line x1="226.80" y1="232.90" x2="226.80" y2="233.90" stroke="#999" stroke-width="0.45"/>
<line x1="143.50" y1="214.79" x2="144.90" y2="214.79" stroke="#333" stroke-width="0.9"/>
<line x1="143.50" y1="216.39" x2="144.90" y2="216.39" stroke="#333" stroke-width="0.9"/>
<line x1="143.50" y1="217.99" x2="144.90" y2="217.99" stroke="#333" stroke-width="0.9"/>
<line x1="142.70" y1="219.59" x2="144.90" y2="219.59" stroke="#333" stroke-width="0.9"/>
<line x1="142.70" y1="221.19" x2="144.90" y2="221.19" stroke="#333" stroke-width="0.9"/>
<line x1="142.70" y1="222.79" x2="144.90" y2="222.79" stroke="#333" stroke-width="0.9"/>
<line x1="143.50" y1="224.39" x2="144.90" y2="224.39" stroke="#333" stroke-width="0.9"/>
<line x1="143.50" y1="225.99" x2="144.90" y2="225.99" stroke="#333" stroke-width="0.9"/>
<line x1="143.50" y1="227.59" x2="144.90" y2="227.59" stroke="#333" stroke-width="0.9"/>
<rect x="156.39" y="232.90" width="6.80" height="1.5" fill="#222"/>
<g filter="url(#soft)">
<path d="M172.80,182.80 L172.75,184.15 L172.61,185.50 L172.37,186.82 L172.05,188.11 L171.65,189.37 L171.18,190.57 L170.67,191.71 L170.11,192.79 L169.52,193.79 L168.92,194.70 L168.31,195.53 L167.69,196.26 L167.09,196.88 L166.49,197.40 L165.91,197.81 L165.33,198.10 L164.76,198.28 L164.20,198.34 L163.64,198.28 L163.07,198.10 L162.49,197.81 L161.91,197.40 L161.31,196.88 L160.71,196.26 L160.09,195.53 L159.48,194.70 L158.88,193.79 L158.29,192.79 L157.73,191.71 L157.22,190.57 L156.75,189.37 L156.35,188.11 L156.03,186.82 L155.79,185.50 L155.65,184.15 L155.60,182.80 L155.63,181.57 L155.73,180.36 L155.89,179.16 L156.12,177.99 L156.41,176.86 L156.75,175.77 L157.16,174.74 L157.61,173.76 L158.12,172.86 L158.67,172.03 L159.27,171.28 L159.90,170.62 L160.57,170.06 L161.26,169.59 L161.97,169.22 L162.71,168.95 L163.45,168.79 L164.20,168.74 L164.95,168.79 L165.69,168.95 L166.43,169.22 L167.14,169.59 L167.83,170.06 L168.50,170.62 L169.13,171.28 L169.73,172.03 L170.28,172.86 L170.79,173.76 L171.24,174.74 L171.65,175.77 L171.99,176.86 L172.28,177.99 L172.51,179.16 L172.67,180.36 L172.77,181.57Z" fill="#f8f8f8"/>
<path d="M172.80,182.80 L172.75,184.15 L172.61,185.50 L172.37,186.82 L172.05,188.11 L171.65,189.37 L171.18,190.57 L170.67,191.71 L170.11,192.79 L169.52,193.79 L168.92,194.70 L168.31,195.53 L167.69,196.26 L167.09,196.88 L166.49,197.40 L165.91,197.81 L165.33,198.10 L164.76,198.28 L164.20,198.34 L163.64,198.28 L163.07,198.10 L162.49,197.81 L161.91,197.40 L161.31,196.88 L160.71,196.26 L160.09,195.53 L159.48,194.70 L158.88,193.79 L158.29,192.79 L157.73,191.71 L157.22,190.57 L156.75,189.37 L156.35,188.11 L156.03,186.82 L155.79,185.50 L155.65,184.15 L155.60,182.80 L155.63,181.57 L155.73,180.36 L155.89,179.16 L156.12,177.99 L156.41,176.86 L156.75,175.77 L157.16,174.74 L157.61,173.76 L158.12,172.86 L158.67,172.03 L159.27,171.28 L159.90,170.62 L160.57,170.06 L161.26,169.59 L161.97,169.22 L162.71,168.95 L163.45,168.79 L164.20,168.74 L164.95,168.79 L165.69,168.95 L166.43,169.22 L167.14,169.59 L167.83,170.06 L168.50,170.62 L169.13,171.28 L169.73,172.03 L170.28,172.86 L170.79,173.76 L171.24,174.74 L171.65,175.77 L171.99,176.86 L172.28,177.99 L172.51,179.16 L172.67,180.36 L172.77,181.57Z" fill="none" stroke="#a0a0a0" stroke-width="0.55"/>
<path d="M171.53,182.74 L171.49,183.92 L171.36,185.10 L171.15,186.25 L170.87,187.38 L170.52,188.48 L170.12,189.53 L169.66,190.53 L169.18,191.47 L168.66,192.34 L168.14,193.14 L167.60,193.87 L167.07,194.50 L166.54,195.05 L166.02,195.50 L165.50,195.86 L165.00,196.12 L164.50,196.27 L164.01,196.32 L163.52,196.27 L163.02,196.12 L162.52,195.86 L162.01,195.50 L161.49,195.05 L160.96,194.50 L160.42,193.87 L159.89,193.14 L159.36,192.34 L158.85,191.47 L158.36,190.53 L157.91,189.53 L157.50,188.48 L157.15,187.38 L156.87,186.25 L156.66,185.10 L156.54,183.92 L156.49,182.74 L156.52,181.67 L156.61,180.60 L156.75,179.56 L156.95,178.53 L157.20,177.54 L157.50,176.59 L157.85,175.69 L158.25,174.84 L158.69,174.05 L159.18,173.32 L159.70,172.67 L160.25,172.09 L160.83,171.60 L161.44,171.19 L162.07,170.86 L162.71,170.63 L163.36,170.49 L164.01,170.44 L164.67,170.49 L165.32,170.63 L165.96,170.86 L166.58,171.19 L167.19,171.60 L167.77,172.09 L168.32,172.67 L168.84,173.32 L169.33,174.05 L169.77,174.84 L170.17,175.69 L170.52,176.59 L170.83,177.54 L171.08,178.53 L171.27,179.56 L171.42,180.60 L171.50,181.67Z" fill="none" stroke="#999" stroke-width="0.55"/>
<path d="M170.26,182.67 L170.22,183.69 L170.11,184.69 L169.94,185.69 L169.70,186.65 L169.40,187.59 L169.05,188.49 L168.66,189.35 L168.25,190.15 L167.81,190.90 L167.35,191.59 L166.90,192.20 L166.44,192.75 L165.98,193.22 L165.54,193.61 L165.10,193.91 L164.67,194.13 L164.24,194.26 L163.82,194.31 L163.40,194.26 L162.98,194.13 L162.55,193.91 L162.11,193.61 L161.66,193.22 L161.21,192.75 L160.75,192.20 L160.29,191.59 L159.84,190.90 L159.40,190.15 L158.98,189.35 L158.60,188.49 L158.25,187.59 L157.95,186.65 L157.71,185.69 L157.53,184.69 L157.42,183.69 L157.39,182.67 L157.41,181.76 L157.48,180.85 L157.60,179.95 L157.77,179.07 L157.99,178.23 L158.25,177.41 L158.55,176.64 L158.89,175.91 L159.27,175.23 L159.68,174.61 L160.13,174.05 L160.60,173.56 L161.10,173.14 L161.62,172.78 L162.16,172.51 L162.70,172.31 L163.26,172.19 L163.82,172.15 L164.38,172.19 L164.94,172.31 L165.49,172.51 L166.02,172.78 L166.54,173.14 L167.04,173.56 L167.52,174.05 L167.96,174.61 L168.38,175.23 L168.75,175.91 L169.10,176.64 L169.40,177.41 L169.66,178.23 L169.87,179.07 L170.04,179.95 L170.16,180.85 L170.24,181.76Z" fill="none" stroke="#8e8e8e" stroke-width="0.55"/>
<path d="M168.99,182.61 L168.96,183.46 L168.87,184.29 L168.72,185.12 L168.52,185.92 L168.27,186.70 L167.98,187.45 L167.66,188.16 L167.31,188.83 L166.95,189.46 L166.57,190.03 L166.19,190.54 L165.81,190.99 L165.43,191.38 L165.06,191.71 L164.70,191.96 L164.34,192.14 L163.99,192.25 L163.63,192.29 L163.28,192.25 L162.93,192.14 L162.57,191.96 L162.21,191.71 L161.84,191.38 L161.46,190.99 L161.08,190.54 L160.70,190.03 L160.32,189.46 L159.95,188.83 L159.61,188.16 L159.29,187.45 L159.00,186.70 L158.75,185.92 L158.55,185.12 L158.40,184.29 L158.31,183.46 L158.28,182.61 L158.30,181.85 L158.36,181.09 L158.46,180.34 L158.60,179.62 L158.78,178.91 L159.00,178.23 L159.25,177.59 L159.53,176.98 L159.85,176.42 L160.19,175.90 L160.56,175.44 L160.96,175.03 L161.37,174.67 L161.80,174.38 L162.25,174.15 L162.70,173.99 L163.17,173.89 L163.63,173.85 L164.10,173.89 L164.56,173.99 L165.02,174.15 L165.47,174.38 L165.90,174.67 L166.31,175.03 L166.71,175.44 L167.08,175.90 L167.42,176.42 L167.74,176.98 L168.02,177.59 L168.27,178.23 L168.49,178.91 L168.67,179.62 L168.81,180.34 L168.91,181.09 L168.97,181.85Z" fill="none" stroke="#999" stroke-width="0.55"/>
<path d="M167.72,182.55 L167.70,183.22 L167.62,183.89 L167.51,184.55 L167.35,185.19 L167.15,185.81 L166.92,186.41 L166.66,186.98 L166.38,187.51 L166.09,188.01 L165.79,188.47 L165.49,188.88 L165.18,189.24 L164.88,189.55 L164.59,189.81 L164.29,190.01 L164.01,190.16 L163.73,190.24 L163.45,190.27 L163.17,190.24 L162.88,190.16 L162.60,190.01 L162.31,189.81 L162.01,189.55 L161.71,189.24 L161.40,188.88 L161.10,188.47 L160.80,188.01 L160.51,187.51 L160.23,186.98 L159.97,186.41 L159.74,185.81 L159.55,185.19 L159.39,184.55 L159.27,183.89 L159.19,183.22 L159.17,182.55 L159.19,181.94 L159.24,181.33 L159.32,180.74 L159.43,180.16 L159.57,179.59 L159.74,179.05 L159.94,178.54 L160.17,178.06 L160.42,177.61 L160.70,177.19 L160.99,176.82 L161.31,176.50 L161.64,176.21 L161.98,175.98 L162.34,175.80 L162.70,175.66 L163.07,175.59 L163.45,175.56 L163.82,175.59 L164.19,175.66 L164.55,175.80 L164.91,175.98 L165.25,176.21 L165.58,176.50 L165.90,176.82 L166.19,177.19 L166.47,177.61 L166.72,178.06 L166.95,178.54 L167.15,179.05 L167.32,179.59 L167.46,180.16 L167.58,180.74 L167.66,181.33 L167.70,181.94Z" fill="none" stroke="#909090" stroke-width="0.55"/>
<path d="M166.45,182.49 L166.43,182.99 L166.38,183.49 L166.29,183.98 L166.17,184.46 L166.02,184.93 L165.85,185.37 L165.66,185.80 L165.45,186.20 L165.23,186.57 L165.01,186.91 L164.78,187.21 L164.55,187.48 L164.33,187.72 L164.11,187.91 L163.89,188.06 L163.68,188.17 L163.47,188.24 L163.26,188.26 L163.05,188.24 L162.84,188.17 L162.62,188.06 L162.41,187.91 L162.18,187.72 L161.96,187.48 L161.73,187.21 L161.51,186.91 L161.28,186.57 L161.06,186.20 L160.86,185.80 L160.66,185.37 L160.49,184.93 L160.34,184.46 L160.22,183.98 L160.14,183.49 L160.08,182.99 L160.06,182.49 L160.08,182.03 L160.11,181.58 L160.17,181.13 L160.26,180.70 L160.36,180.28 L160.49,179.87 L160.64,179.49 L160.81,179.13 L161.00,178.79 L161.20,178.49 L161.42,178.21 L161.66,177.96 L161.91,177.75 L162.16,177.58 L162.43,177.44 L162.70,177.34 L162.98,177.28 L163.26,177.26 L163.54,177.28 L163.81,177.34 L164.08,177.44 L164.35,177.58 L164.61,177.75 L164.85,177.96 L165.09,178.21 L165.31,178.49 L165.52,178.79 L165.70,179.13 L165.87,179.49 L166.02,179.87 L166.15,180.28 L166.26,180.70 L166.34,181.13 L166.40,181.58 L166.44,182.03Z" fill="none" stroke="#999" stroke-width="0.55"/>
<path d="M165.18,182.42 L165.17,182.76 L165.13,183.09 L165.08,183.41 L165.00,183.73 L164.90,184.04 L164.78,184.33 L164.66,184.61 L164.52,184.88 L164.38,185.12 L164.23,185.35 L164.08,185.55 L163.93,185.73 L163.78,185.88 L163.63,186.01 L163.49,186.11 L163.35,186.18 L163.21,186.23 L163.07,186.24 L162.93,186.23 L162.79,186.18 L162.65,186.11 L162.51,186.01 L162.36,185.88 L162.21,185.73 L162.06,185.55 L161.91,185.35 L161.76,185.12 L161.62,184.88 L161.48,184.61 L161.35,184.33 L161.24,184.04 L161.14,183.73 L161.06,183.41 L161.00,183.09 L160.97,182.76 L160.96,182.42 L160.96,182.12 L160.99,181.82 L161.03,181.53 L161.08,181.24 L161.15,180.96 L161.24,180.70 L161.34,180.44 L161.45,180.20 L161.57,179.98 L161.71,179.78 L161.86,179.59 L162.01,179.43 L162.18,179.29 L162.35,179.18 L162.52,179.09 L162.70,179.02 L162.88,178.98 L163.07,178.97 L163.25,178.98 L163.44,179.02 L163.62,179.09 L163.79,179.18 L163.96,179.29 L164.13,179.43 L164.28,179.59 L164.43,179.78 L164.56,179.98 L164.69,180.20 L164.80,180.44 L164.90,180.70 L164.98,180.96 L165.05,181.24 L165.11,181.53 L165.15,181.82 L165.17,182.12Z" fill="none" stroke="#a0a0a0" stroke-width="0.55"/>
<path d="M163.91,182.36 L163.91,182.52 L163.89,182.68 L163.86,182.84 L163.82,183.00 L163.77,183.15 L163.72,183.29 L163.66,183.43 L163.59,183.56 L163.52,183.68 L163.45,183.79 L163.37,183.89 L163.30,183.97 L163.23,184.05 L163.16,184.11 L163.08,184.16 L163.02,184.20 L162.95,184.22 L162.88,184.22 L162.81,184.22 L162.74,184.20 L162.68,184.16 L162.60,184.11 L162.53,184.05 L162.46,183.97 L162.39,183.89 L162.31,183.79 L162.24,183.68 L162.17,183.56 L162.10,183.43 L162.04,183.29 L161.99,183.15 L161.94,183.00 L161.90,182.84 L161.87,182.68 L161.85,182.52 L161.85,182.36 L161.85,182.21 L161.86,182.07 L161.88,181.92 L161.91,181.78 L161.94,181.65 L161.99,181.52 L162.03,181.39 L162.09,181.28 L162.15,181.17 L162.22,181.07 L162.29,180.98 L162.36,180.90 L162.44,180.83 L162.53,180.77 L162.61,180.73 L162.70,180.70 L162.79,180.68 L162.88,180.67 L162.97,180.68 L163.06,180.70 L163.15,180.73 L163.23,180.77 L163.32,180.83 L163.40,180.90 L163.47,180.98 L163.54,181.07 L163.61,181.17 L163.67,181.28 L163.73,181.39 L163.77,181.52 L163.82,181.65 L163.85,181.78 L163.88,181.92 L163.90,182.07 L163.91,182.21Z" fill="none" stroke="#aaa" stroke-width="0.55"/>
</g>
<g filter="url(#soft)">
<path d="M172.40,214.80 L172.36,216.21 L172.25,217.45 L172.06,218.60 L171.80,219.70 L171.46,220.74 L171.05,221.72 L170.58,222.64 L170.03,223.50 L169.43,224.29 L168.76,225.00 L168.04,225.64 L167.26,226.21 L166.43,226.69 L165.55,227.09 L164.62,227.40 L163.64,227.62 L162.60,227.76 L161.40,227.80 L160.20,227.76 L159.16,227.62 L158.18,227.40 L157.25,227.09 L156.37,226.69 L155.54,226.21 L154.76,225.64 L154.04,225.00 L153.37,224.29 L152.77,223.50 L152.22,222.64 L151.75,221.72 L151.34,220.74 L151.00,219.70 L150.74,218.60 L150.55,217.45 L150.44,216.21 L150.40,214.80 L150.44,213.39 L150.55,212.15 L150.74,211.00 L151.00,209.90 L151.34,208.86 L151.75,207.88 L152.22,206.96 L152.77,206.10 L153.37,205.31 L154.04,204.60 L154.76,203.96 L155.54,203.39 L156.37,202.91 L157.25,202.51 L158.18,202.20 L159.16,201.98 L160.20,201.84 L161.40,201.80 L162.60,201.84 L163.64,201.98 L164.62,202.20 L165.55,202.51 L166.43,202.91 L167.26,203.39 L168.04,203.96 L168.76,204.60 L169.43,205.31 L170.03,206.10 L170.58,206.96 L171.05,207.88 L171.46,208.86 L171.80,209.90 L172.06,211.00 L172.25,212.15 L172.36,213.39Z" fill="#cccccc"/>
<path d="M172.40,214.80 L172.36,216.21 L172.25,217.45 L172.06,218.60 L171.80,219.70 L171.46,220.74 L171.05,221.72 L170.58,222.64 L170.03,223.50 L169.43,224.29 L168.76,225.00 L168.04,225.64 L167.26,226.21 L166.43,226.69 L165.55,227.09 L164.62,227.40 L163.64,227.62 L162.60,227.76 L161.40,227.80 L160.20,227.76 L159.16,227.62 L158.18,227.40 L157.25,227.09 L156.37,226.69 L155.54,226.21 L154.76,225.64 L154.04,225.00 L153.37,224.29 L152.77,223.50 L152.22,222.64 L151.75,221.72 L151.34,220.74 L151.00,219.70 L150.74,218.60 L150.55,217.45 L150.44,216.21 L150.40,214.80 L150.44,213.39 L150.55,212.15 L150.74,211.00 L151.00,209.90 L151.34,208.86 L151.75,207.88 L152.22,206.96 L152.77,206.10 L153.37,205.31 L154.04,204.60 L154.76,203.96 L155.54,203.39 L156.37,202.91 L157.25,202.51 L158.18,202.20 L159.16,201.98 L160.20,201.84 L161.40,201.80 L162.60,201.84 L163.64,201.98 L164.62,202.20 L165.55,202.51 L166.43,202.91 L167.26,203.39 L168.04,203.96 L168.76,204.60 L169.43,205.31 L170.03,206.10 L170.58,206.96 L171.05,207.88 L171.46,208.86 L171.80,209.90 L172.06,211.00 L172.25,212.15 L172.36,213.39Z" fill="none" stroke="#555" stroke-width="0.6"/>
<path d="M171.50,214.84 L171.46,216.15 L171.36,217.29 L171.18,218.36 L170.94,219.37 L170.63,220.33 L170.25,221.24 L169.81,222.09 L169.31,222.88 L168.75,223.61 L168.13,224.28 L167.46,224.87 L166.74,225.39 L165.98,225.83 L165.16,226.20 L164.30,226.49 L163.40,226.70 L162.43,226.82 L161.33,226.86 L160.22,226.82 L159.25,226.70 L158.35,226.49 L157.49,226.20 L156.67,225.83 L155.91,225.39 L155.19,224.87 L154.52,224.28 L153.90,223.61 L153.34,222.88 L152.84,222.09 L152.40,221.24 L152.02,220.33 L151.71,219.37 L151.47,218.36 L151.29,217.29 L151.19,216.15 L151.15,214.84 L151.19,213.53 L151.29,212.39 L151.47,211.32 L151.71,210.30 L152.02,209.34 L152.40,208.43 L152.84,207.58 L153.34,206.79 L153.90,206.06 L154.52,205.40 L155.19,204.81 L155.91,204.29 L156.67,203.84 L157.49,203.47 L158.35,203.19 L159.25,202.98 L160.22,202.85 L161.32,202.81 L162.43,202.85 L163.40,202.98 L164.30,203.19 L165.16,203.47 L165.98,203.84 L166.74,204.29 L167.46,204.81 L168.13,205.40 L168.75,206.06 L169.31,206.79 L169.81,207.58 L170.25,208.43 L170.63,209.34 L170.94,210.30 L171.18,211.32 L171.36,212.39 L171.46,213.53Z" fill="none" stroke="#707070" stroke-width="0.6"/>
<path d="M170.60,214.88 L170.57,216.08 L170.47,217.12 L170.31,218.11 L170.09,219.04 L169.80,219.93 L169.45,220.76 L169.05,221.54 L168.59,222.27 L168.07,222.94 L167.51,223.55 L166.89,224.09 L166.23,224.57 L165.52,224.98 L164.78,225.32 L163.99,225.58 L163.15,225.77 L162.27,225.89 L161.25,225.93 L160.23,225.89 L159.35,225.77 L158.51,225.58 L157.72,225.32 L156.98,224.98 L156.27,224.57 L155.61,224.09 L154.99,223.55 L154.43,222.94 L153.91,222.27 L153.45,221.54 L153.05,220.76 L152.70,219.93 L152.41,219.04 L152.19,218.11 L152.03,217.12 L151.93,216.08 L151.90,214.88 L151.93,213.67 L152.03,212.63 L152.19,211.64 L152.41,210.71 L152.70,209.82 L153.05,208.99 L153.45,208.21 L153.91,207.48 L154.43,206.81 L154.99,206.20 L155.61,205.66 L156.27,205.18 L156.98,204.77 L157.72,204.43 L158.51,204.17 L159.35,203.98 L160.23,203.86 L161.25,203.82 L162.27,203.86 L163.15,203.98 L163.99,204.17 L164.78,204.43 L165.52,204.77 L166.23,205.18 L166.89,205.66 L167.51,206.20 L168.07,206.81 L168.59,207.48 L169.05,208.21 L169.45,208.99 L169.80,209.82 L170.09,210.71 L170.31,211.64 L170.47,212.63 L170.57,213.67Z" fill="none" stroke="#777" stroke-width="0.6"/>
<path d="M169.70,214.91 L169.67,216.01 L169.58,216.96 L169.44,217.86 L169.23,218.71 L168.97,219.52 L168.66,220.28 L168.29,220.99 L167.87,221.65 L167.40,222.26 L166.88,222.82 L166.32,223.32 L165.71,223.75 L165.07,224.13 L164.39,224.43 L163.67,224.67 L162.91,224.85 L162.10,224.95 L161.18,224.99 L160.25,224.95 L159.44,224.85 L158.68,224.67 L157.96,224.43 L157.28,224.13 L156.64,223.75 L156.03,223.32 L155.47,222.82 L154.95,222.26 L154.48,221.65 L154.06,220.99 L153.69,220.28 L153.38,219.52 L153.12,218.71 L152.91,217.86 L152.77,216.96 L152.68,216.01 L152.65,214.91 L152.68,213.82 L152.77,212.86 L152.91,211.96 L153.12,211.11 L153.38,210.31 L153.69,209.55 L154.06,208.83 L154.48,208.17 L154.95,207.56 L155.47,207.01 L156.03,206.51 L156.64,206.07 L157.28,205.70 L157.96,205.39 L158.68,205.15 L159.44,204.98 L160.25,204.87 L161.17,204.84 L162.10,204.87 L162.91,204.98 L163.67,205.15 L164.39,205.39 L165.07,205.70 L165.71,206.07 L166.32,206.51 L166.88,207.01 L167.40,207.56 L167.87,208.17 L168.29,208.83 L168.66,209.55 L168.97,210.31 L169.23,211.11 L169.44,211.96 L169.58,212.86 L169.67,213.82Z" fill="none" stroke="#8a8a8a" stroke-width="0.6"/>
<path d="M168.80,214.95 L168.77,215.94 L168.69,216.80 L168.56,217.61 L168.38,218.38 L168.14,219.11 L167.86,219.80 L167.52,220.44 L167.14,221.04 L166.72,221.59 L166.25,222.09 L165.75,222.54 L165.20,222.93 L164.62,223.27 L164.00,223.55 L163.35,223.77 L162.67,223.92 L161.94,224.02 L161.10,224.05 L160.26,224.02 L159.53,223.92 L158.85,223.77 L158.20,223.55 L157.58,223.27 L157.00,222.93 L156.45,222.54 L155.95,222.09 L155.48,221.59 L155.06,221.04 L154.68,220.44 L154.34,219.80 L154.06,219.11 L153.82,218.38 L153.64,217.61 L153.51,216.80 L153.43,215.94 L153.40,214.95 L153.43,213.96 L153.51,213.10 L153.64,212.29 L153.82,211.52 L154.06,210.79 L154.34,210.10 L154.68,209.46 L155.06,208.86 L155.48,208.31 L155.95,207.81 L156.45,207.36 L157.00,206.97 L157.58,206.63 L158.20,206.35 L158.85,206.13 L159.53,205.98 L160.26,205.88 L161.10,205.85 L161.94,205.88 L162.67,205.98 L163.35,206.13 L164.00,206.35 L164.62,206.63 L165.20,206.97 L165.75,207.36 L166.25,207.81 L166.72,208.31 L167.14,208.86 L167.52,209.46 L167.86,210.10 L168.14,210.79 L168.38,211.52 L168.56,212.29 L168.69,213.10 L168.77,213.96Z" fill="none" stroke="#7a7a7a" stroke-width="0.6"/>
<path d="M167.90,214.99 L167.88,215.87 L167.80,216.64 L167.69,217.37 L167.52,218.05 L167.31,218.70 L167.06,219.31 L166.76,219.89 L166.42,220.42 L166.04,220.92 L165.63,221.36 L165.17,221.76 L164.69,222.12 L164.17,222.42 L163.62,222.67 L163.04,222.86 L162.42,223.00 L161.77,223.08 L161.03,223.11 L160.28,223.08 L159.63,223.00 L159.01,222.86 L158.43,222.67 L157.88,222.42 L157.36,222.12 L156.88,221.76 L156.42,221.36 L156.01,220.92 L155.63,220.42 L155.29,219.89 L154.99,219.31 L154.74,218.70 L154.53,218.05 L154.36,217.37 L154.25,216.64 L154.17,215.87 L154.15,214.99 L154.17,214.10 L154.25,213.33 L154.36,212.61 L154.53,211.92 L154.74,211.27 L154.99,210.66 L155.29,210.09 L155.63,209.55 L156.01,209.06 L156.42,208.61 L156.88,208.21 L157.36,207.86 L157.88,207.56 L158.43,207.31 L159.01,207.11 L159.63,206.97 L160.28,206.89 L161.02,206.86 L161.77,206.89 L162.42,206.97 L163.04,207.11 L163.62,207.31 L164.17,207.56 L164.69,207.86 L165.17,208.21 L165.63,208.61 L166.04,209.06 L166.42,209.55 L166.76,210.09 L167.06,210.66 L167.31,211.27 L167.52,211.92 L167.69,212.61 L167.80,213.33 L167.88,214.10Z" fill="none" stroke="#909090" stroke-width="0.6"/>
<path d="M167.00,215.03 L166.98,215.80 L166.92,216.48 L166.81,217.12 L166.67,217.72 L166.48,218.29 L166.26,218.83 L166.00,219.34 L165.70,219.81 L165.36,220.24 L165.00,220.64 L164.60,220.99 L164.17,221.30 L163.72,221.56 L163.23,221.78 L162.72,221.95 L162.18,222.08 L161.61,222.15 L160.95,222.18 L160.29,222.15 L159.72,222.08 L159.18,221.95 L158.67,221.78 L158.18,221.56 L157.73,221.30 L157.30,220.99 L156.90,220.64 L156.54,220.24 L156.20,219.81 L155.90,219.34 L155.64,218.83 L155.42,218.29 L155.23,217.72 L155.09,217.12 L154.98,216.48 L154.92,215.80 L154.90,215.03 L154.92,214.25 L154.98,213.57 L155.09,212.93 L155.23,212.33 L155.42,211.76 L155.64,211.22 L155.90,210.71 L156.20,210.24 L156.54,209.81 L156.90,209.41 L157.30,209.06 L157.73,208.75 L158.18,208.49 L158.67,208.27 L159.18,208.10 L159.72,207.97 L160.29,207.90 L160.95,207.88 L161.61,207.90 L162.18,207.97 L162.72,208.10 L163.23,208.27 L163.72,208.49 L164.17,208.75 L164.60,209.06 L165.00,209.41 L165.36,209.81 L165.70,210.24 L166.00,210.71 L166.26,211.22 L166.48,211.76 L166.67,212.33 L166.81,212.93 L166.92,213.57 L166.98,214.25Z" fill="none" stroke="#808080" stroke-width="0.6"/>
<path d="M166.10,215.06 L166.08,215.73 L166.03,216.32 L165.94,216.87 L165.81,217.39 L165.65,217.88 L165.46,218.35 L165.23,218.79 L164.98,219.19 L164.69,219.57 L164.37,219.91 L164.03,220.21 L163.66,220.48 L163.26,220.71 L162.85,220.90 L162.40,221.05 L161.94,221.15 L161.44,221.22 L160.88,221.24 L160.31,221.22 L159.81,221.15 L159.35,221.05 L158.90,220.90 L158.49,220.71 L158.09,220.48 L157.72,220.21 L157.38,219.91 L157.06,219.57 L156.77,219.19 L156.52,218.79 L156.29,218.35 L156.10,217.88 L155.94,217.39 L155.81,216.87 L155.72,216.32 L155.67,215.73 L155.65,215.06 L155.67,214.39 L155.72,213.81 L155.81,213.26 L155.94,212.73 L156.10,212.24 L156.29,211.77 L156.52,211.34 L156.77,210.93 L157.06,210.56 L157.38,210.22 L157.72,209.91 L158.09,209.64 L158.49,209.42 L158.90,209.23 L159.35,209.08 L159.81,208.97 L160.31,208.91 L160.87,208.89 L161.44,208.91 L161.94,208.97 L162.40,209.08 L162.85,209.23 L163.26,209.42 L163.66,209.64 L164.03,209.91 L164.37,210.22 L164.69,210.56 L164.98,210.93 L165.23,211.34 L165.46,211.77 L165.65,212.24 L165.81,212.73 L165.94,213.26 L166.03,213.81 L166.08,214.39Z" fill="none" stroke="#999" stroke-width="0.6"/>
<path d="M165.20,215.10 L165.18,215.67 L165.14,216.16 L165.06,216.62 L164.96,217.06 L164.82,217.48 L164.66,217.87 L164.47,218.24 L164.25,218.58 L164.01,218.89 L163.74,219.18 L163.45,219.44 L163.14,219.66 L162.81,219.86 L162.46,220.01 L162.09,220.14 L161.70,220.23 L161.28,220.28 L160.80,220.30 L160.32,220.28 L159.90,220.23 L159.51,220.14 L159.14,220.01 L158.79,219.86 L158.46,219.66 L158.15,219.44 L157.86,219.18 L157.59,218.89 L157.35,218.58 L157.13,218.24 L156.94,217.87 L156.78,217.48 L156.64,217.06 L156.54,216.62 L156.46,216.16 L156.42,215.67 L156.40,215.10 L156.42,214.53 L156.46,214.04 L156.54,213.58 L156.64,213.14 L156.78,212.72 L156.94,212.33 L157.13,211.96 L157.35,211.62 L157.59,211.31 L157.86,211.02 L158.15,210.76 L158.46,210.54 L158.79,210.34 L159.14,210.19 L159.51,210.06 L159.90,209.97 L160.32,209.92 L160.80,209.90 L161.28,209.92 L161.70,209.97 L162.09,210.06 L162.46,210.19 L162.81,210.34 L163.14,210.54 L163.45,210.76 L163.74,211.02 L164.01,211.31 L164.25,211.62 L164.47,211.96 L164.66,212.33 L164.82,212.72 L164.96,213.14 L165.06,213.58 L165.14,214.04 L165.18,214.53Z" fill="none" stroke="#888" stroke-width="0.6"/>
<path d="M164.30,215.14 L164.29,215.60 L164.25,216.00 L164.19,216.37 L164.10,216.73 L163.99,217.07 L163.86,217.39 L163.71,217.69 L163.53,217.96 L163.33,218.22 L163.12,218.45 L162.88,218.66 L162.63,218.84 L162.36,219.00 L162.07,219.13 L161.77,219.23 L161.45,219.30 L161.11,219.35 L160.72,219.36 L160.34,219.35 L160.00,219.30 L159.68,219.23 L159.38,219.13 L159.09,219.00 L158.82,218.84 L158.57,218.66 L158.33,218.45 L158.12,218.22 L157.92,217.96 L157.74,217.69 L157.59,217.39 L157.46,217.07 L157.35,216.73 L157.26,216.37 L157.20,216.00 L157.16,215.60 L157.15,215.14 L157.16,214.68 L157.20,214.28 L157.26,213.90 L157.35,213.54 L157.46,213.21 L157.59,212.89 L157.74,212.59 L157.92,212.31 L158.12,212.05 L158.33,211.82 L158.57,211.61 L158.82,211.43 L159.09,211.27 L159.38,211.14 L159.68,211.04 L160.00,210.97 L160.34,210.93 L160.72,210.91 L161.11,210.93 L161.45,210.97 L161.77,211.04 L162.07,211.14 L162.36,211.27 L162.63,211.43 L162.88,211.61 L163.12,211.82 L163.33,212.05 L163.53,212.31 L163.71,212.59 L163.86,212.89 L163.99,213.21 L164.10,213.54 L164.19,213.90 L164.25,214.28 L164.29,214.68Z" fill="none" stroke="#a0a0a0" stroke-width="0.6"/>
<path d="M163.40,215.18 L163.39,215.53 L163.36,215.84 L163.31,216.13 L163.25,216.40 L163.16,216.66 L163.06,216.91 L162.94,217.14 L162.81,217.35 L162.66,217.55 L162.49,217.73 L162.31,217.89 L162.11,218.03 L161.91,218.15 L161.69,218.25 L161.45,218.32 L161.21,218.38 L160.95,218.41 L160.65,218.43 L160.35,218.41 L160.09,218.38 L159.85,218.32 L159.61,218.25 L159.39,218.15 L159.19,218.03 L158.99,217.89 L158.81,217.73 L158.64,217.55 L158.49,217.35 L158.36,217.14 L158.24,216.91 L158.14,216.66 L158.05,216.40 L157.99,216.13 L157.94,215.84 L157.91,215.53 L157.90,215.18 L157.91,214.82 L157.94,214.51 L157.99,214.22 L158.05,213.95 L158.14,213.69 L158.24,213.44 L158.36,213.21 L158.49,213.00 L158.64,212.80 L158.81,212.62 L158.99,212.46 L159.19,212.32 L159.39,212.20 L159.61,212.10 L159.85,212.03 L160.09,211.97 L160.35,211.94 L160.65,211.93 L160.95,211.94 L161.21,211.97 L161.45,212.03 L161.69,212.10 L161.91,212.20 L162.11,212.32 L162.31,212.46 L162.49,212.62 L162.66,212.80 L162.81,213.00 L162.94,213.21 L163.06,213.44 L163.16,213.69 L163.25,213.95 L163.31,214.22 L163.36,214.51 L163.39,214.82Z" fill="none" stroke="#999" stroke-width="0.6"/>
<path d="M162.50,215.21 L162.49,215.46 L162.47,215.68 L162.44,215.88 L162.39,216.07 L162.34,216.25 L162.26,216.42 L162.18,216.59 L162.09,216.73 L161.98,216.87 L161.86,217.00 L161.74,217.11 L161.60,217.21 L161.45,217.29 L161.30,217.36 L161.14,217.42 L160.97,217.46 L160.78,217.48 L160.58,217.49 L160.37,217.48 L160.18,217.46 L160.01,217.42 L159.85,217.36 L159.70,217.29 L159.55,217.21 L159.41,217.11 L159.29,217.00 L159.17,216.87 L159.06,216.73 L158.97,216.59 L158.89,216.42 L158.81,216.25 L158.76,216.07 L158.71,215.88 L158.68,215.68 L158.66,215.46 L158.65,215.21 L158.66,214.96 L158.68,214.75 L158.71,214.55 L158.76,214.35 L158.81,214.17 L158.89,214.00 L158.97,213.84 L159.06,213.69 L159.17,213.55 L159.29,213.43 L159.41,213.31 L159.55,213.22 L159.70,213.13 L159.85,213.06 L160.01,213.01 L160.18,212.97 L160.37,212.95 L160.58,212.94 L160.78,212.95 L160.97,212.97 L161.14,213.01 L161.30,213.06 L161.45,213.13 L161.60,213.22 L161.74,213.31 L161.86,213.43 L161.98,213.55 L162.09,213.69 L162.18,213.84 L162.26,214.00 L162.34,214.17 L162.39,214.35 L162.44,214.55 L162.47,214.75 L162.49,214.96Z" fill="none" stroke="#b0b0b0" stroke-width="0.6"/>
<path d="M161.60,215.25 L161.60,215.39 L161.58,215.51 L161.57,215.63 L161.54,215.74 L161.51,215.84 L161.47,215.94 L161.42,216.03 L161.36,216.12 L161.30,216.20 L161.24,216.27 L161.16,216.33 L161.09,216.39 L161.00,216.44 L160.91,216.48 L160.82,216.51 L160.72,216.53 L160.62,216.55 L160.50,216.55 L160.38,216.55 L160.28,216.53 L160.18,216.51 L160.09,216.48 L160.00,216.44 L159.91,216.39 L159.84,216.33 L159.76,216.27 L159.70,216.20 L159.64,216.12 L159.58,216.03 L159.53,215.94 L159.49,215.84 L159.46,215.74 L159.43,215.63 L159.42,215.51 L159.40,215.39 L159.40,215.25 L159.40,215.11 L159.42,214.99 L159.43,214.87 L159.46,214.76 L159.49,214.66 L159.53,214.56 L159.58,214.47 L159.64,214.38 L159.70,214.30 L159.76,214.23 L159.84,214.17 L159.91,214.11 L160.00,214.06 L160.09,214.02 L160.18,213.99 L160.28,213.97 L160.38,213.95 L160.50,213.95 L160.62,213.95 L160.72,213.97 L160.82,213.99 L160.91,214.02 L161.00,214.06 L161.09,214.11 L161.16,214.17 L161.24,214.23 L161.30,214.30 L161.36,214.38 L161.42,214.47 L161.47,214.56 L161.51,214.66 L161.54,214.76 L161.57,214.87 L161.58,214.99 L161.60,215.11Z" fill="none" stroke="#aaa" stroke-width="0.6"/>
<ellipse cx="160.40" cy="215.30" rx="0.8" ry="0.8" fill="#fff" opacity="0.9"/>
</g>
<path d="M171.5,204 C180.5,204 189.5,208.0 189.5,214 C189.5,220.0 180.5,224 171.5,224" fill="none" stroke="#888" stroke-width="0.5"/>
<path d="M171.5,205.5 C179.25,205.5 187,208.7 187,213.5 C187,218.3 179.25,221.5 171.5,221.5" fill="none" stroke="#888" stroke-width="0.5"/>
<path d="M171.5,207 C177.75,207 184,209.4 184,213 C184,216.6 177.75,219 171.5,219" fill="none" stroke="#888" stroke-width="0.5"/>
<path d="M171.5,208.2 C176.25,208.2 181,209.92 181,212.5 C181,215.08 176.25,216.8 171.5,216.8" fill="none" stroke="#888" stroke-width="0.5"/>
<path d="M171.5,209.2 C174.75,209.2 178,210.32 178,212 C178,213.68 174.75,214.8 171.5,214.8" fill="none" stroke="#888" stroke-width="0.5"/>
<line x1="174.30" y1="150.60" x2="174.30" y2="232.90" stroke="#4a4a4a" stroke-width="1.1"/>
<line x1="144.90" y1="198.90" x2="228.80" y2="198.90" stroke="#4a4a4a" stroke-width="1.1"/>
<text x="155.20" y="162.90" font-size="10" font-weight="bold" text-anchor="start" fill="#111" stroke="#111" stroke-width="0.12" >13</text>
<text x="213.00" y="162.80" font-size="10" font-weight="bold" text-anchor="start" fill="#111" stroke="#111" stroke-width="0.12" >3</text>
<text x="212.60" y="222.90" font-size="10" font-weight="bold" text-anchor="start" fill="#111" stroke="#111" stroke-width="0.12" >8</text>
<rect x="180.55" y="168.45" width="1.3" height="1.3" fill="#222"/>
<rect x="178.85" y="171.35" width="1.3" height="1.3" fill="#222"/>
<rect x="190.15" y="170.85" width="1.3" height="1.3" fill="#222"/>
<rect x="175.75" y="178.05" width="1.3" height="1.3" fill="#222"/>
<rect x="179.85" y="178.05" width="1.3" height="1.3" fill="#222"/>
<rect x="185.35" y="178.55" width="1.3" height="1.3" fill="#222"/>
<rect x="187.25" y="180.25" width="1.3" height="1.3" fill="#222"/>
<rect x="192.55" y="178.55" width="1.3" height="1.3" fill="#222"/>
<rect x="194.95" y="176.65" width="1.3" height="1.3" fill="#222"/>
<rect x="180.55" y="184.05" width="1.3" height="1.3" fill="#222"/>
<rect x="194.15" y="188.65" width="1.3" height="1.3" fill="#222"/>
<rect x="169.75" y="176.65" width="1.3" height="1.3" fill="#222"/>
<rect x="166.65" y="191.05" width="1.3" height="1.3" fill="#222"/>
<rect x="178.15" y="202.05" width="1.3" height="1.3" fill="#222"/>
<rect x="187.75" y="204.95" width="1.3" height="1.3" fill="#222"/>
<rect x="188.45" y="210.95" width="1.3" height="1.3" fill="#222"/>
<rect x="193.75" y="210.15" width="1.3" height="1.3" fill="#222"/>
<rect x="192.55" y="214.95" width="1.3" height="1.3" fill="#222"/>
<rect x="194.95" y="216.95" width="1.3" height="1.3" fill="#222"/>
<rect x="191.35" y="220.55" width="1.3" height="1.3" fill="#222"/>
<rect x="196.55" y="219.75" width="1.3" height="1.3" fill="#222"/>
<rect x="191.35" y="222.85" width="1.3" height="1.3" fill="#222"/>
<line x1="26.50" y1="45.00" x2="26.50" y2="89.60" stroke="#333" stroke-width="1.0"/>
<polygon points="26.5,41 24,46.3 29,46.3" fill="#111"/>
<text transform="translate(30,111.3) rotate(-90)" font-size="11" text-anchor="middle" fill="#111" stroke="#111" stroke-width="0.08">IFN-<tspan fill="#555" font-size="10" font-style="italic">&#947;</tspan></text>
<line x1="26.50" y1="152.00" x2="26.50" y2="195.00" stroke="#333" stroke-width="1.0"/>
<polygon points="26.5,148.2 24,153.5 29,153.5" fill="#111"/>
<text transform="translate(30.9,216.6) rotate(-90)" font-size="12.3" text-anchor="middle" fill="#111" stroke="#111" stroke-width="0.08">IL-17A</text>
<text x="48.20" y="253.50" font-size="11" font-weight="normal" text-anchor="start" fill="#111" stroke="#111" stroke-width="0.08">GM-CSF</text>
<line x1="104.30" y1="249.50" x2="222.00" y2="249.50" stroke="#333" stroke-width="1.0"/>
<polygon points="226.5,249.5 220.5,247 220.5,252" fill="#111"/>
</svg></body></html>
